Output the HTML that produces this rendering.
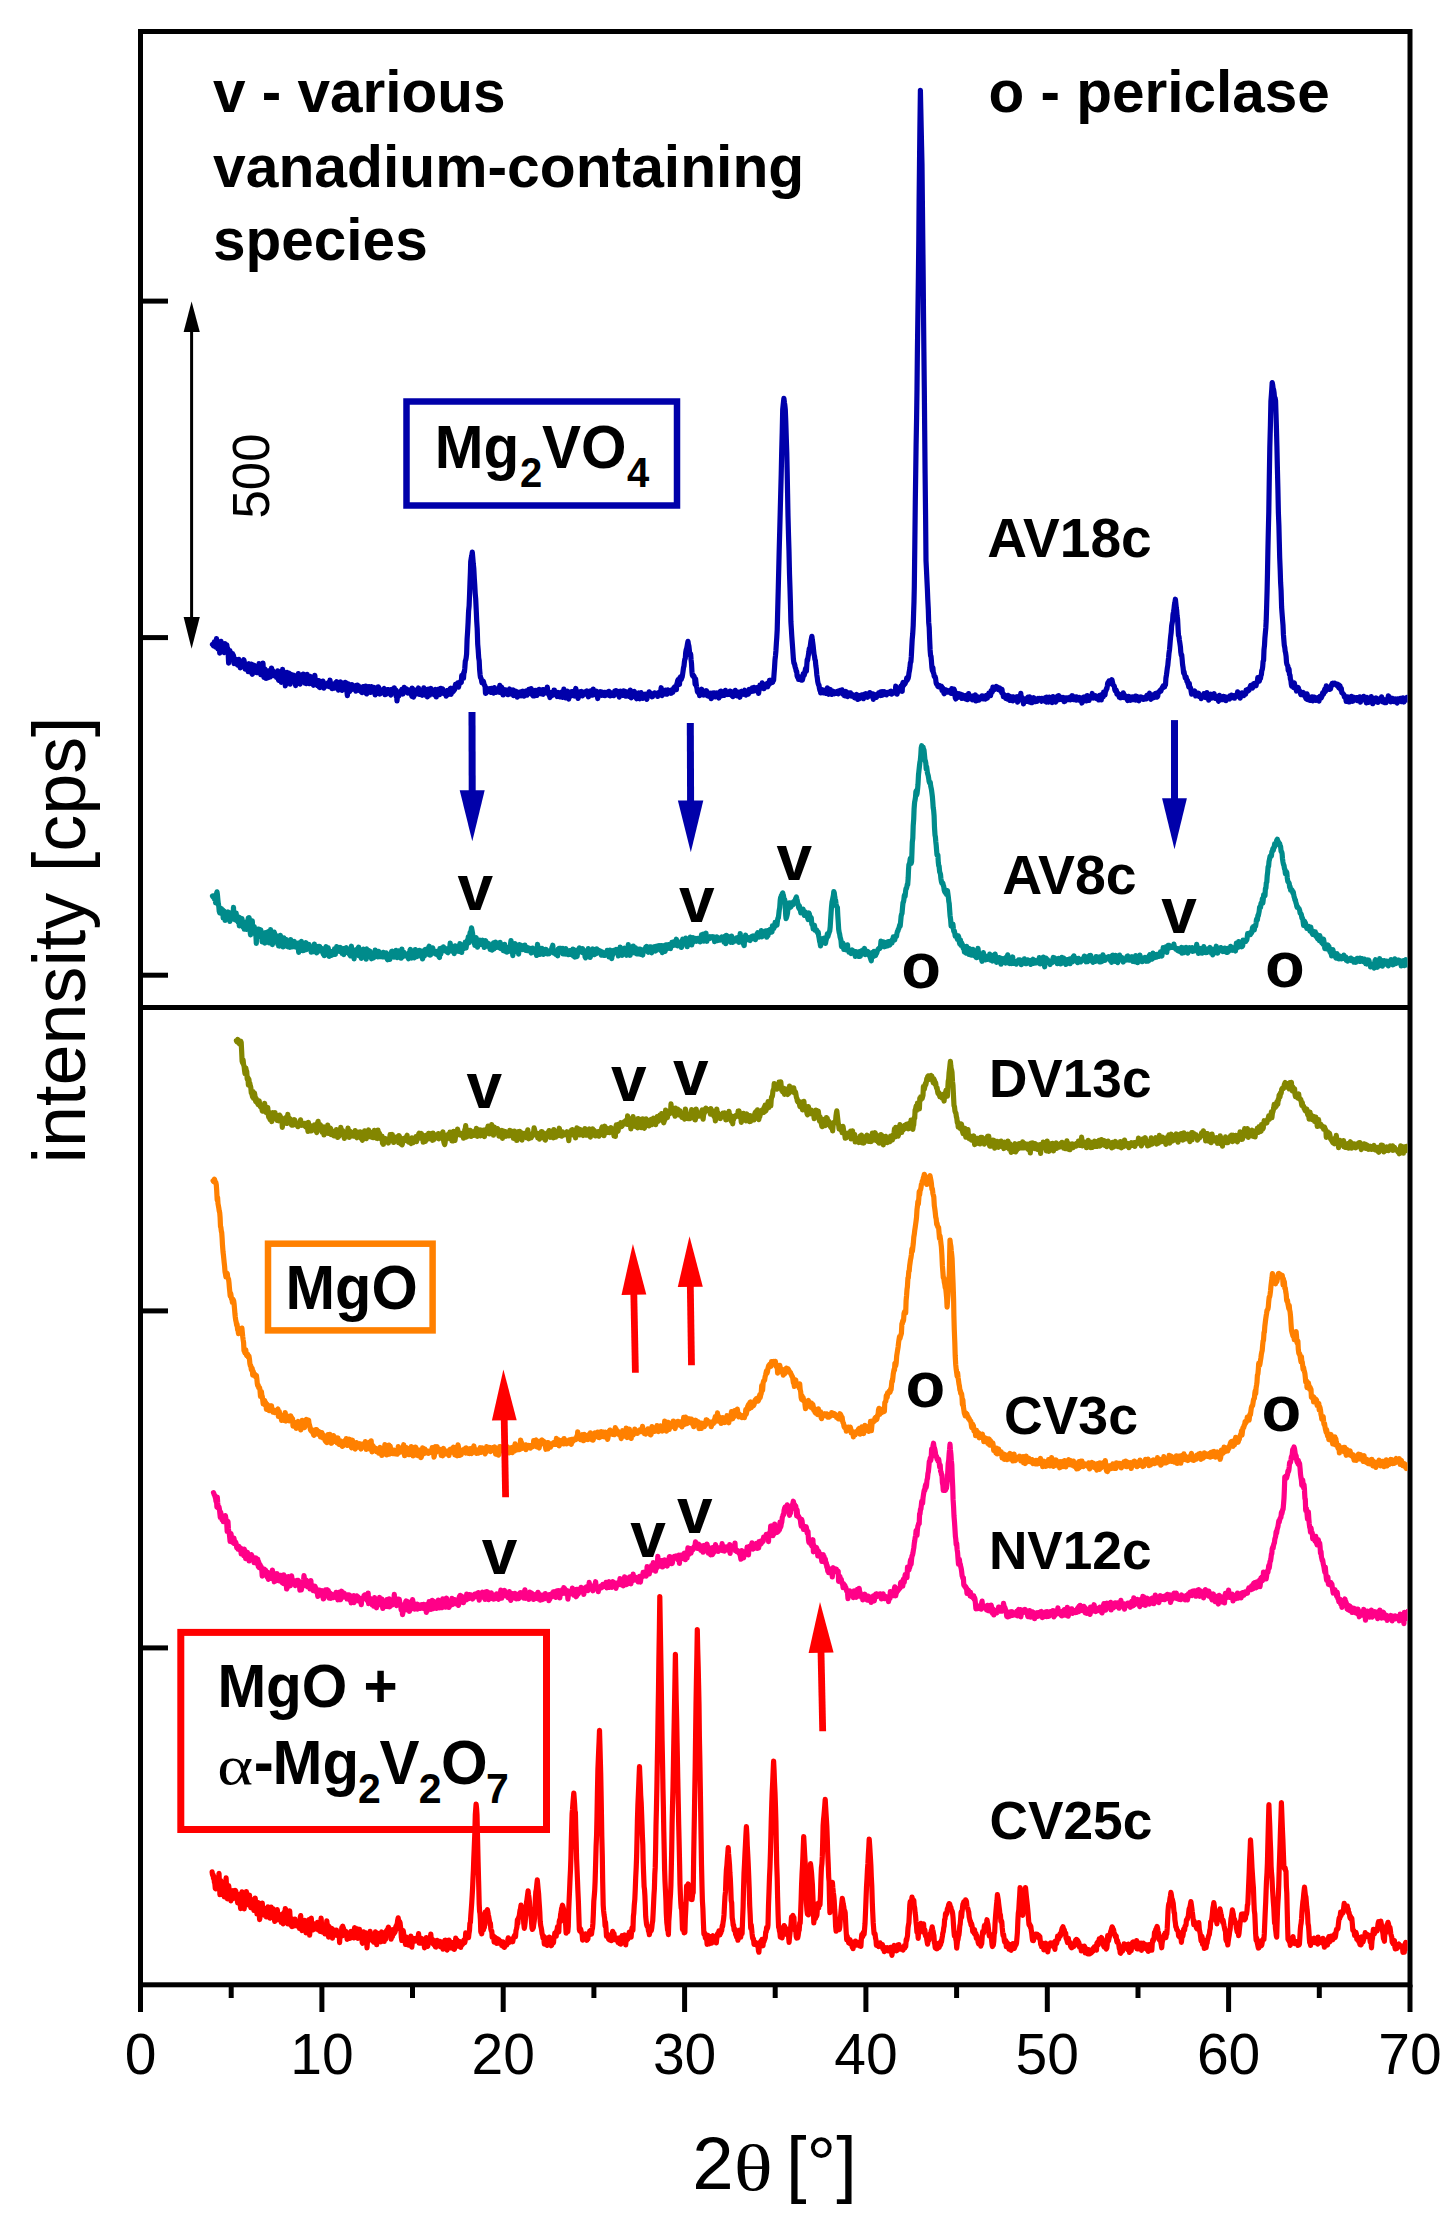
<!DOCTYPE html>
<html><head><meta charset="utf-8"><title>XRD</title>
<style>html,body{margin:0;padding:0;background:#fff;overflow:hidden;width:1455px;height:2240px;}svg{display:block;}</style></head>
<body><svg width="1455" height="2240" viewBox="0 0 1455 2240">
<rect x="0" y="0" width="1455" height="2240" fill="#fff"/>
<rect x="140.5" y="31.5" width="1269.5" height="1953.3" fill="none" stroke="#000" stroke-width="5"/>
<line x1="140.5" y1="1007.6" x2="1410" y2="1007.6" stroke="#000" stroke-width="5"/>
<line x1="140.5" y1="301.1" x2="168" y2="301.1" stroke="#000" stroke-width="5"/>
<line x1="140.5" y1="637.6" x2="168" y2="637.6" stroke="#000" stroke-width="5"/>
<line x1="140.5" y1="975.2" x2="168" y2="975.2" stroke="#000" stroke-width="5"/>
<line x1="140.5" y1="1310.9" x2="168" y2="1310.9" stroke="#000" stroke-width="5"/>
<line x1="140.5" y1="1647.9" x2="168" y2="1647.9" stroke="#000" stroke-width="5"/>
<line x1="140.5" y1="1984.7" x2="140.5" y2="2012" stroke="#000" stroke-width="5"/>
<line x1="231.2" y1="1984.7" x2="231.2" y2="1998" stroke="#000" stroke-width="5"/>
<line x1="321.9" y1="1984.7" x2="321.9" y2="2012" stroke="#000" stroke-width="5"/>
<line x1="412.5" y1="1984.7" x2="412.5" y2="1998" stroke="#000" stroke-width="5"/>
<line x1="503.2" y1="1984.7" x2="503.2" y2="2012" stroke="#000" stroke-width="5"/>
<line x1="593.9" y1="1984.7" x2="593.9" y2="1998" stroke="#000" stroke-width="5"/>
<line x1="684.6" y1="1984.7" x2="684.6" y2="2012" stroke="#000" stroke-width="5"/>
<line x1="775.2" y1="1984.7" x2="775.2" y2="1998" stroke="#000" stroke-width="5"/>
<line x1="865.9" y1="1984.7" x2="865.9" y2="2012" stroke="#000" stroke-width="5"/>
<line x1="956.6" y1="1984.7" x2="956.6" y2="1998" stroke="#000" stroke-width="5"/>
<line x1="1047.3" y1="1984.7" x2="1047.3" y2="2012" stroke="#000" stroke-width="5"/>
<line x1="1138.0" y1="1984.7" x2="1138.0" y2="1998" stroke="#000" stroke-width="5"/>
<line x1="1228.6" y1="1984.7" x2="1228.6" y2="2012" stroke="#000" stroke-width="5"/>
<line x1="1319.3" y1="1984.7" x2="1319.3" y2="1998" stroke="#000" stroke-width="5"/>
<line x1="1410.0" y1="1984.7" x2="1410.0" y2="2012" stroke="#000" stroke-width="5"/>
<text x="140.5" y="2074" font-size="57" text-anchor="middle" font-family="Liberation Sans">0</text>
<text x="321.9" y="2074" font-size="57" text-anchor="middle" font-family="Liberation Sans">10</text>
<text x="503.2" y="2074" font-size="57" text-anchor="middle" font-family="Liberation Sans">20</text>
<text x="684.6" y="2074" font-size="57" text-anchor="middle" font-family="Liberation Sans">30</text>
<text x="865.9" y="2074" font-size="57" text-anchor="middle" font-family="Liberation Sans">40</text>
<text x="1047.3" y="2074" font-size="57" text-anchor="middle" font-family="Liberation Sans">50</text>
<text x="1228.6" y="2074" font-size="57" text-anchor="middle" font-family="Liberation Sans">60</text>
<text x="1410.0" y="2074" font-size="57" text-anchor="middle" font-family="Liberation Sans">70</text>
<text x="692.3" y="2189" font-size="74.5" font-family="Liberation Sans">2</text>
<text x="0" y="0" font-size="74" font-family="Liberation Serif" transform="translate(733.8,2190) scale(1.1,0.89)">θ</text>
<text x="786" y="2189" font-size="74" font-family="Liberation Sans">[°]</text>
<text x="0" y="0" font-size="73.8" font-family="Liberation Sans" transform="translate(85,1163.5) rotate(-90)">intensity [cps]</text>
<line x1="191.6" y1="325" x2="191.6" y2="625" stroke="#000" stroke-width="3"/>
<polygon points="191.6,301.4 183.6,332 199.8,332" fill="#000"/>
<polygon points="191.6,648.7 183.6,617 199.8,617" fill="#000"/>
<text x="0" y="0" font-size="51" font-family="Liberation Sans" transform="translate(268.7,518.5) rotate(-90)">500</text>
<text x="213" y="111.5" font-size="58.5" font-family="Liberation Sans" font-weight="bold">v - various</text>
<text x="213" y="186.7" font-size="58.8" font-family="Liberation Sans" font-weight="bold">vanadium-containing</text>
<text x="213" y="260" font-size="58.5" font-family="Liberation Sans" font-weight="bold">species</text>
<text x="988.5" y="112" font-size="58.5" font-family="Liberation Sans" font-weight="bold">o - periclase</text>
<defs><clipPath id="pc"><rect x="143" y="34" width="1264.5" height="1948"/></clipPath></defs>
<g clip-path="url(#pc)"><path d="M212.5 644.4L213.0 644.9L213.4 645.8L213.8 644.3L214.3 642.0L214.7 643.3L215.2 644.9L215.6 647.1L216.1 641.3L216.5 638.6L217.0 644.3L217.4 645.2L217.9 649.0L218.3 648.6L218.8 645.1L219.2 643.7L219.7 653.2L220.1 646.6L220.5 643.2L221.0 641.3L221.4 645.1L221.9 646.6L222.3 645.7L222.8 646.6L223.2 648.3L223.7 650.4L224.1 652.6L224.6 650.6L225.0 643.6L225.5 650.0L225.9 645.2L226.4 648.1L226.8 644.9L227.3 649.2L227.7 648.3L228.1 651.6L228.6 663.1L229.0 655.9L229.5 657.0L229.9 650.6L230.4 652.4L230.8 656.4L231.3 655.5L231.7 657.0L232.2 657.0L232.6 653.7L233.1 658.2L233.5 655.4L234.0 663.6L234.4 658.7L234.8 661.4L235.3 660.4L235.7 663.5L236.2 659.4L236.6 663.5L237.1 661.2L237.5 665.1L238.0 664.4L238.4 662.7L238.9 659.4L239.3 663.5L239.8 663.9L240.2 667.8L240.7 662.7L241.1 664.3L241.5 664.7L242.0 664.3L242.4 664.0L242.9 664.0L243.3 661.6L243.8 659.7L244.2 661.2L244.7 664.9L245.1 669.1L245.6 668.7L246.0 669.0L246.5 668.3L246.9 668.0L247.4 666.4L247.8 667.9L248.2 671.6L248.7 666.3L249.1 663.7L249.6 671.3L250.0 668.3L250.5 669.8L250.9 670.1L251.4 664.1L251.8 673.4L252.3 674.3L252.7 669.8L253.2 670.3L253.6 668.7L254.1 665.2L254.5 666.6L254.9 668.6L255.4 671.5L255.8 671.3L256.3 669.3L256.7 672.7L257.2 667.5L257.6 670.7L258.1 672.7L258.5 669.1L259.0 663.7L259.4 664.8L259.9 668.6L260.3 670.8L260.8 674.6L261.2 668.1L261.6 669.3L262.1 671.7L262.5 670.1L263.0 663.1L263.4 670.6L263.9 677.4L264.3 675.6L264.8 669.5L265.2 669.3L265.7 671.2L266.1 678.5L266.6 675.3L267.0 672.9L267.5 676.5L267.9 672.9L268.4 677.6L268.8 671.7L269.2 670.6L269.7 673.8L270.1 677.0L270.6 675.7L271.0 674.4L271.5 668.0L271.9 669.4L272.4 670.2L272.8 670.8L273.3 674.3L273.7 672.8L274.2 675.7L274.6 674.7L275.1 673.3L275.5 674.3L275.9 675.5L276.4 677.3L276.8 674.1L277.3 673.9L277.7 670.8L278.2 678.4L278.6 680.3L279.1 676.4L279.5 674.5L280.0 671.9L280.4 675.2L280.9 676.4L281.3 682.4L281.8 678.9L282.2 675.1L282.6 669.4L283.1 678.5L283.5 678.0L284.0 672.9L284.4 676.5L284.9 672.7L285.3 685.8L285.8 683.3L286.2 681.1L286.7 678.5L287.1 672.4L287.6 676.3L288.0 673.6L288.5 678.8L288.9 673.0L289.3 674.7L289.8 681.1L290.2 684.1L290.7 677.3L291.1 674.4L291.6 680.1L292.0 681.7L292.5 677.2L292.9 676.7L293.4 676.6L293.8 675.2L294.3 676.2L294.7 681.7L295.2 681.8L295.6 685.6L296.0 681.0L296.5 679.5L296.9 676.8L297.4 678.3L297.8 675.6L298.3 673.6L298.7 679.5L299.2 683.3L299.6 682.8L300.1 684.0L300.5 681.5L301.0 678.3L301.4 679.4L301.9 678.6L302.3 676.4L302.7 674.2L303.2 674.1L303.6 678.0L304.1 679.6L304.5 678.5L305.0 683.1L305.4 681.2L305.9 681.8L306.3 683.6L306.8 678.8L307.2 674.4L307.7 680.3L308.1 678.4L308.6 683.2L309.0 682.1L309.5 683.7L309.9 683.6L310.3 676.3L310.8 681.4L311.2 679.5L311.7 678.8L312.1 679.5L312.6 682.9L313.0 684.3L313.5 685.2L313.9 678.6L314.4 679.5L314.8 675.3L315.3 680.0L315.7 683.3L316.2 680.8L316.6 682.8L317.0 683.4L317.5 685.7L317.9 681.8L318.4 680.7L318.8 680.6L319.3 687.2L319.7 687.5L320.2 684.6L320.6 684.7L321.1 684.6L321.5 684.8L322.0 684.0L322.4 683.5L322.9 681.1L323.3 682.0L323.7 688.2L324.2 687.3L324.6 686.0L325.1 684.9L325.5 685.3L326.0 686.2L326.4 684.0L326.9 685.5L327.3 686.1L327.8 683.8L328.2 683.0L328.7 682.3L329.1 682.0L329.6 686.8L330.0 680.1L330.4 683.4L330.9 683.6L331.3 683.6L331.8 685.5L332.2 688.6L332.7 687.0L333.1 686.0L333.6 684.5L334.0 685.3L334.5 688.2L334.9 685.8L335.4 683.3L335.8 682.3L336.3 682.4L336.7 681.7L337.1 687.8L337.6 687.8L338.0 686.3L338.5 690.1L338.9 686.0L339.4 688.3L339.8 689.2L340.3 683.7L340.7 682.0L341.2 683.1L341.6 688.0L342.1 690.4L342.5 685.0L343.0 689.0L343.4 686.7L343.8 686.0L344.3 685.5L344.7 685.9L345.2 682.4L345.6 683.4L346.1 683.1L346.5 687.3L347.0 692.5L347.4 695.6L347.9 689.1L348.3 683.8L348.8 685.5L349.2 684.7L349.7 691.6L350.1 690.3L350.5 686.8L351.0 689.8L351.4 689.7L351.9 684.5L352.3 685.7L352.8 686.7L353.2 687.7L353.7 688.3L354.1 687.4L354.6 688.4L355.0 686.9L355.5 685.7L355.9 691.2L356.4 690.1L356.8 690.0L357.3 685.1L357.7 687.1L358.1 690.1L358.6 685.9L359.0 690.5L359.5 688.3L359.9 689.6L360.4 688.7L360.8 689.3L361.3 691.9L361.7 688.8L362.2 692.6L362.6 688.2L363.1 686.6L363.5 690.0L364.0 686.9L364.4 687.6L364.8 690.9L365.3 692.6L365.7 686.1L366.2 689.6L366.6 693.9L367.1 693.6L367.5 690.2L368.0 688.3L368.4 688.5L368.9 686.6L369.3 688.1L369.8 688.8L370.2 689.1L370.7 692.4L371.1 690.1L371.5 686.5L372.0 691.4L372.4 687.9L372.9 688.3L373.3 689.2L373.8 689.0L374.2 687.5L374.7 688.8L375.1 694.9L375.6 690.3L376.0 690.0L376.5 692.9L376.9 692.9L377.4 693.0L377.8 693.2L378.2 686.8L378.7 687.5L379.1 690.0L379.6 691.6L380.0 694.0L380.5 692.8L380.9 690.9L381.4 691.0L381.8 690.4L382.3 691.4L382.7 692.7L383.2 690.8L383.6 689.1L384.1 688.6L384.5 692.9L384.9 694.7L385.4 694.5L385.8 694.2L386.3 694.1L386.7 692.2L387.2 693.2L387.6 689.6L388.1 690.5L388.5 689.6L389.0 692.7L389.4 690.7L389.9 691.2L390.3 692.5L390.8 695.1L391.2 691.0L391.6 689.5L392.1 693.1L392.5 689.8L393.0 692.4L393.4 690.9L393.9 691.5L394.3 687.9L394.8 692.5L395.2 691.2L395.7 690.0L396.1 696.3L396.6 695.1L397.0 701.0L397.5 695.9L397.9 692.6L398.4 692.7L398.8 696.0L399.2 693.4L399.7 693.7L400.1 693.9L400.6 690.8L401.0 692.2L401.5 691.2L401.9 689.3L402.4 693.4L402.8 694.1L403.3 693.1L403.7 690.6L404.2 687.4L404.6 692.0L405.1 692.0L405.5 688.6L405.9 691.1L406.4 688.7L406.8 691.2L407.3 692.3L407.7 693.1L408.2 693.1L408.6 693.0L409.1 690.1L409.5 690.8L410.0 690.8L410.4 691.4L410.9 692.7L411.3 693.8L411.8 696.3L412.2 688.0L412.6 691.9L413.1 691.8L413.5 697.1L414.0 695.8L414.4 689.8L414.9 692.5L415.3 691.3L415.8 694.2L416.2 690.6L416.7 691.6L417.1 691.9L417.6 692.0L418.0 691.0L418.5 688.0L418.9 692.1L419.3 694.4L419.8 692.8L420.2 690.3L420.7 692.2L421.1 693.5L421.6 692.3L422.0 692.3L422.5 695.3L422.9 690.9L423.4 690.7L423.8 687.9L424.3 689.5L424.7 690.0L425.2 689.6L425.6 690.1L426.0 695.5L426.5 692.9L426.9 692.3L427.4 697.0L427.8 693.6L428.3 689.1L428.7 692.2L429.2 690.4L429.6 695.2L430.1 690.6L430.5 690.6L431.0 688.5L431.4 691.4L431.9 690.0L432.3 691.5L432.7 691.3L433.2 690.7L433.6 693.8L434.1 694.7L434.5 693.1L435.0 690.6L435.4 689.5L435.9 691.9L436.3 697.0L436.8 692.7L437.2 690.7L437.7 690.2L438.1 689.3L438.6 689.2L439.0 690.8L439.5 694.6L439.9 692.8L440.3 691.2L440.8 688.4L441.2 691.3L441.7 691.7L442.1 689.3L442.6 688.9L443.0 690.9L443.5 693.6L443.9 693.6L444.4 692.7L444.8 691.4L445.3 692.3L445.7 691.8L446.2 696.1L446.6 690.7L447.0 690.6L447.5 693.9L447.9 691.7L448.4 694.5L448.8 692.3L449.3 692.0L449.7 690.9L450.2 688.5L450.6 688.3L451.1 694.3L451.5 692.8L451.9 691.9L452.4 692.1L452.8 691.2L453.3 691.5L453.7 688.8L454.1 687.8L454.6 689.7L455.0 687.3L455.5 684.4L455.9 685.5L456.3 684.9L456.8 686.8L457.2 684.5L457.7 682.8L458.1 683.5L458.5 687.2L459.0 684.9L459.4 683.7L459.9 682.3L460.3 681.7L460.8 682.0L461.3 682.3L461.7 675.6L462.2 678.8L462.6 676.3L463.1 674.2L463.5 678.2L464.0 671.8L464.4 672.1L464.8 668.3L465.3 661.2L465.7 660.1L466.1 658.3L466.6 654.1L467.1 639.2L467.6 631.6L468.1 622.5L468.6 610.9L469.1 606.1L469.6 593.5L470.0 582.4L470.4 572.3L470.7 561.7L471.2 558.4L471.8 555.6L472.3 552.1L472.8 558.0L473.3 564.1L473.8 568.6L474.3 578.1L474.7 584.1L475.2 593.1L475.7 598.9L476.2 609.3L476.7 620.9L477.2 628.7L477.7 644.1L478.2 650.0L478.7 657.9L479.2 660.8L479.6 669.5L480.1 674.8L480.5 677.5L481.0 678.2L481.4 679.5L481.9 682.7L482.4 681.9L482.8 680.9L483.3 681.1L483.7 682.5L484.2 685.0L484.6 685.0L485.1 686.8L485.5 693.4L486.0 693.3L486.4 687.9L486.9 689.1L487.3 689.0L487.8 688.7L488.2 691.1L488.7 689.2L489.1 688.8L489.6 688.7L490.0 689.3L490.5 692.3L490.9 692.4L491.3 688.4L491.8 689.1L492.2 688.7L492.7 691.9L493.1 691.8L493.6 693.0L494.0 691.6L494.5 687.5L494.9 690.9L495.4 691.5L495.8 692.3L496.3 689.0L496.7 690.7L497.1 689.8L497.6 689.5L498.0 691.4L498.5 692.0L498.9 689.8L499.4 687.6L499.8 685.4L500.3 688.5L500.7 692.7L501.2 691.7L501.6 687.2L502.1 688.5L502.5 691.4L503.0 694.8L503.4 694.8L503.8 693.3L504.3 692.5L504.7 689.8L505.2 690.2L505.6 690.6L506.1 689.9L506.5 691.3L507.0 690.9L507.4 692.1L507.9 694.7L508.3 694.1L508.8 693.4L509.2 691.9L509.7 689.0L510.1 690.9L510.6 692.8L511.0 690.4L511.5 694.1L511.9 692.2L512.4 693.0L512.8 691.9L513.3 689.9L513.7 695.7L514.2 691.3L514.6 694.0L515.1 692.0L515.5 693.0L516.0 691.3L516.4 691.6L516.9 694.3L517.3 697.1L517.8 692.6L518.2 692.9L518.7 694.9L519.1 692.5L519.6 694.4L520.0 692.1L520.4 694.1L520.9 694.3L521.3 695.8L521.8 694.7L522.2 691.3L522.7 693.8L523.1 691.2L523.6 694.0L524.0 696.2L524.5 695.1L524.9 692.6L525.4 695.1L525.8 693.9L526.3 690.9L526.7 691.6L527.1 695.2L527.6 693.0L528.0 693.1L528.5 692.3L528.9 689.4L529.4 690.8L529.8 692.9L530.3 693.2L530.7 692.5L531.2 688.6L531.6 693.8L532.1 694.4L532.5 695.1L533.0 695.8L533.4 692.7L533.8 691.5L534.3 692.8L534.7 695.8L535.2 690.3L535.6 691.4L536.1 690.8L536.5 693.0L537.0 695.4L537.4 692.7L537.9 690.1L538.3 691.8L538.8 691.7L539.2 689.3L539.7 693.2L540.1 691.7L540.5 693.6L541.0 690.4L541.4 694.0L541.9 690.3L542.3 693.9L542.8 689.6L543.2 694.3L543.7 692.5L544.1 689.7L544.6 691.4L545.0 693.0L545.5 691.0L545.9 691.3L546.4 692.9L546.8 692.5L547.3 687.0L547.7 690.3L548.1 692.9L548.6 693.5L549.0 695.0L549.5 692.3L549.9 697.6L550.4 695.9L550.8 694.5L551.3 695.5L551.7 695.6L552.2 694.0L552.6 692.2L553.1 694.8L553.5 694.4L554.0 690.0L554.4 690.2L554.8 693.2L555.3 693.4L555.7 693.8L556.2 694.7L556.6 694.0L557.1 696.5L557.5 693.2L558.0 692.6L558.4 693.8L558.9 694.9L559.3 695.4L559.8 696.8L560.2 693.6L560.7 695.7L561.1 695.1L561.5 692.1L562.0 692.9L562.4 697.3L562.9 696.2L563.3 693.5L563.8 689.2L564.2 691.0L564.7 691.6L565.1 693.2L565.6 697.9L566.0 696.4L566.5 695.2L566.9 692.5L567.4 691.2L567.8 692.7L568.2 692.7L568.7 699.1L569.1 694.7L569.6 693.1L570.0 695.8L570.5 694.7L570.9 691.9L571.4 695.8L571.8 694.0L572.3 691.6L572.7 694.0L573.2 695.0L573.6 693.8L574.1 695.3L574.5 696.0L574.9 693.0L575.4 690.0L575.8 688.4L576.3 692.1L576.7 695.7L577.2 696.3L577.6 697.2L578.1 698.3L578.5 695.3L579.0 696.2L579.4 691.8L579.9 694.5L580.3 694.7L580.8 693.9L581.2 693.0L581.6 691.5L582.1 693.3L582.5 695.9L583.0 693.7L583.4 694.6L583.9 692.7L584.3 693.8L584.8 691.8L585.2 693.7L585.7 693.2L586.1 694.0L586.6 692.5L587.0 691.0L587.5 692.1L587.9 694.9L588.4 696.8L588.8 693.8L589.2 695.0L589.7 695.2L590.1 694.6L590.6 690.9L591.0 693.1L591.5 691.5L591.9 694.9L592.4 695.2L592.8 695.0L593.3 689.2L593.7 693.3L594.2 694.6L594.6 691.5L595.1 694.6L595.5 694.0L595.9 693.3L596.4 692.2L596.8 691.3L597.3 692.1L597.7 698.7L598.2 695.5L598.6 694.6L599.1 692.8L599.5 692.3L600.0 692.3L600.4 691.7L600.9 694.7L601.3 693.6L601.8 695.3L602.2 692.2L602.6 695.0L603.1 694.2L603.5 695.2L604.0 694.1L604.4 692.4L604.9 695.7L605.3 693.7L605.8 693.6L606.2 692.3L606.7 693.9L607.1 693.3L607.6 694.4L608.0 694.8L608.5 693.1L608.9 691.3L609.3 694.1L609.8 695.8L610.2 695.9L610.7 692.6L611.1 694.7L611.6 694.9L612.0 694.8L612.5 695.0L612.9 693.7L613.4 694.3L613.8 695.7L614.3 693.5L614.7 691.2L615.2 692.9L615.6 693.9L616.0 690.5L616.5 691.6L616.9 694.2L617.4 693.6L617.8 693.9L618.3 691.5L618.7 694.6L619.2 697.1L619.6 694.3L620.1 692.5L620.5 691.2L621.0 694.4L621.4 694.0L621.9 692.2L622.3 695.3L622.7 695.4L623.2 695.1L623.6 690.8L624.1 692.4L624.5 694.2L625.0 691.4L625.4 694.4L625.9 696.2L626.3 696.0L626.8 692.8L627.2 691.9L627.7 694.6L628.1 695.5L628.6 696.2L629.0 696.4L629.5 694.2L629.9 693.0L630.3 690.1L630.8 694.0L631.2 697.8L631.7 694.1L632.1 693.0L632.6 694.7L633.0 694.8L633.5 691.7L633.9 692.0L634.4 691.5L634.8 696.8L635.3 693.6L635.7 695.5L636.2 698.0L636.6 698.7L637.0 698.1L637.5 698.3L637.9 693.4L638.4 693.5L638.8 692.9L639.3 693.5L639.7 698.8L640.2 692.9L640.6 695.1L641.1 692.6L641.5 696.4L642.0 697.5L642.4 694.7L642.9 698.4L643.3 696.1L643.7 697.6L644.2 696.3L644.6 694.4L645.1 694.2L645.5 694.6L646.0 696.0L646.4 695.5L646.9 699.3L647.3 695.9L647.8 694.4L648.2 693.5L648.7 693.1L649.1 691.8L649.6 692.2L650.0 695.6L650.4 695.1L650.9 694.6L651.3 695.3L651.8 696.7L652.2 696.4L652.7 696.5L653.1 694.2L653.6 694.0L654.0 693.1L654.5 694.0L654.9 692.9L655.4 693.4L655.8 693.9L656.3 693.9L656.7 693.8L657.1 693.4L657.6 696.4L658.0 694.4L658.5 692.6L658.9 694.2L659.4 692.4L659.8 691.9L660.3 693.7L660.7 691.2L661.2 687.7L661.6 692.8L662.1 695.6L662.5 691.7L663.0 691.9L663.4 694.4L663.8 690.7L664.3 691.5L664.7 691.1L665.2 692.7L665.6 690.1L666.1 694.2L666.5 693.6L667.0 694.1L667.4 693.2L667.9 689.8L668.3 692.1L668.8 690.7L669.2 692.6L669.7 691.6L670.1 692.2L670.5 692.0L671.0 693.3L671.4 693.2L671.9 689.8L672.3 690.1L672.8 692.3L673.2 690.9L673.7 688.0L674.1 687.8L674.6 687.0L675.0 688.6L675.5 687.2L675.9 687.0L676.4 689.7L676.8 684.0L677.3 682.5L677.7 680.5L678.1 679.8L678.6 683.4L679.0 683.1L679.5 684.4L679.9 677.8L680.4 676.9L680.8 679.9L681.3 679.3L681.7 678.0L682.2 676.9L682.6 674.3L683.1 670.8L683.5 667.8L684.0 666.1L684.4 661.9L684.8 659.3L685.3 658.4L685.7 652.4L686.2 649.8L686.6 648.8L687.1 646.1L687.5 643.8L688.0 641.4L688.4 644.1L688.9 646.1L689.3 649.6L689.8 654.4L690.2 653.0L690.7 654.5L691.1 660.0L691.5 663.5L692.0 672.5L692.4 675.5L692.9 674.6L693.3 676.6L693.8 675.9L694.2 676.7L694.7 679.0L695.1 684.3L695.6 678.8L696.0 682.5L696.5 686.6L696.9 688.0L697.4 691.7L697.8 691.6L698.2 692.3L698.7 693.3L699.1 691.8L699.6 695.6L700.0 692.0L700.5 692.8L700.9 692.3L701.4 691.8L701.8 689.2L702.3 691.5L702.7 693.1L703.2 693.6L703.6 695.0L704.1 693.7L704.5 692.5L704.9 693.8L705.4 694.8L705.8 692.5L706.3 690.7L706.7 691.1L707.2 694.7L707.6 695.7L708.1 692.8L708.5 693.7L709.0 695.2L709.4 696.4L709.9 693.5L710.3 693.3L710.8 696.1L711.2 698.6L711.6 697.9L712.1 693.2L712.5 694.5L713.0 693.6L713.4 693.8L713.9 692.9L714.3 692.9L714.8 693.7L715.2 697.0L715.7 696.2L716.1 695.5L716.6 694.6L717.0 693.0L717.5 693.4L717.9 696.0L718.4 696.1L718.8 698.0L719.2 695.8L719.7 694.6L720.1 691.6L720.6 694.1L721.0 691.2L721.5 695.8L721.9 693.6L722.4 694.0L722.8 691.8L723.3 692.6L723.7 692.1L724.2 695.4L724.6 695.0L725.1 692.4L725.5 690.4L725.9 692.9L726.4 693.0L726.8 691.9L727.3 694.5L727.7 693.9L728.2 694.3L728.6 693.2L729.1 692.9L729.5 693.0L730.0 691.1L730.4 694.3L730.9 694.9L731.3 691.5L731.8 693.5L732.2 695.9L732.6 695.1L733.1 696.6L733.5 694.4L734.0 694.2L734.4 692.0L734.9 691.9L735.3 690.3L735.8 691.3L736.2 693.4L736.7 694.5L737.1 695.8L737.6 694.4L738.0 692.1L738.5 693.7L738.9 693.1L739.3 696.1L739.8 697.2L740.2 695.8L740.7 691.9L741.1 691.6L741.6 692.7L742.0 691.4L742.5 693.1L742.9 693.8L743.4 694.2L743.8 693.2L744.3 691.0L744.7 690.3L745.2 691.3L745.6 693.9L746.0 695.0L746.5 694.3L746.9 693.0L747.4 693.1L747.8 693.3L748.3 694.1L748.7 693.5L749.2 689.3L749.6 692.1L750.1 692.0L750.5 690.5L751.0 691.6L751.4 691.5L751.9 690.8L752.3 687.8L752.7 689.8L753.2 691.0L753.6 690.2L754.1 687.3L754.5 689.7L755.0 690.7L755.4 690.0L755.9 690.1L756.3 688.7L756.8 687.6L757.2 689.1L757.7 688.0L758.1 688.4L758.6 693.5L759.0 690.7L759.5 688.8L759.9 685.2L760.3 686.8L760.8 688.3L761.2 686.2L761.7 686.2L762.2 682.8L762.6 686.3L763.1 685.3L763.5 687.1L764.0 688.6L764.5 686.4L764.9 687.6L765.4 686.6L765.8 685.4L766.3 684.8L766.8 683.6L767.2 686.7L767.7 686.8L768.1 683.3L768.6 685.0L769.0 682.6L769.5 680.3L769.9 683.7L770.4 680.4L770.8 683.1L771.3 682.0L771.8 682.5L772.2 681.7L772.7 682.2L773.1 680.7L773.6 680.3L774.1 673.4L774.5 668.3L775.0 659.8L775.5 655.6L775.9 651.0L776.4 642.9L776.8 637.2L777.2 629.8L777.7 610.1L778.2 591.3L778.7 571.0L779.2 550.2L779.7 531.7L780.2 512.7L780.7 493.5L781.2 474.6L781.7 451.4L782.2 432.6L782.7 409.5L783.1 405.4L783.5 401.9L783.9 398.4L784.4 402.4L784.9 405.7L785.3 409.6L785.8 422.2L786.3 438.4L786.8 453.3L787.2 472.5L787.6 494.1L788.0 515.8L788.5 534.9L789.0 551.3L789.5 573.8L790.0 588.8L790.5 605.8L790.9 622.0L791.4 629.6L791.8 636.3L792.2 642.0L792.6 647.4L793.0 653.4L793.4 659.1L793.9 663.2L794.4 663.4L794.8 665.5L795.3 667.5L795.7 668.6L796.2 671.2L796.7 671.4L797.1 675.9L797.6 677.2L798.0 676.4L798.5 679.4L798.9 676.6L799.3 678.2L799.8 678.8L800.2 677.5L800.7 677.8L801.1 680.0L801.5 679.5L802.0 678.8L802.4 680.0L802.9 677.8L803.3 673.6L803.8 673.4L804.2 675.3L804.6 673.8L805.1 671.3L805.5 668.6L806.0 671.0L806.4 671.1L806.8 664.8L807.2 659.5L807.6 660.3L808.1 656.9L808.5 654.4L808.9 651.7L809.3 648.5L809.8 648.0L810.2 646.6L810.6 643.7L811.0 640.7L811.4 638.8L811.9 636.3L812.3 639.7L812.7 642.3L813.2 646.4L813.6 650.2L814.1 654.7L814.5 656.2L814.9 659.3L815.4 660.7L815.8 665.5L816.3 668.8L816.8 674.8L817.3 678.0L817.7 681.4L818.2 683.7L818.6 685.0L819.0 685.2L819.4 688.2L819.9 690.3L820.3 690.8L820.7 692.9L821.1 692.1L821.6 689.6L822.0 689.6L822.5 689.9L822.9 691.8L823.3 692.7L823.8 691.7L824.2 692.9L824.7 690.3L825.1 690.7L825.6 693.4L826.0 692.6L826.4 693.3L826.9 688.9L827.3 687.9L827.8 688.9L828.2 692.3L828.6 694.3L829.1 691.3L829.5 689.9L830.0 689.4L830.4 689.5L830.9 691.9L831.3 691.2L831.7 694.5L832.2 693.7L832.6 691.3L833.1 692.0L833.5 691.6L833.9 693.1L834.4 693.7L834.8 691.9L835.3 693.4L835.7 693.3L836.2 692.3L836.6 692.6L837.0 693.3L837.5 692.0L837.9 691.1L838.4 693.9L838.8 692.8L839.3 691.6L839.7 693.0L840.2 690.4L840.6 692.1L841.1 690.5L841.5 691.5L842.0 689.8L842.4 691.0L842.9 694.0L843.3 693.2L843.8 691.4L844.2 695.6L844.7 693.2L845.1 695.9L845.6 693.6L846.0 691.5L846.5 696.1L846.9 694.0L847.4 695.3L847.8 696.5L848.3 692.9L848.7 694.1L849.2 693.5L849.6 695.3L850.1 694.9L850.5 692.9L851.0 694.4L851.4 696.0L851.9 694.9L852.3 696.0L852.8 694.7L853.2 695.1L853.7 695.9L854.1 695.9L854.6 697.8L855.0 697.9L855.5 697.8L855.9 697.7L856.4 696.8L856.8 694.5L857.3 697.4L857.7 699.4L858.2 697.7L858.6 696.5L859.1 696.5L859.5 698.6L860.0 697.8L860.4 695.5L860.9 696.1L861.3 695.3L861.8 695.9L862.2 694.9L862.7 694.7L863.1 698.2L863.5 698.6L864.0 694.5L864.4 694.2L864.9 695.0L865.3 695.2L865.8 693.7L866.2 696.8L866.7 693.8L867.1 696.5L867.5 697.2L868.0 695.8L868.4 694.9L868.9 695.7L869.3 696.0L869.8 692.6L870.2 692.8L870.6 695.7L871.1 695.5L871.5 694.9L872.0 693.8L872.4 693.9L872.9 693.8L873.3 699.3L873.7 694.6L874.2 697.5L874.6 696.7L875.1 696.0L875.5 695.7L876.0 694.6L876.4 697.4L876.8 696.5L877.3 695.3L877.7 694.7L878.2 695.0L878.6 693.0L879.1 693.6L879.5 693.3L880.0 695.1L880.4 695.5L880.8 691.8L881.3 693.2L881.7 695.4L882.2 692.5L882.6 691.8L883.1 694.9L883.5 694.0L883.9 693.2L884.4 691.7L884.8 693.4L885.3 692.7L885.7 693.7L886.2 694.2L886.6 694.8L887.0 693.3L887.5 692.5L887.9 693.0L888.4 692.9L888.9 693.2L889.3 692.1L889.8 692.2L890.2 691.6L890.7 691.3L891.2 692.3L891.6 694.1L892.1 691.9L892.5 692.9L893.0 692.8L893.4 692.3L893.9 692.9L894.4 691.1L894.8 692.2L895.3 692.1L895.7 686.1L896.2 690.2L896.7 691.7L897.1 694.2L897.6 690.2L898.0 690.7L898.5 691.1L898.9 688.8L899.4 691.1L899.9 690.4L900.3 687.9L900.8 686.2L901.2 686.6L901.7 690.7L902.2 691.3L902.6 683.9L903.1 682.4L903.5 685.5L904.0 684.9L904.4 683.2L904.9 683.9L905.4 682.7L905.8 682.0L906.3 681.1L906.7 678.1L907.2 680.3L907.7 677.5L908.1 678.5L908.6 676.1L909.0 672.8L909.5 670.4L909.9 667.7L910.4 662.6L910.9 661.8L911.3 656.5L911.8 647.0L912.2 639.5L912.7 634.1L913.2 625.6L913.6 613.1L914.0 601.4L914.3 587.5L914.8 546.3L915.3 502.1L915.7 473.7L916.1 444.6L916.6 417.6L917.0 389.4L917.4 351.0L917.9 313.7L918.4 275.9L918.8 239.8L919.1 201.3L919.5 163.5L919.9 127.0L920.4 90.4L920.8 108.8L921.2 127.7L921.6 146.6L922.0 164.2L922.4 202.8L922.8 240.6L923.2 277.3L923.5 313.5L923.9 351.7L924.3 387.5L924.7 431.1L925.1 473.6L925.6 517.7L926.0 560.6L926.4 568.4L926.9 579.4L927.4 589.7L927.8 599.7L928.3 609.5L928.7 622.4L929.2 627.4L929.6 638.2L930.1 649.7L930.6 656.0L931.0 656.0L931.5 662.0L931.9 667.4L932.4 670.7L932.9 667.6L933.3 672.5L933.8 673.6L934.2 676.3L934.7 676.3L935.1 676.7L935.6 678.5L936.1 682.8L936.5 684.1L937.0 683.9L937.4 684.9L937.9 686.4L938.4 686.8L938.8 686.3L939.3 685.7L939.7 685.7L940.2 686.6L940.6 687.1L941.1 686.1L941.6 686.4L942.0 690.5L942.5 689.0L942.9 688.2L943.4 690.0L943.8 693.0L944.2 693.7L944.7 691.4L945.1 689.8L945.6 690.2L946.0 689.9L946.5 690.4L946.9 692.2L947.4 690.5L947.8 690.5L948.2 691.4L948.7 692.1L949.1 691.3L949.6 691.1L950.0 690.6L950.5 691.2L950.9 693.4L951.3 693.0L951.8 688.5L952.2 693.0L952.7 693.4L953.1 692.4L953.6 693.1L954.0 689.1L954.4 690.2L954.9 694.9L955.3 697.9L955.8 699.0L956.2 694.9L956.7 694.9L957.1 696.1L957.6 693.5L958.0 697.3L958.4 694.7L958.9 695.7L959.3 693.7L959.8 695.5L960.2 695.5L960.7 697.3L961.1 694.4L961.5 695.4L962.0 698.5L962.4 694.9L962.9 696.3L963.3 696.9L963.8 695.7L964.2 695.7L964.6 698.4L965.1 698.8L965.5 698.2L966.0 697.5L966.4 695.3L966.9 696.5L967.3 699.6L967.7 699.4L968.2 695.7L968.6 693.6L969.1 695.2L969.5 697.0L970.0 696.5L970.4 696.7L970.9 697.8L971.3 699.0L971.7 698.3L972.2 699.7L972.6 696.0L973.1 697.9L973.5 698.4L974.0 695.6L974.4 699.0L974.8 695.6L975.3 694.9L975.7 701.0L976.2 700.7L976.6 699.3L977.1 700.3L977.5 700.4L977.9 696.9L978.4 698.3L978.8 700.2L979.3 698.4L979.7 698.2L980.2 697.3L980.6 698.9L981.1 697.4L981.5 697.0L981.9 695.8L982.4 696.0L982.8 697.8L983.3 698.8L983.7 697.7L984.2 696.1L984.6 697.5L985.1 697.7L985.5 699.0L986.0 696.4L986.5 695.5L986.9 696.5L987.4 698.1L987.8 695.9L988.3 695.0L988.8 693.2L989.2 693.3L989.7 695.1L990.1 695.3L990.6 695.6L991.0 690.9L991.5 692.9L992.0 690.4L992.4 691.6L992.9 687.0L993.3 688.7L993.8 687.8L994.2 689.8L994.7 688.5L995.2 688.4L995.6 687.0L996.1 686.5L996.5 687.0L997.0 688.5L997.5 687.9L997.9 687.2L998.4 689.6L998.8 688.9L999.3 689.5L999.7 688.0L1000.2 689.4L1000.7 691.0L1001.1 690.6L1001.6 692.6L1002.0 689.4L1002.5 693.8L1003.0 693.5L1003.4 696.7L1003.9 695.3L1004.3 694.8L1004.8 695.3L1005.2 697.0L1005.7 698.4L1006.2 697.1L1006.6 696.2L1007.1 697.9L1007.5 699.0L1008.0 695.4L1008.5 695.5L1008.9 696.1L1009.4 700.0L1009.8 700.4L1010.3 700.0L1010.7 699.4L1011.2 696.8L1011.7 699.5L1012.1 697.9L1012.6 696.9L1013.0 700.9L1013.5 696.9L1014.0 700.1L1014.4 699.2L1014.9 697.3L1015.3 698.5L1015.8 697.3L1016.2 698.5L1016.7 697.7L1017.2 696.6L1017.6 702.2L1018.1 699.1L1018.5 700.4L1019.0 699.3L1019.4 700.0L1019.9 697.3L1020.3 696.8L1020.8 693.3L1021.2 698.8L1021.7 699.6L1022.1 697.4L1022.6 699.8L1023.0 700.2L1023.5 703.9L1023.9 700.8L1024.4 701.0L1024.8 700.6L1025.2 700.7L1025.7 699.5L1026.1 698.6L1026.6 700.1L1027.0 701.3L1027.5 698.0L1027.9 697.1L1028.4 698.5L1028.8 701.8L1029.3 699.7L1029.7 696.8L1030.2 699.7L1030.6 700.6L1031.1 702.6L1031.5 700.6L1032.0 702.7L1032.4 699.2L1032.9 700.7L1033.3 700.0L1033.8 697.7L1034.2 698.5L1034.7 701.2L1035.1 701.6L1035.6 699.5L1036.0 701.2L1036.5 701.4L1036.9 701.4L1037.3 700.5L1037.8 700.3L1038.2 698.5L1038.7 699.1L1039.1 699.6L1039.6 698.4L1040.0 698.7L1040.5 699.5L1040.9 699.8L1041.4 701.2L1041.8 698.4L1042.3 698.5L1042.7 699.6L1043.2 698.9L1043.6 699.8L1044.1 698.8L1044.5 701.0L1045.0 699.5L1045.4 697.7L1045.9 700.0L1046.3 702.1L1046.7 697.2L1047.2 698.5L1047.6 699.2L1048.1 700.8L1048.5 702.0L1049.0 699.9L1049.4 697.1L1049.9 699.6L1050.3 700.9L1050.8 700.4L1051.2 699.7L1051.7 698.1L1052.1 702.6L1052.6 698.4L1053.0 696.6L1053.5 699.9L1053.9 699.8L1054.4 700.4L1054.8 700.0L1055.2 702.0L1055.7 702.1L1056.1 699.2L1056.6 700.6L1057.0 697.8L1057.5 696.1L1057.9 700.0L1058.4 698.7L1058.8 695.7L1059.3 698.0L1059.7 697.7L1060.2 699.4L1060.6 699.0L1061.1 697.8L1061.5 697.5L1062.0 699.7L1062.4 697.8L1062.9 698.8L1063.3 697.4L1063.7 699.1L1064.2 701.7L1064.6 700.6L1065.1 701.1L1065.5 700.3L1066.0 697.9L1066.4 698.1L1066.8 698.8L1067.3 699.5L1067.7 698.2L1068.2 699.6L1068.6 698.0L1069.1 698.8L1069.5 698.8L1070.0 697.2L1070.4 699.9L1070.8 699.3L1071.3 699.2L1071.7 699.0L1072.2 695.7L1072.6 695.8L1073.1 696.6L1073.5 699.7L1073.9 698.3L1074.4 699.6L1074.8 697.6L1075.3 697.2L1075.7 697.7L1076.2 700.2L1076.6 696.8L1077.0 698.0L1077.5 699.3L1077.9 699.2L1078.4 698.9L1078.8 700.0L1079.3 699.6L1079.7 697.5L1080.2 699.4L1080.6 697.8L1081.0 697.9L1081.5 700.7L1081.9 703.0L1082.4 702.1L1082.8 700.3L1083.3 698.0L1083.7 697.3L1084.1 700.7L1084.6 699.7L1085.0 696.8L1085.5 700.4L1085.9 699.9L1086.4 700.9L1086.8 699.8L1087.2 695.6L1087.7 696.4L1088.1 697.6L1088.6 697.9L1089.0 700.5L1089.5 697.9L1089.9 698.0L1090.4 698.1L1090.8 698.1L1091.2 696.6L1091.7 695.8L1092.2 693.5L1092.6 697.2L1093.1 697.4L1093.5 698.1L1094.0 696.3L1094.4 697.4L1094.9 696.2L1095.4 695.7L1095.8 697.6L1096.3 698.5L1096.7 698.7L1097.2 697.8L1097.7 696.9L1098.1 699.3L1098.6 699.8L1099.0 697.0L1099.5 695.5L1099.9 697.2L1100.4 697.6L1100.9 695.8L1101.3 700.0L1101.8 694.7L1102.2 694.9L1102.7 695.9L1103.2 696.7L1103.6 692.2L1104.1 692.4L1104.5 694.8L1105.0 694.9L1105.4 691.9L1105.9 690.9L1106.4 688.7L1106.8 689.0L1107.3 686.2L1107.7 683.1L1108.2 682.1L1108.6 683.3L1109.1 680.9L1109.6 683.4L1110.0 683.6L1110.5 682.6L1110.9 681.4L1111.4 680.6L1111.9 679.7L1112.3 681.4L1112.7 683.1L1113.1 685.0L1113.5 685.0L1113.9 686.2L1114.3 686.2L1114.8 689.6L1115.2 690.8L1115.6 689.8L1116.1 689.8L1116.5 691.0L1116.9 694.1L1117.4 694.2L1117.8 694.0L1118.3 693.4L1118.7 694.2L1119.2 697.1L1119.6 694.7L1120.1 694.6L1120.6 697.8L1121.0 697.4L1121.5 694.7L1121.9 697.3L1122.4 694.7L1122.9 696.8L1123.3 692.9L1123.8 694.2L1124.2 697.6L1124.7 696.4L1125.1 696.1L1125.6 697.2L1126.0 697.5L1126.5 696.9L1126.9 696.4L1127.4 699.9L1127.8 700.6L1128.3 699.0L1128.7 696.4L1129.1 696.5L1129.6 697.0L1130.0 698.3L1130.5 700.3L1130.9 697.8L1131.4 698.0L1131.8 697.3L1132.3 697.9L1132.7 696.9L1133.1 698.2L1133.6 699.7L1134.0 697.9L1134.5 697.5L1134.9 698.0L1135.4 696.1L1135.8 700.2L1136.2 696.7L1136.7 697.2L1137.1 696.5L1137.6 699.9L1138.0 698.0L1138.5 697.4L1138.9 700.8L1139.3 698.8L1139.8 697.2L1140.2 697.8L1140.7 698.2L1141.1 696.9L1141.6 697.3L1142.0 697.3L1142.5 698.7L1142.9 699.1L1143.3 699.3L1143.8 697.9L1144.2 698.8L1144.7 697.5L1145.1 699.1L1145.6 698.4L1146.0 696.9L1146.4 698.9L1146.9 695.4L1147.3 695.1L1147.8 695.2L1148.2 696.2L1148.7 694.8L1149.1 694.4L1149.5 693.2L1150.0 695.7L1150.4 695.2L1150.9 699.3L1151.3 698.4L1151.8 695.3L1152.2 697.9L1152.6 696.9L1153.1 698.0L1153.6 694.7L1154.0 696.9L1154.5 697.2L1154.9 694.9L1155.4 693.3L1155.8 693.3L1156.3 694.0L1156.8 697.2L1157.2 697.0L1157.7 696.3L1158.1 693.3L1158.6 692.0L1159.0 692.5L1159.5 691.4L1160.0 690.6L1160.4 690.1L1160.9 691.1L1161.3 689.5L1161.8 689.0L1162.3 687.7L1162.7 686.9L1163.2 686.0L1163.6 687.5L1164.1 686.0L1164.5 686.9L1165.0 684.3L1165.5 684.8L1165.9 678.2L1166.4 675.2L1166.8 672.4L1167.3 668.3L1167.8 665.4L1168.2 661.0L1168.6 657.7L1169.0 653.1L1169.5 649.8L1169.9 645.5L1170.3 640.2L1170.7 636.2L1171.2 632.4L1171.6 626.2L1172.1 623.1L1172.6 620.7L1173.0 614.5L1173.5 612.0L1174.0 609.0L1174.4 605.0L1174.9 602.6L1175.4 599.2L1175.8 603.0L1176.3 607.9L1176.7 610.5L1177.1 615.9L1177.6 619.4L1178.1 629.2L1178.5 635.5L1179.0 636.7L1179.4 640.1L1179.9 643.3L1180.4 646.8L1180.8 652.2L1181.3 655.3L1181.7 654.8L1182.2 660.0L1182.6 664.8L1183.1 667.7L1183.6 673.0L1184.0 671.6L1184.5 674.5L1184.9 675.9L1185.3 678.1L1185.7 676.7L1186.2 677.1L1186.6 679.7L1187.0 681.7L1187.5 680.4L1187.9 683.7L1188.4 684.8L1188.8 686.9L1189.3 683.3L1189.7 687.4L1190.2 687.2L1190.7 688.4L1191.1 691.2L1191.6 694.1L1192.0 692.6L1192.5 691.9L1193.0 693.9L1193.4 691.4L1193.9 691.9L1194.3 691.7L1194.8 691.0L1195.2 692.7L1195.7 696.0L1196.2 694.6L1196.6 694.6L1197.1 694.0L1197.5 695.6L1198.0 694.9L1198.5 693.2L1198.9 694.3L1199.4 696.7L1199.8 695.4L1200.3 697.0L1200.7 695.7L1201.2 698.6L1201.6 696.9L1202.1 696.9L1202.5 695.6L1203.0 696.9L1203.4 695.7L1203.9 693.6L1204.3 695.6L1204.8 694.0L1205.2 697.5L1205.6 697.6L1206.1 696.5L1206.5 697.2L1207.0 692.6L1207.4 697.3L1207.9 695.6L1208.3 697.0L1208.7 700.2L1209.2 695.1L1209.6 695.4L1210.1 696.6L1210.5 697.1L1211.0 694.2L1211.4 694.5L1211.8 698.1L1212.3 696.2L1212.7 697.3L1213.2 694.9L1213.6 694.9L1214.1 693.6L1214.5 696.2L1214.9 698.4L1215.4 697.5L1215.8 696.7L1216.3 697.2L1216.7 697.7L1217.2 696.8L1217.6 697.7L1218.1 700.1L1218.5 701.2L1218.9 697.5L1219.4 695.4L1219.8 699.4L1220.3 699.2L1220.7 699.5L1221.2 698.8L1221.6 697.3L1222.0 698.7L1222.5 699.3L1222.9 699.6L1223.4 696.4L1223.8 698.5L1224.3 697.2L1224.7 696.8L1225.1 697.7L1225.6 697.0L1226.0 700.6L1226.5 699.2L1226.9 698.4L1227.4 697.5L1227.8 697.9L1228.3 697.3L1228.7 698.3L1229.1 698.9L1229.6 699.0L1230.0 695.9L1230.5 696.2L1230.9 696.9L1231.4 695.1L1231.8 696.8L1232.2 696.5L1232.7 696.6L1233.1 697.0L1233.6 695.6L1234.0 698.2L1234.5 698.2L1234.9 695.8L1235.3 696.5L1235.8 697.0L1236.2 694.9L1236.7 694.8L1237.1 696.2L1237.6 691.8L1238.0 692.3L1238.4 694.7L1238.9 695.8L1239.3 693.8L1239.8 695.7L1240.2 698.1L1240.7 695.9L1241.1 694.8L1241.6 694.5L1242.0 692.8L1242.4 694.5L1242.9 694.1L1243.4 694.6L1243.8 695.5L1244.3 693.5L1244.7 692.8L1245.2 692.6L1245.6 694.3L1246.1 690.0L1246.6 690.5L1247.0 689.6L1247.5 690.1L1247.9 691.0L1248.4 690.0L1248.9 690.4L1249.3 689.5L1249.8 687.6L1250.2 686.9L1250.7 685.4L1251.1 687.0L1251.6 686.4L1252.1 687.7L1252.5 688.0L1253.0 685.2L1253.4 683.9L1253.9 685.6L1254.3 683.7L1254.8 684.4L1255.2 684.9L1255.6 683.4L1256.1 685.8L1256.5 682.5L1257.0 683.0L1257.4 681.7L1257.8 677.5L1258.3 679.8L1258.7 680.3L1259.2 681.2L1259.6 680.2L1260.0 678.7L1260.5 678.3L1260.9 675.7L1261.4 674.5L1261.8 670.6L1262.3 669.5L1262.7 666.6L1263.1 661.4L1263.6 660.4L1264.0 649.7L1264.5 645.3L1264.9 637.9L1265.4 632.4L1265.8 628.0L1266.2 620.5L1266.7 604.3L1267.1 590.6L1267.5 572.6L1267.9 551.0L1268.3 532.5L1268.8 511.8L1269.3 477.7L1269.8 447.9L1270.4 425.4L1270.9 401.3L1271.4 394.8L1271.8 388.8L1272.2 382.5L1272.7 385.1L1273.1 388.3L1273.6 389.6L1274.1 392.9L1274.6 398.8L1275.1 398.0L1275.6 401.0L1276.0 413.6L1276.5 430.3L1276.9 445.9L1277.4 468.4L1277.9 488.9L1278.4 513.0L1278.9 525.7L1279.3 541.7L1279.7 557.8L1280.2 570.2L1280.6 582.5L1281.1 590.9L1281.6 607.0L1282.0 612.5L1282.5 619.1L1283.0 625.2L1283.4 634.2L1283.9 640.5L1284.3 645.4L1284.8 647.6L1285.2 651.4L1285.6 652.8L1286.1 656.3L1286.5 662.2L1286.9 664.3L1287.4 665.3L1287.8 665.8L1288.2 670.4L1288.7 668.5L1289.1 669.5L1289.5 674.9L1290.0 675.0L1290.4 679.1L1290.9 680.4L1291.3 684.3L1291.7 686.1L1292.2 685.1L1292.6 683.6L1293.0 685.3L1293.5 687.5L1293.9 686.8L1294.3 682.8L1294.8 685.7L1295.2 687.0L1295.6 688.4L1296.1 688.6L1296.5 691.0L1296.9 688.7L1297.4 690.7L1297.8 688.1L1298.2 687.4L1298.7 689.1L1299.1 690.3L1299.6 690.8L1300.0 691.5L1300.5 693.7L1300.9 694.5L1301.4 694.2L1301.8 694.5L1302.3 693.5L1302.7 693.0L1303.2 692.4L1303.7 693.9L1304.1 693.5L1304.6 694.7L1305.0 696.7L1305.5 697.3L1306.0 698.7L1306.4 696.2L1306.9 693.8L1307.3 694.8L1307.8 699.7L1308.2 699.5L1308.7 697.8L1309.1 699.8L1309.6 698.0L1310.0 700.4L1310.5 698.2L1310.9 697.6L1311.4 699.0L1311.8 696.9L1312.3 697.6L1312.7 700.8L1313.2 699.7L1313.6 697.2L1314.1 697.7L1314.5 698.2L1314.9 697.3L1315.4 698.7L1315.8 700.4L1316.3 699.2L1316.7 700.0L1317.2 699.5L1317.6 699.1L1318.1 697.8L1318.5 699.8L1319.0 701.0L1319.4 698.3L1319.9 696.5L1320.3 697.6L1320.8 697.0L1321.3 697.9L1321.7 696.9L1322.2 695.4L1322.6 692.8L1323.1 694.5L1323.6 694.0L1324.0 691.5L1324.5 690.1L1324.9 688.9L1325.4 691.6L1325.8 690.6L1326.3 685.8L1326.8 687.5L1327.2 688.0L1327.7 688.6L1328.1 688.7L1328.6 687.9L1329.1 688.9L1329.5 689.3L1330.0 687.4L1330.5 689.1L1330.9 686.9L1331.4 684.9L1331.9 685.5L1332.3 683.3L1332.8 684.0L1333.2 683.3L1333.7 683.5L1334.2 683.5L1334.6 683.1L1335.1 683.4L1335.5 683.9L1336.0 684.1L1336.4 685.3L1336.9 685.6L1337.3 685.1L1337.8 684.2L1338.2 686.7L1338.7 687.7L1339.1 685.1L1339.6 685.7L1340.0 685.9L1340.5 689.3L1340.9 688.9L1341.3 688.3L1341.8 692.6L1342.2 692.9L1342.7 693.3L1343.1 693.9L1343.5 694.1L1344.0 694.9L1344.4 696.9L1344.9 697.4L1345.3 696.9L1345.7 698.0L1346.2 701.4L1346.6 698.8L1347.1 696.9L1347.5 698.4L1348.0 697.0L1348.4 701.9L1348.9 700.6L1349.3 700.1L1349.7 699.7L1350.2 701.8L1350.6 698.2L1351.1 698.5L1351.5 696.4L1352.0 699.8L1352.4 698.9L1352.8 701.3L1353.3 699.1L1353.7 697.4L1354.2 697.4L1354.6 699.5L1355.1 697.8L1355.5 698.8L1356.0 697.8L1356.4 697.5L1356.8 697.6L1357.3 700.7L1357.7 697.8L1358.2 699.0L1358.6 700.1L1359.1 698.3L1359.6 696.8L1360.0 700.6L1360.5 702.1L1360.9 699.9L1361.4 698.0L1361.9 700.3L1362.3 699.8L1362.8 698.7L1363.2 699.0L1363.7 696.3L1364.1 697.8L1364.6 697.8L1365.1 697.7L1365.5 700.4L1366.0 700.8L1366.4 702.9L1366.9 697.4L1367.3 698.6L1367.8 698.7L1368.2 701.7L1368.7 702.2L1369.1 701.1L1369.5 700.7L1370.0 699.4L1370.4 699.4L1370.9 699.5L1371.3 696.6L1371.8 701.9L1372.2 701.9L1372.7 703.7L1373.1 703.1L1373.6 701.9L1374.0 702.0L1374.4 698.5L1374.9 698.4L1375.3 701.0L1375.8 700.0L1376.2 698.0L1376.7 699.7L1377.1 698.4L1377.6 699.8L1378.0 702.4L1378.5 699.4L1378.9 699.5L1379.4 700.9L1379.8 700.5L1380.2 700.7L1380.7 699.3L1381.1 699.6L1381.6 696.8L1382.0 699.1L1382.5 701.8L1382.9 699.2L1383.4 699.8L1383.8 701.2L1384.3 702.3L1384.7 702.6L1385.1 699.8L1385.6 699.6L1386.0 702.6L1386.5 700.4L1386.9 700.8L1387.4 699.3L1387.8 699.1L1388.3 695.9L1388.7 698.3L1389.2 696.7L1389.6 697.9L1390.1 698.3L1390.5 701.6L1390.9 701.8L1391.4 701.4L1391.8 699.9L1392.3 698.3L1392.7 700.4L1393.2 699.2L1393.6 699.9L1394.1 701.5L1394.5 700.5L1395.0 700.4L1395.4 699.0L1395.8 701.4L1396.3 701.4L1396.7 701.7L1397.2 703.0L1397.6 698.9L1398.1 700.0L1398.5 701.1L1399.0 701.1L1399.4 701.0L1399.9 701.1L1400.3 698.4L1400.8 699.5L1401.2 701.6L1401.7 700.5L1402.1 699.9L1402.6 701.2L1403.0 697.9L1403.5 699.9L1403.9 702.0L1404.4 700.2L1404.8 698.8L1405.3 700.2L1405.7 699.3L1406.2 698.5L1406.6 699.6L1407.1 697.3L1407.5 699.9L1408.0 698.0L1408.4 698.3L1408.9 700.2" fill="none" stroke="#0000AA" stroke-width="5.2" stroke-linejoin="round" stroke-linecap="round"/>
<path d="M212.5 896.0L213.0 896.8L213.4 896.7L213.8 896.3L214.3 898.9L214.7 898.2L215.2 897.2L215.6 902.9L216.1 898.1L216.5 893.7L217.0 891.8L217.4 894.5L217.9 899.9L218.3 903.5L218.8 906.5L219.2 911.0L219.7 912.8L220.1 910.4L220.5 913.2L221.0 912.5L221.4 908.7L221.9 912.6L222.3 911.2L222.8 910.0L223.2 918.0L223.7 916.1L224.1 911.1L224.6 911.3L225.0 920.5L225.5 913.9L225.9 915.8L226.4 916.1L226.8 916.0L227.3 916.4L227.7 912.8L228.1 912.0L228.6 913.1L229.0 912.9L229.5 917.2L229.9 921.4L230.4 914.0L230.8 917.2L231.3 912.8L231.7 912.7L232.2 914.5L232.6 916.5L233.1 915.3L233.5 907.3L234.0 919.5L234.4 917.4L234.8 915.6L235.3 920.0L235.7 916.9L236.2 913.2L236.6 919.1L237.1 920.9L237.5 917.1L238.0 922.1L238.4 922.1L238.9 917.0L239.3 925.9L239.8 923.4L240.2 917.9L240.7 922.1L241.1 922.4L241.5 925.6L242.0 918.6L242.4 925.1L242.9 926.9L243.3 926.8L243.8 926.6L244.2 929.2L244.7 928.1L245.1 925.9L245.6 922.0L246.0 927.8L246.5 929.3L246.9 927.6L247.4 926.7L247.8 928.6L248.2 918.1L248.7 925.0L249.1 917.5L249.6 924.9L250.0 930.2L250.5 934.8L250.9 928.2L251.4 929.5L251.8 928.4L252.3 920.8L252.7 928.9L253.2 929.0L253.6 929.4L254.1 926.3L254.5 928.7L254.9 930.0L255.4 934.6L255.8 932.8L256.3 943.4L256.7 933.5L257.2 931.2L257.6 931.4L258.1 929.1L258.5 936.4L259.0 935.9L259.4 929.4L259.9 932.3L260.3 936.9L260.8 929.8L261.2 933.2L261.6 933.0L262.1 941.8L262.5 938.2L263.0 934.5L263.4 933.0L263.9 940.8L264.3 935.4L264.8 943.1L265.2 932.7L265.7 934.3L266.1 934.7L266.6 933.5L267.0 934.8L267.5 938.3L267.9 935.1L268.4 931.7L268.8 939.9L269.2 942.9L269.7 936.8L270.1 938.4L270.6 929.6L271.0 938.9L271.5 934.1L271.9 935.3L272.4 944.6L272.8 936.4L273.3 938.2L273.7 935.4L274.2 932.1L274.6 933.5L275.1 938.7L275.5 935.2L275.9 936.7L276.4 941.5L276.8 940.2L277.3 936.2L277.7 944.1L278.2 942.2L278.6 945.9L279.1 939.3L279.5 946.1L280.0 938.7L280.4 935.3L280.9 938.5L281.3 939.7L281.8 942.1L282.2 940.3L282.6 943.6L283.1 946.9L283.5 941.6L284.0 937.9L284.4 939.9L284.9 944.4L285.3 945.8L285.8 942.6L286.2 939.7L286.7 941.9L287.1 945.7L287.6 941.7L288.0 946.8L288.5 945.1L288.9 944.8L289.3 942.0L289.8 947.3L290.2 944.9L290.7 939.5L291.1 945.1L291.6 943.0L292.0 947.0L292.5 945.5L292.9 942.7L293.4 944.3L293.8 942.9L294.3 941.5L294.7 943.7L295.2 946.9L295.6 945.6L296.0 944.8L296.5 943.2L296.9 946.2L297.4 946.3L297.8 948.4L298.3 947.3L298.7 952.4L299.2 942.9L299.6 944.7L300.1 947.1L300.5 949.0L301.0 942.4L301.4 941.4L301.9 944.8L302.3 949.1L302.7 950.7L303.2 943.4L303.6 946.2L304.1 950.3L304.5 948.2L305.0 944.5L305.4 944.4L305.9 942.7L306.3 949.7L306.8 947.6L307.2 946.6L307.7 945.0L308.1 946.7L308.6 945.0L309.0 944.4L309.5 947.0L309.9 947.3L310.3 949.4L310.8 949.2L311.2 952.2L311.7 949.6L312.1 949.7L312.6 949.7L313.0 946.7L313.5 951.7L313.9 948.1L314.4 944.1L314.8 951.2L315.3 951.7L315.7 948.3L316.2 951.8L316.6 952.9L317.0 952.5L317.5 947.0L317.9 949.3L318.4 946.5L318.8 946.9L319.3 947.3L319.7 946.6L320.2 950.3L320.6 947.8L321.1 951.1L321.5 950.9L322.0 948.6L322.4 950.2L322.9 952.2L323.3 954.2L323.7 950.8L324.2 955.6L324.6 953.7L325.1 955.1L325.5 948.1L326.0 946.8L326.4 953.0L326.9 950.7L327.3 952.0L327.8 954.6L328.2 947.8L328.7 951.2L329.1 956.4L329.6 954.8L330.0 952.3L330.4 952.9L330.9 951.5L331.3 953.3L331.8 955.3L332.2 951.6L332.7 952.8L333.1 952.4L333.6 953.5L334.0 954.2L334.5 948.9L334.9 953.7L335.4 954.3L335.8 949.0L336.3 949.7L336.7 946.6L337.1 949.0L337.6 951.5L338.0 948.0L338.5 948.1L338.9 947.9L339.4 948.3L339.8 948.2L340.3 947.4L340.7 951.8L341.2 950.9L341.6 949.0L342.1 953.5L342.5 950.5L343.0 953.7L343.4 948.7L343.8 954.6L344.3 951.3L344.7 948.9L345.2 952.0L345.6 948.1L346.1 947.7L346.5 951.3L347.0 950.4L347.4 952.6L347.9 952.5L348.3 952.9L348.8 952.7L349.2 954.2L349.7 952.8L350.1 955.4L350.5 955.8L351.0 947.9L351.4 946.2L351.9 954.8L352.3 951.9L352.8 952.8L353.2 952.3L353.7 953.2L354.1 958.8L354.6 952.6L355.0 952.8L355.5 952.8L355.9 949.8L356.4 949.5L356.8 951.1L357.3 952.3L357.7 953.8L358.1 947.9L358.6 947.2L359.0 955.8L359.5 953.4L359.9 955.5L360.4 952.8L360.8 951.2L361.3 958.4L361.7 951.5L362.2 950.3L362.6 954.3L363.1 953.7L363.5 949.0L364.0 952.5L364.4 955.1L364.8 949.8L365.3 950.9L365.7 954.8L366.2 959.1L366.6 948.9L367.1 950.3L367.5 952.7L368.0 950.9L368.4 950.4L368.9 951.3L369.3 954.3L369.8 951.0L370.2 955.2L370.7 956.4L371.1 956.8L371.5 958.8L372.0 953.9L372.4 953.7L372.9 956.5L373.3 958.0L373.8 957.6L374.2 953.8L374.7 952.6L375.1 950.1L375.6 951.7L376.0 950.9L376.5 951.8L376.9 952.4L377.4 955.8L377.8 956.8L378.2 954.8L378.7 951.3L379.1 953.2L379.6 955.0L380.0 956.7L380.5 955.5L380.9 956.7L381.4 953.3L381.8 955.7L382.3 956.7L382.7 954.1L383.2 952.3L383.6 957.0L384.1 952.6L384.5 955.7L384.9 954.1L385.4 953.5L385.8 953.5L386.3 953.1L386.7 954.0L387.2 959.0L387.6 959.7L388.1 955.8L388.5 956.2L389.0 957.5L389.4 954.4L389.9 959.3L390.3 956.2L390.8 956.8L391.2 952.9L391.6 951.3L392.1 951.2L392.5 952.1L393.0 956.7L393.4 954.6L393.9 957.1L394.3 954.5L394.8 952.3L395.2 954.6L395.7 953.8L396.1 950.4L396.6 953.8L397.0 957.6L397.5 955.2L397.9 952.0L398.4 952.1L398.8 951.0L399.2 953.1L399.7 951.9L400.1 953.7L400.6 954.9L401.0 958.2L401.5 952.8L401.9 949.0L402.4 957.1L402.8 956.5L403.3 954.3L403.7 955.8L404.2 952.6L404.6 953.2L405.1 955.8L405.5 954.1L405.9 954.7L406.4 955.7L406.8 955.1L407.3 954.1L407.7 955.6L408.2 958.1L408.6 958.7L409.1 953.5L409.5 956.0L410.0 950.1L410.4 949.5L410.9 953.8L411.3 955.5L411.8 958.0L412.2 951.1L412.6 955.9L413.1 953.3L413.5 952.7L414.0 954.8L414.4 957.8L414.9 952.9L415.3 949.5L415.8 951.2L416.2 952.9L416.7 956.6L417.1 955.7L417.6 953.7L418.0 952.6L418.5 952.4L418.9 955.8L419.3 950.4L419.8 951.1L420.2 950.8L420.7 955.6L421.1 954.6L421.6 952.4L422.0 955.1L422.5 958.9L422.9 957.7L423.4 951.7L423.8 952.5L424.3 956.0L424.7 949.9L425.2 949.5L425.6 951.3L426.0 954.1L426.5 951.7L426.9 953.3L427.4 953.0L427.8 954.1L428.3 950.7L428.7 947.2L429.2 946.3L429.6 951.6L430.1 955.1L430.5 955.0L431.0 949.9L431.4 948.1L431.9 951.0L432.3 950.3L432.7 947.9L433.2 950.1L433.6 950.2L434.1 951.8L434.5 953.4L435.0 953.4L435.4 953.3L435.9 954.1L436.3 952.7L436.8 951.5L437.2 951.3L437.7 954.8L438.1 952.4L438.6 954.2L439.0 956.7L439.5 957.6L439.9 948.6L440.3 951.3L440.8 954.0L441.2 951.4L441.7 949.9L442.1 947.8L442.6 948.9L443.0 950.7L443.5 946.8L443.9 950.0L444.4 949.0L444.8 950.6L445.3 948.5L445.7 950.5L446.2 951.3L446.6 949.4L447.0 948.9L447.5 952.5L447.9 952.7L448.4 949.5L448.8 951.3L449.3 948.1L449.7 948.6L450.2 943.1L450.6 946.8L451.1 950.8L451.5 949.2L451.9 951.1L452.4 948.8L452.8 950.2L453.3 949.5L453.7 947.3L454.2 953.6L454.6 948.7L455.1 945.9L455.5 948.5L455.9 949.9L456.4 950.0L456.8 948.9L457.3 949.8L457.7 951.1L458.2 950.7L458.6 945.8L459.0 951.5L459.5 949.1L459.9 943.6L460.4 948.5L460.8 947.7L461.3 948.3L461.7 952.4L462.2 947.7L462.6 946.0L463.0 944.6L463.5 946.8L463.9 948.5L464.4 948.3L464.8 947.6L465.3 942.1L465.7 945.9L466.1 947.9L466.6 944.1L467.0 942.2L467.5 939.8L467.9 941.3L468.3 936.8L468.8 942.8L469.2 939.0L469.7 935.4L470.1 932.5L470.6 932.2L471.1 930.4L471.5 927.9L472.0 930.3L472.5 932.9L472.9 936.3L473.4 938.9L473.9 942.9L474.3 937.6L474.8 945.3L475.2 940.6L475.7 937.9L476.1 937.7L476.6 940.7L477.0 942.7L477.5 947.2L477.9 945.9L478.4 941.1L478.8 940.7L479.3 940.5L479.7 940.2L480.2 941.2L480.6 940.5L481.1 944.5L481.5 943.8L482.0 944.4L482.4 942.8L482.8 940.2L483.3 943.1L483.7 942.1L484.2 947.4L484.6 947.3L485.1 941.8L485.5 940.7L486.0 941.5L486.4 942.5L486.8 946.0L487.3 944.1L487.7 945.1L488.2 943.7L488.6 943.6L489.1 946.9L489.5 945.2L490.0 949.3L490.4 946.0L490.9 946.0L491.3 946.2L491.7 946.9L492.2 950.1L492.6 945.1L493.1 944.1L493.5 942.9L494.0 948.9L494.4 947.7L494.9 947.4L495.3 947.4L495.7 942.2L496.2 946.7L496.6 946.7L497.1 947.2L497.5 946.9L498.0 946.5L498.4 946.5L498.9 945.4L499.3 945.8L499.8 948.0L500.2 942.4L500.7 947.4L501.1 948.6L501.6 945.0L502.0 947.6L502.5 947.9L502.9 946.2L503.4 950.7L503.8 948.7L504.3 947.4L504.7 944.4L505.2 951.4L505.6 949.1L506.1 948.6L506.5 947.3L507.0 952.2L507.4 948.6L507.9 951.5L508.3 951.2L508.8 951.0L509.2 950.2L509.7 951.1L510.1 948.6L510.6 943.4L511.0 940.5L511.5 948.3L511.9 943.4L512.3 949.7L512.8 955.6L513.2 946.1L513.7 949.0L514.1 949.5L514.6 947.1L515.0 943.5L515.5 946.7L515.9 951.7L516.4 949.2L516.8 948.7L517.3 948.8L517.7 948.8L518.2 949.4L518.6 954.1L519.1 948.4L519.5 944.6L520.0 949.5L520.4 947.9L520.9 947.5L521.3 945.4L521.8 947.5L522.2 947.6L522.7 949.6L523.1 948.4L523.6 945.7L524.0 949.3L524.5 949.1L524.9 945.0L525.4 947.3L525.8 950.5L526.3 949.6L526.7 948.8L527.2 950.7L527.6 948.5L528.1 947.7L528.5 950.3L529.0 949.5L529.4 948.3L529.9 949.9L530.3 950.5L530.8 952.2L531.2 952.9L531.7 951.1L532.1 950.3L532.6 948.1L533.0 950.0L533.5 949.3L533.9 951.8L534.4 952.5L534.8 952.4L535.3 950.9L535.7 951.3L536.2 954.1L536.6 955.4L537.1 950.7L537.5 944.3L538.0 950.1L538.4 947.1L538.9 949.7L539.3 951.5L539.8 954.4L540.2 951.5L540.7 950.8L541.1 949.6L541.6 951.3L542.0 948.4L542.5 951.5L542.9 952.0L543.4 954.4L543.8 951.5L544.3 952.1L544.7 952.0L545.2 951.5L545.6 949.3L546.1 949.5L546.5 950.9L547.0 952.3L547.4 953.9L547.9 950.8L548.3 951.8L548.7 952.8L549.2 953.7L549.6 952.6L550.1 952.2L550.5 950.8L551.0 951.3L551.4 950.9L551.9 947.4L552.3 948.6L552.8 945.2L553.2 950.6L553.7 953.1L554.1 951.1L554.6 951.7L555.0 951.8L555.5 950.9L555.9 954.5L556.4 951.9L556.8 952.2L557.3 951.5L557.7 955.8L558.2 949.1L558.6 951.1L559.1 948.3L559.5 948.9L560.0 948.5L560.4 952.2L560.9 949.2L561.3 948.5L561.8 949.8L562.2 948.8L562.7 948.4L563.1 954.0L563.6 950.7L564.0 949.4L564.5 953.8L564.9 952.3L565.4 954.1L565.8 948.6L566.3 949.9L566.7 952.0L567.2 952.0L567.6 952.8L568.1 954.5L568.5 953.6L569.0 954.5L569.4 954.0L569.9 950.6L570.3 951.6L570.8 954.4L571.2 950.3L571.7 952.3L572.1 953.2L572.6 955.0L573.0 949.0L573.5 956.1L573.9 949.6L574.4 951.0L574.8 957.1L575.3 950.4L575.7 956.3L576.2 953.7L576.6 956.6L577.1 956.4L577.5 953.5L578.0 950.6L578.4 950.8L578.9 948.7L579.3 947.9L579.8 951.6L580.2 948.7L580.7 951.8L581.1 951.8L581.6 951.7L582.0 949.7L582.5 948.6L582.9 952.8L583.4 950.2L583.8 950.3L584.3 951.2L584.7 953.4L585.1 956.9L585.6 957.9L586.0 955.7L586.5 954.8L586.9 954.5L587.4 952.5L587.8 952.0L588.3 948.5L588.7 952.4L589.2 951.3L589.6 952.9L590.1 957.5L590.5 955.9L591.0 956.0L591.4 955.5L591.9 952.2L592.3 951.1L592.8 949.0L593.2 950.3L593.7 952.4L594.1 954.2L594.6 954.5L595.0 952.6L595.5 950.3L595.9 952.3L596.4 953.5L596.8 948.9L597.3 952.0L597.7 949.7L598.2 951.1L598.6 952.3L599.1 950.8L599.5 951.5L600.0 952.8L600.4 951.0L600.9 954.2L601.3 955.1L601.8 955.2L602.2 951.8L602.7 952.6L603.1 952.7L603.6 953.6L604.0 955.3L604.5 952.9L604.9 953.4L605.4 955.3L605.8 953.3L606.3 954.9L606.7 953.8L607.2 950.4L607.6 952.3L608.1 953.3L608.5 952.3L609.0 957.0L609.4 953.4L609.9 950.0L610.3 951.7L610.8 952.1L611.2 953.8L611.7 958.6L612.1 954.9L612.6 955.2L613.0 951.9L613.5 950.4L613.9 950.4L614.4 951.5L614.8 951.3L615.3 952.1L615.7 950.9L616.2 949.4L616.6 949.8L617.1 953.2L617.5 950.1L618.0 953.3L618.4 956.0L618.9 951.3L619.3 953.8L619.8 954.4L620.2 947.0L620.7 952.3L621.1 953.4L621.5 950.6L622.0 955.3L622.4 949.0L622.9 953.7L623.3 952.8L623.8 949.8L624.2 951.3L624.7 948.2L625.1 951.8L625.6 952.7L626.0 954.4L626.5 955.3L626.9 951.0L627.4 952.3L627.8 950.2L628.3 944.7L628.7 951.3L629.2 953.8L629.6 952.4L630.1 955.3L630.5 952.3L631.0 947.7L631.4 949.1L631.9 949.9L632.3 951.3L632.8 950.2L633.2 946.0L633.7 946.8L634.1 949.4L634.6 952.9L635.0 950.1L635.5 947.8L635.9 948.9L636.4 952.2L636.8 953.9L637.3 949.6L637.7 951.9L638.2 953.9L638.6 953.4L639.1 949.1L639.5 951.5L640.0 949.8L640.4 949.3L640.9 954.4L641.3 951.6L641.8 952.0L642.2 953.6L642.7 955.0L643.1 952.4L643.6 949.8L644.0 950.1L644.5 948.9L644.9 949.7L645.4 949.9L645.8 947.0L646.3 947.7L646.7 946.5L647.2 949.0L647.6 951.6L648.1 952.2L648.5 951.2L649.0 948.5L649.4 949.5L649.9 947.0L650.3 950.4L650.8 946.8L651.2 947.6L651.7 952.8L652.1 951.5L652.6 948.0L653.0 948.5L653.5 946.9L653.9 946.8L654.4 947.5L654.8 946.7L655.3 948.6L655.7 951.0L656.2 947.5L656.6 946.2L657.0 946.0L657.5 946.3L657.9 947.9L658.4 946.6L658.8 945.7L659.3 945.7L659.7 949.2L660.2 950.2L660.6 950.5L661.1 948.7L661.5 945.7L662.0 949.7L662.4 952.6L662.9 947.2L663.3 945.7L663.8 948.7L664.2 948.7L664.7 948.0L665.1 951.3L665.6 947.4L666.0 944.8L666.5 944.9L666.9 946.1L667.4 946.3L667.8 948.5L668.3 948.1L668.7 944.7L669.2 946.7L669.6 945.3L670.1 948.4L670.5 948.5L671.0 944.7L671.4 946.0L671.9 942.3L672.3 944.9L672.8 944.8L673.2 945.4L673.7 942.0L674.1 941.7L674.6 942.2L675.0 943.0L675.5 945.1L675.9 942.5L676.4 939.2L676.8 941.2L677.3 944.6L677.7 945.8L678.2 941.5L678.6 944.3L679.1 943.9L679.5 945.1L680.0 944.2L680.4 946.2L680.9 942.6L681.3 947.5L681.8 946.7L682.2 941.6L682.7 939.2L683.1 943.9L683.6 939.8L684.0 940.2L684.5 942.9L684.9 942.4L685.4 942.8L685.8 938.0L686.3 939.4L686.7 942.5L687.2 946.7L687.6 944.4L688.1 942.8L688.5 942.5L689.0 944.3L689.4 943.9L689.9 940.6L690.3 937.2L690.8 939.8L691.2 940.2L691.7 945.0L692.1 940.7L692.6 942.8L693.0 937.5L693.4 941.8L693.9 938.6L694.3 940.4L694.8 940.4L695.2 941.0L695.7 940.9L696.1 938.5L696.6 941.3L697.0 939.0L697.5 940.0L697.9 938.5L698.4 939.7L698.8 939.7L699.3 939.5L699.7 938.1L700.2 941.8L700.6 939.9L701.1 939.7L701.5 934.8L702.0 939.1L702.4 935.7L702.9 937.5L703.3 934.1L703.8 941.2L704.2 935.6L704.7 937.0L705.1 935.2L705.6 934.5L706.0 933.2L706.5 939.3L706.9 941.3L707.4 938.3L707.8 938.2L708.3 937.3L708.7 937.3L709.2 937.9L709.6 938.3L710.1 936.7L710.5 937.2L711.0 937.6L711.4 937.3L711.9 937.7L712.3 936.7L712.8 937.7L713.2 937.4L713.7 937.6L714.1 936.9L714.6 941.6L715.0 938.9L715.5 938.7L715.9 939.7L716.4 939.6L716.8 936.9L717.3 940.7L717.7 937.6L718.2 937.9L718.6 940.3L719.1 939.9L719.5 938.8L720.0 940.0L720.4 938.7L720.9 938.8L721.3 937.6L721.8 937.0L722.2 937.4L722.7 939.6L723.1 939.1L723.6 939.7L724.0 942.1L724.5 939.9L724.9 936.4L725.4 939.3L725.8 943.7L726.3 935.3L726.7 938.2L727.2 937.3L727.6 936.2L728.1 940.7L728.5 940.2L729.0 940.1L729.4 937.4L729.8 938.2L730.3 937.2L730.7 942.3L731.2 940.6L731.6 936.0L732.1 938.1L732.5 942.5L733.0 939.1L733.4 939.1L733.9 939.5L734.3 940.7L734.8 941.1L735.2 938.9L735.7 938.8L736.1 940.9L736.6 938.0L737.0 938.5L737.5 940.0L737.9 939.3L738.4 937.5L738.8 942.4L739.3 940.8L739.7 939.4L740.2 933.5L740.6 940.0L741.1 941.6L741.5 940.0L742.0 939.7L742.4 937.8L742.9 943.1L743.3 942.4L743.8 944.9L744.2 945.6L744.7 937.4L745.1 939.9L745.6 935.0L746.0 938.5L746.5 938.8L746.9 937.6L747.4 939.7L747.8 939.2L748.3 938.0L748.7 937.8L749.2 940.1L749.6 939.8L750.1 940.4L750.5 939.4L751.0 937.5L751.4 936.8L751.9 938.0L752.3 936.3L752.8 936.0L753.2 938.7L753.7 938.3L754.1 937.2L754.6 937.7L755.0 936.6L755.5 939.6L755.9 937.2L756.4 936.9L756.8 934.1L757.3 934.1L757.7 932.7L758.2 935.7L758.6 936.7L759.1 937.0L759.5 934.9L760.0 934.9L760.4 935.4L760.9 933.9L761.3 930.6L761.8 936.9L762.2 935.7L762.7 936.0L763.1 935.7L763.6 932.3L764.0 932.6L764.5 931.6L764.9 934.3L765.4 933.2L765.8 930.8L766.2 932.1L766.7 937.2L767.1 933.0L767.6 932.6L768.0 935.7L768.5 930.3L768.9 931.0L769.3 933.0L769.8 932.3L770.2 929.4L770.7 929.6L771.1 929.8L771.5 931.5L772.0 931.9L772.4 925.9L772.9 928.1L773.3 927.0L773.7 928.6L774.2 926.7L774.7 926.9L775.1 922.4L775.6 923.8L776.0 924.2L776.5 924.9L777.0 925.1L777.4 921.2L777.9 918.1L778.3 918.2L778.8 914.0L779.2 910.4L779.7 907.6L780.2 900.4L780.6 897.6L781.0 896.6L781.4 895.5L781.9 896.3L782.3 893.7L782.7 892.9L783.1 894.7L783.5 896.0L783.9 898.7L784.3 899.4L784.7 899.7L785.2 904.4L785.7 915.1L786.1 918.6L786.6 916.9L787.0 915.6L787.5 913.3L787.9 908.7L788.4 908.8L788.9 907.7L789.3 902.9L789.8 905.9L790.2 906.1L790.7 907.2L791.2 906.4L791.6 904.6L792.1 902.7L792.5 904.9L793.0 904.9L793.4 904.1L793.8 901.5L794.3 903.1L794.7 902.1L795.1 901.1L795.6 898.6L796.0 898.0L796.4 897.0L796.8 898.8L797.3 900.7L797.7 903.5L798.1 903.8L798.5 907.1L798.9 908.3L799.4 905.9L799.9 909.6L800.3 909.9L800.8 912.8L801.2 911.4L801.7 910.4L802.2 911.3L802.6 912.9L803.1 909.1L803.5 911.4L804.0 914.5L804.4 915.4L804.9 915.0L805.4 912.0L805.8 913.2L806.3 914.7L806.7 914.4L807.2 914.7L807.7 918.3L808.1 919.5L808.6 915.3L809.0 913.0L809.5 914.4L809.9 919.0L810.4 916.8L810.9 917.4L811.3 918.1L811.8 924.2L812.2 923.9L812.7 924.9L813.2 929.0L813.6 928.8L814.1 927.3L814.5 925.4L815.0 930.1L815.4 929.9L815.9 929.5L816.4 931.0L816.8 930.1L817.3 932.1L817.7 933.2L818.2 932.1L818.6 935.4L819.1 938.0L819.6 941.5L820.0 942.4L820.5 946.0L820.9 944.2L821.4 941.7L821.9 941.7L822.3 940.9L822.8 938.7L823.2 939.4L823.7 940.3L824.1 938.1L824.6 939.3L825.1 940.8L825.5 943.4L826.0 940.5L826.5 938.5L826.9 936.7L827.4 933.8L827.9 936.7L828.3 934.9L828.8 933.6L829.3 931.8L829.7 931.1L830.2 926.9L830.6 920.0L831.1 912.6L831.5 907.0L832.0 902.0L832.4 900.4L832.9 897.7L833.4 895.4L833.8 891.5L834.3 893.1L834.7 896.6L835.2 899.1L835.6 900.3L836.0 903.3L836.5 906.4L836.9 906.7L837.4 907.6L837.8 915.4L838.3 923.1L838.7 929.5L839.2 932.6L839.6 933.8L840.1 937.2L840.5 938.3L841.0 940.5L841.5 946.6L841.9 942.8L842.4 944.0L842.9 943.0L843.3 945.4L843.8 949.5L844.3 947.9L844.8 949.4L845.2 945.6L845.7 947.1L846.1 950.0L846.6 947.7L847.1 946.4L847.5 944.8L848.0 950.4L848.4 949.2L848.9 952.0L849.3 950.8L849.8 950.4L850.3 952.0L850.7 951.6L851.2 953.5L851.6 950.7L852.1 950.1L852.6 951.3L853.0 950.7L853.5 951.3L853.9 953.6L854.4 953.6L854.8 952.8L855.3 956.4L855.8 951.6L856.2 951.8L856.7 952.4L857.1 954.9L857.6 954.8L858.1 954.6L858.5 956.4L859.0 953.8L859.4 951.6L859.9 954.7L860.3 956.3L860.8 951.8L861.3 951.1L861.7 951.8L862.2 952.9L862.6 952.7L863.1 953.8L863.6 949.5L864.0 950.3L864.5 948.4L864.9 952.7L865.4 954.5L865.8 953.6L866.3 953.0L866.8 952.8L867.2 952.8L867.7 951.5L868.1 953.8L868.6 954.9L869.0 952.8L869.5 954.4L870.0 957.0L870.4 957.9L870.9 959.6L871.3 960.8L871.8 952.9L872.3 952.4L872.7 952.3L873.2 954.0L873.6 956.4L874.1 951.3L874.5 953.7L875.0 953.8L875.5 955.6L875.9 954.6L876.4 952.0L876.8 953.0L877.3 950.8L877.8 950.1L878.2 949.0L878.7 948.5L879.1 948.4L879.6 947.7L880.0 948.3L880.5 946.8L881.0 941.0L881.4 944.4L881.9 943.5L882.3 946.1L882.8 944.4L883.3 943.2L883.7 941.9L884.2 944.1L884.6 946.8L885.1 944.5L885.5 946.3L886.0 945.8L886.5 942.4L886.9 944.5L887.4 944.6L887.8 945.8L888.3 941.6L888.8 944.5L889.2 943.7L889.7 945.0L890.1 942.5L890.6 941.0L891.0 941.0L891.5 941.1L892.0 942.9L892.4 939.6L892.9 938.9L893.3 936.9L893.8 937.2L894.2 938.1L894.7 940.1L895.2 937.3L895.6 936.7L896.1 935.8L896.5 936.4L897.0 933.1L897.5 931.3L897.9 931.0L898.4 929.0L898.8 928.5L899.3 926.9L899.7 925.0L900.2 925.9L900.7 920.9L901.1 916.4L901.6 914.2L902.0 913.5L902.5 907.8L903.0 902.7L903.4 902.1L903.8 900.2L904.3 895.4L904.7 896.8L905.1 896.2L905.6 891.2L906.0 888.7L906.4 888.5L906.9 886.6L907.3 884.3L907.7 884.5L908.2 877.8L908.5 870.4L908.9 864.6L909.3 864.5L909.8 862.1L910.2 858.7L910.7 862.9L911.2 863.3L911.6 861.5L912.0 851.2L912.3 842.3L912.8 838.3L913.2 825.8L913.7 819.3L914.1 808.7L914.6 802.2L915.1 799.9L915.5 797.2L915.9 791.8L916.3 790.8L916.7 794.9L917.1 793.3L917.6 789.0L918.0 784.3L918.5 774.8L918.9 771.3L919.4 766.6L919.9 762.3L920.3 760.5L920.8 755.1L921.2 748.1L921.7 745.7L922.2 747.2L922.6 747.8L923.1 747.1L923.5 749.6L924.0 749.9L924.4 754.0L924.9 759.5L925.4 761.1L925.8 763.0L926.2 769.0L926.6 766.6L927.0 769.6L927.4 772.8L927.8 774.2L928.2 775.5L928.7 778.5L929.1 781.4L929.5 782.5L929.9 783.3L930.3 782.4L930.7 786.2L931.1 787.9L931.5 789.8L932.0 793.6L932.4 796.9L932.8 801.7L933.2 807.8L933.6 809.9L934.1 816.0L934.5 827.5L935.0 835.1L935.4 836.8L935.8 841.8L936.2 845.3L936.6 850.2L937.0 855.0L937.5 854.6L937.9 855.1L938.3 862.3L938.7 865.7L939.1 866.0L939.6 871.6L940.0 872.8L940.5 874.3L940.9 878.6L941.4 881.5L941.9 883.1L942.3 883.4L942.8 883.0L943.3 885.4L943.7 886.3L944.2 890.1L944.7 891.8L945.1 891.1L945.6 893.2L946.0 890.2L946.5 894.4L946.9 894.5L947.4 890.5L947.9 893.9L948.3 896.8L948.8 901.5L949.2 903.5L949.7 910.7L950.1 915.8L950.6 919.3L951.1 926.0L951.5 924.3L952.0 926.2L952.4 927.0L952.9 924.0L953.4 928.8L953.8 931.4L954.3 930.8L954.7 932.6L955.2 936.0L955.6 934.9L956.1 936.7L956.5 937.2L956.9 937.6L957.4 939.3L957.8 935.8L958.3 935.9L958.7 937.0L959.2 941.2L959.6 943.7L960.0 942.1L960.5 940.0L960.9 945.3L961.4 943.9L961.8 943.1L962.2 945.7L962.7 945.1L963.1 947.8L963.6 948.9L964.0 947.0L964.4 952.1L964.9 950.3L965.3 950.6L965.8 952.8L966.2 953.1L966.7 946.4L967.1 949.2L967.6 949.6L968.0 951.4L968.5 952.4L968.9 954.4L969.4 948.6L969.8 950.6L970.3 953.5L970.7 951.7L971.2 955.1L971.6 955.1L972.1 955.2L972.6 951.8L973.0 949.4L973.5 951.5L973.9 952.8L974.4 953.9L974.8 956.1L975.3 954.4L975.7 952.5L976.2 957.6L976.6 957.7L977.1 955.0L977.5 955.2L978.0 948.4L978.4 951.7L978.9 954.9L979.3 957.0L979.8 956.3L980.2 956.2L980.7 955.3L981.1 954.8L981.6 959.2L982.0 961.3L982.5 960.2L982.9 957.0L983.4 952.7L983.8 957.2L984.3 955.0L984.7 955.8L985.2 957.2L985.6 960.0L986.1 956.3L986.5 956.3L987.0 958.5L987.4 959.4L987.9 957.6L988.3 958.2L988.8 958.9L989.2 957.1L989.7 954.1L990.1 956.3L990.6 960.1L991.0 956.2L991.5 955.7L991.9 958.9L992.4 961.0L992.8 959.6L993.3 959.0L993.8 955.1L994.2 954.8L994.7 955.8L995.1 954.1L995.6 958.9L996.0 956.4L996.5 962.4L996.9 957.5L997.4 959.0L997.8 958.0L998.3 958.2L998.7 960.8L999.2 957.6L999.6 958.1L1000.1 961.1L1000.5 958.2L1001.0 964.2L1001.4 958.3L1001.9 960.8L1002.3 960.5L1002.8 960.9L1003.2 960.2L1003.7 959.2L1004.1 960.7L1004.6 959.3L1005.0 958.2L1005.5 963.1L1005.9 957.6L1006.4 960.9L1006.8 959.7L1007.3 956.6L1007.7 954.9L1008.2 957.3L1008.6 960.8L1009.1 963.3L1009.5 961.5L1010.0 963.5L1010.4 961.9L1010.9 961.6L1011.3 961.6L1011.8 963.5L1012.2 959.6L1012.7 957.0L1013.1 962.4L1013.6 961.6L1014.0 961.9L1014.5 963.4L1014.9 962.6L1015.4 961.5L1015.9 964.1L1016.3 964.2L1016.8 961.8L1017.2 961.9L1017.7 960.7L1018.1 960.9L1018.6 960.0L1019.0 962.4L1019.5 959.9L1019.9 959.8L1020.4 962.4L1020.8 962.1L1021.3 964.7L1021.7 961.4L1022.2 961.6L1022.6 961.2L1023.1 963.2L1023.5 961.7L1024.0 962.6L1024.4 958.8L1024.9 959.6L1025.3 963.6L1025.8 962.0L1026.2 962.1L1026.7 963.5L1027.1 962.3L1027.6 959.9L1028.0 961.1L1028.5 960.3L1028.9 960.6L1029.4 960.9L1029.8 962.4L1030.3 963.6L1030.7 964.4L1031.2 960.3L1031.6 961.0L1032.1 963.2L1032.5 960.3L1033.0 959.3L1033.4 963.5L1033.9 962.8L1034.3 962.6L1034.8 960.2L1035.2 962.9L1035.7 963.0L1036.1 961.2L1036.6 961.0L1037.0 961.6L1037.5 960.5L1038.0 960.4L1038.4 962.9L1038.9 960.5L1039.3 957.5L1039.8 961.3L1040.2 963.9L1040.7 960.4L1041.1 961.1L1041.6 960.7L1042.0 959.0L1042.5 958.5L1042.9 960.3L1043.4 957.0L1043.8 959.7L1044.3 965.1L1044.7 966.8L1045.2 958.5L1045.6 959.5L1046.1 958.2L1046.5 960.1L1047.0 959.4L1047.4 959.6L1047.9 960.3L1048.3 961.0L1048.8 961.0L1049.2 961.7L1049.7 962.6L1050.1 964.5L1050.6 962.8L1051.0 961.3L1051.5 962.8L1051.9 961.9L1052.4 962.5L1052.8 959.3L1053.3 957.5L1053.7 961.5L1054.2 958.2L1054.6 958.0L1055.1 959.4L1055.5 958.6L1056.0 961.3L1056.4 961.3L1056.9 961.5L1057.3 963.7L1057.8 961.8L1058.2 960.3L1058.7 958.4L1059.1 958.8L1059.6 958.7L1060.1 960.5L1060.5 963.9L1061.0 961.5L1061.4 961.3L1061.9 957.4L1062.3 963.2L1062.8 959.7L1063.2 961.0L1063.7 958.1L1064.1 961.6L1064.6 961.3L1065.0 959.4L1065.5 963.2L1065.9 964.4L1066.4 962.4L1066.8 960.4L1067.3 961.0L1067.7 959.6L1068.2 961.3L1068.6 960.1L1069.1 959.1L1069.5 960.1L1070.0 963.7L1070.4 958.8L1070.9 961.7L1071.3 961.9L1071.8 962.0L1072.2 961.3L1072.7 961.7L1073.1 956.8L1073.6 958.9L1074.0 955.9L1074.5 958.6L1074.9 959.1L1075.4 960.2L1075.8 960.7L1076.3 958.7L1076.7 958.6L1077.2 962.0L1077.6 962.6L1078.1 960.4L1078.5 958.4L1079.0 959.0L1079.4 960.9L1079.9 960.5L1080.3 960.3L1080.8 961.9L1081.2 961.1L1081.7 960.9L1082.2 959.8L1082.6 959.9L1083.1 960.1L1083.5 957.9L1084.0 958.1L1084.4 956.1L1084.9 958.0L1085.3 956.8L1085.8 959.4L1086.2 961.8L1086.7 959.3L1087.1 960.6L1087.6 961.6L1088.0 956.7L1088.5 961.0L1088.9 956.6L1089.4 955.8L1089.8 956.1L1090.3 955.6L1090.7 955.4L1091.2 958.6L1091.6 960.3L1092.1 961.2L1092.5 960.9L1093.0 962.2L1093.4 960.0L1093.9 959.0L1094.3 961.8L1094.8 959.0L1095.2 961.5L1095.7 959.6L1096.1 956.5L1096.6 956.8L1097.0 957.5L1097.5 959.1L1097.9 959.9L1098.4 960.8L1098.8 960.7L1099.3 961.7L1099.7 956.8L1100.2 959.4L1100.6 962.0L1101.1 958.7L1101.5 960.2L1102.0 961.3L1102.4 958.2L1102.9 954.9L1103.4 956.3L1103.8 957.7L1104.3 960.0L1104.7 960.4L1105.2 960.3L1105.6 959.1L1106.1 958.2L1106.5 957.5L1107.0 958.4L1107.4 958.0L1107.9 958.5L1108.3 957.5L1108.8 956.6L1109.2 958.9L1109.7 957.7L1110.1 959.8L1110.6 960.9L1111.0 957.5L1111.5 962.3L1111.9 957.4L1112.4 955.3L1112.8 955.2L1113.3 955.7L1113.7 957.6L1114.2 960.4L1114.6 959.6L1115.1 961.4L1115.5 955.3L1116.0 958.7L1116.4 956.0L1116.9 955.9L1117.3 961.7L1117.8 962.5L1118.2 959.7L1118.7 957.2L1119.1 956.7L1119.6 955.1L1120.0 956.4L1120.5 958.8L1120.9 959.1L1121.4 958.8L1121.8 957.4L1122.3 959.0L1122.7 959.4L1123.2 962.0L1123.6 959.7L1124.1 960.2L1124.5 960.1L1125.0 959.9L1125.5 959.7L1125.9 959.1L1126.4 959.9L1126.8 956.8L1127.3 956.2L1127.7 956.0L1128.2 956.7L1128.6 957.1L1129.1 960.2L1129.5 959.4L1130.0 958.7L1130.4 958.7L1130.9 960.0L1131.3 956.9L1131.8 958.0L1132.2 956.8L1132.7 959.0L1133.1 961.5L1133.6 960.0L1134.0 960.3L1134.5 961.6L1134.9 958.6L1135.4 959.3L1135.8 955.5L1136.3 958.4L1136.7 959.1L1137.2 958.7L1137.6 962.7L1138.1 960.6L1138.5 958.7L1139.0 958.0L1139.4 958.3L1139.9 955.1L1140.3 958.1L1140.8 957.0L1141.2 958.5L1141.7 959.7L1142.1 961.7L1142.6 959.0L1143.0 958.5L1143.5 958.6L1143.9 959.2L1144.4 957.6L1144.8 958.4L1145.3 957.5L1145.7 958.6L1146.2 961.3L1146.6 959.1L1147.1 961.2L1147.6 959.8L1148.0 961.1L1148.5 961.0L1148.9 956.2L1149.4 956.2L1149.8 954.7L1150.3 957.9L1150.7 956.1L1151.2 959.3L1151.6 958.2L1152.1 959.0L1152.5 956.4L1153.0 953.1L1153.4 954.8L1153.8 955.3L1154.3 956.4L1154.7 957.5L1155.2 954.7L1155.6 955.9L1156.1 954.6L1156.5 957.2L1157.0 954.4L1157.4 954.9L1157.9 956.6L1158.3 956.1L1158.8 956.0L1159.2 956.2L1159.6 955.5L1160.1 954.8L1160.5 951.8L1161.0 955.4L1161.4 955.2L1161.9 955.9L1162.3 952.3L1162.8 952.7L1163.2 947.7L1163.7 950.0L1164.1 949.3L1164.6 949.4L1165.0 950.8L1165.4 949.5L1165.9 950.4L1166.3 946.6L1166.8 952.4L1167.2 948.3L1167.7 946.6L1168.1 945.4L1168.6 948.5L1169.0 945.3L1169.5 946.0L1169.9 947.8L1170.4 946.4L1170.8 946.4L1171.2 946.2L1171.7 947.2L1172.1 946.5L1172.6 947.4L1173.0 946.6L1173.5 946.4L1173.9 944.1L1174.4 948.0L1174.8 947.9L1175.3 947.5L1175.7 949.0L1176.2 948.7L1176.6 949.0L1177.1 949.6L1177.5 950.4L1177.9 948.6L1178.4 950.9L1178.8 951.0L1179.3 949.4L1179.7 948.8L1180.2 951.7L1180.6 951.0L1181.1 948.5L1181.5 947.4L1182.0 953.2L1182.4 949.2L1182.9 948.6L1183.3 949.3L1183.8 947.9L1184.2 952.6L1184.6 949.2L1185.1 948.0L1185.5 949.8L1186.0 948.1L1186.4 947.4L1186.9 950.4L1187.3 951.7L1187.8 953.0L1188.2 950.8L1188.7 948.4L1189.1 948.4L1189.6 947.7L1190.0 949.1L1190.4 949.7L1190.9 948.7L1191.3 950.6L1191.8 950.8L1192.2 947.6L1192.7 951.4L1193.1 948.6L1193.6 948.6L1194.0 950.9L1194.5 950.6L1194.9 948.7L1195.4 949.7L1195.8 950.5L1196.2 948.1L1196.7 944.4L1197.1 950.6L1197.6 947.3L1198.0 948.4L1198.5 953.4L1198.9 949.8L1199.4 951.1L1199.8 948.3L1200.3 952.9L1200.7 949.2L1201.2 952.6L1201.6 950.8L1202.1 953.2L1202.5 952.8L1202.9 950.0L1203.4 948.8L1203.8 946.6L1204.3 949.4L1204.7 952.5L1205.2 950.7L1205.6 951.1L1206.1 952.6L1206.5 952.1L1207.0 952.4L1207.4 952.2L1207.9 949.9L1208.3 948.8L1208.8 950.0L1209.2 949.0L1209.6 950.2L1210.1 947.5L1210.5 950.0L1211.0 952.0L1211.4 953.3L1211.9 951.3L1212.3 951.8L1212.8 954.9L1213.2 953.9L1213.7 952.0L1214.1 949.1L1214.6 950.8L1215.0 951.0L1215.4 948.6L1215.9 948.4L1216.3 946.2L1216.8 950.7L1217.2 947.9L1217.7 953.2L1218.1 950.4L1218.6 949.1L1219.0 949.9L1219.5 950.6L1219.9 950.7L1220.4 949.0L1220.8 947.6L1221.2 948.0L1221.7 949.2L1222.1 948.3L1222.6 950.0L1223.0 951.6L1223.5 950.8L1223.9 950.3L1224.4 951.2L1224.8 948.2L1225.3 949.7L1225.7 950.0L1226.2 952.3L1226.6 952.4L1227.1 949.4L1227.5 952.5L1227.9 948.3L1228.4 951.5L1228.8 950.2L1229.3 950.7L1229.7 949.2L1230.2 948.6L1230.6 946.4L1231.1 950.1L1231.5 948.7L1232.0 950.0L1232.4 947.6L1232.9 950.3L1233.3 949.7L1233.8 948.3L1234.2 948.6L1234.6 947.8L1235.1 948.9L1235.5 951.0L1236.0 946.3L1236.4 943.2L1236.9 945.0L1237.3 944.2L1237.8 947.5L1238.2 944.8L1238.7 941.5L1239.1 944.3L1239.6 944.1L1240.0 942.1L1240.4 943.9L1240.9 945.2L1241.3 943.9L1241.8 946.8L1242.2 944.4L1242.7 945.7L1243.1 940.1L1243.6 942.5L1244.0 941.4L1244.5 940.8L1244.9 941.4L1245.4 941.1L1245.8 941.3L1246.2 940.2L1246.7 940.2L1247.1 938.3L1247.6 933.7L1248.0 935.8L1248.5 933.3L1248.9 934.2L1249.4 933.9L1249.8 934.6L1250.3 934.6L1250.7 933.9L1251.2 932.1L1251.6 932.9L1252.1 930.6L1252.5 927.7L1252.9 929.2L1253.4 926.7L1253.8 927.7L1254.3 930.0L1254.7 926.8L1255.2 926.7L1255.6 926.2L1256.1 922.8L1256.5 919.4L1257.0 920.5L1257.4 919.6L1257.9 915.4L1258.3 915.8L1258.8 913.3L1259.2 911.3L1259.6 907.3L1260.1 906.4L1260.5 907.6L1261.0 903.3L1261.4 904.1L1261.9 903.9L1262.3 898.9L1262.8 903.1L1263.2 900.1L1263.7 894.8L1264.1 894.2L1264.6 895.2L1265.0 895.7L1265.4 888.6L1265.9 888.4L1266.3 883.0L1266.8 882.1L1267.2 875.9L1267.7 871.9L1268.1 866.6L1268.6 866.6L1269.0 861.5L1269.5 859.4L1270.0 856.6L1270.5 855.7L1271.0 855.4L1271.4 856.0L1271.9 851.6L1272.4 851.4L1272.8 848.9L1273.3 850.3L1273.7 847.3L1274.2 847.7L1274.6 843.9L1275.0 846.1L1275.5 843.7L1275.9 843.5L1276.4 841.7L1276.8 840.1L1277.3 839.3L1277.8 840.9L1278.2 841.5L1278.7 842.4L1279.2 844.5L1279.7 843.6L1280.1 845.9L1280.6 846.4L1281.1 851.4L1281.6 851.5L1282.1 853.6L1282.5 858.8L1283.0 862.2L1283.5 864.5L1284.0 865.5L1284.5 868.8L1284.9 869.4L1285.4 873.6L1285.9 871.9L1286.4 871.7L1286.8 872.7L1287.3 878.1L1287.8 881.4L1288.3 882.2L1288.7 882.4L1289.2 883.4L1289.7 887.4L1290.1 886.6L1290.6 890.2L1291.1 890.1L1291.5 890.2L1292.0 890.0L1292.4 890.9L1292.8 893.1L1293.3 892.1L1293.7 894.8L1294.1 896.7L1294.5 897.7L1295.0 900.1L1295.4 899.9L1295.8 902.4L1296.3 903.7L1296.7 905.9L1297.1 907.1L1297.5 906.6L1298.0 908.0L1298.4 908.0L1298.8 908.4L1299.2 909.0L1299.7 910.5L1300.1 913.2L1300.6 913.7L1301.0 913.9L1301.4 914.8L1301.9 918.0L1302.3 917.7L1302.7 919.4L1303.2 922.3L1303.6 925.4L1304.1 922.2L1304.5 921.2L1305.0 923.3L1305.4 922.9L1305.9 926.7L1306.3 925.4L1306.8 928.4L1307.2 927.2L1307.7 927.2L1308.1 926.9L1308.6 927.0L1309.0 926.5L1309.5 929.0L1309.9 931.1L1310.4 929.9L1310.8 927.0L1311.3 931.3L1311.8 930.4L1312.2 933.3L1312.7 934.3L1313.1 931.1L1313.5 933.8L1314.0 931.7L1314.4 932.5L1314.9 931.9L1315.3 931.9L1315.8 936.3L1316.2 935.1L1316.7 934.2L1317.1 937.5L1317.6 938.7L1318.0 937.7L1318.5 938.5L1318.9 938.5L1319.4 940.7L1319.8 935.7L1320.3 937.6L1320.8 939.7L1321.2 940.1L1321.7 942.8L1322.1 942.0L1322.6 939.6L1323.0 944.2L1323.5 939.0L1323.9 941.3L1324.4 944.5L1324.8 948.6L1325.3 947.8L1325.7 947.5L1326.2 945.4L1326.6 948.9L1327.1 946.3L1327.5 947.4L1328.0 945.0L1328.4 946.7L1328.9 946.4L1329.3 948.6L1329.8 951.6L1330.2 950.0L1330.7 953.1L1331.1 952.4L1331.6 956.0L1332.0 953.4L1332.5 954.3L1332.9 949.5L1333.4 953.8L1333.8 953.2L1334.3 953.0L1334.8 954.7L1335.2 955.0L1335.7 957.6L1336.1 958.1L1336.6 954.1L1337.0 953.7L1337.5 956.7L1338.0 956.3L1338.4 955.9L1338.9 958.9L1339.3 955.9L1339.8 956.9L1340.3 957.0L1340.7 956.6L1341.2 958.8L1341.6 958.8L1342.1 958.7L1342.5 956.6L1343.0 956.6L1343.5 958.1L1343.9 955.2L1344.4 957.5L1344.8 957.4L1345.3 957.8L1345.8 957.0L1346.2 960.1L1346.7 958.0L1347.1 960.8L1347.6 961.0L1348.0 958.9L1348.5 959.2L1349.0 959.0L1349.4 959.0L1349.9 959.8L1350.3 960.1L1350.8 958.1L1351.2 958.9L1351.7 960.7L1352.2 960.1L1352.6 959.8L1353.1 959.8L1353.5 959.4L1354.0 962.2L1354.5 959.9L1354.9 959.8L1355.4 960.4L1355.8 962.3L1356.3 961.3L1356.7 960.7L1357.2 958.3L1357.7 958.9L1358.1 960.1L1358.6 961.0L1359.0 958.8L1359.5 961.3L1360.0 958.1L1360.4 961.4L1360.9 960.9L1361.3 960.4L1361.8 958.6L1362.2 959.7L1362.7 959.8L1363.2 960.7L1363.6 961.6L1364.1 960.9L1364.5 959.1L1365.0 962.5L1365.5 961.4L1365.9 963.7L1366.4 962.0L1366.8 964.0L1367.3 960.4L1367.7 960.0L1368.2 963.3L1368.7 960.1L1369.1 961.0L1369.6 963.6L1370.0 963.6L1370.5 966.9L1371.0 964.6L1371.4 966.5L1371.9 964.5L1372.3 966.7L1372.8 964.4L1373.2 965.0L1373.7 966.3L1374.2 968.0L1374.6 962.9L1375.1 960.5L1375.5 959.8L1376.0 962.5L1376.4 962.6L1376.9 964.1L1377.4 967.3L1377.8 965.9L1378.3 963.7L1378.7 965.9L1379.2 964.8L1379.7 958.7L1380.1 963.2L1380.6 963.4L1381.0 962.2L1381.5 960.6L1381.9 961.6L1382.4 966.1L1382.9 963.9L1383.3 961.5L1383.8 963.1L1384.2 960.5L1384.7 963.7L1385.2 964.0L1385.6 962.7L1386.1 963.7L1386.5 961.0L1387.0 961.5L1387.4 962.1L1387.9 962.5L1388.4 965.9L1388.8 964.4L1389.3 961.2L1389.7 961.8L1390.2 960.9L1390.7 962.7L1391.1 959.6L1391.6 963.1L1392.0 961.4L1392.5 963.4L1392.9 964.8L1393.4 964.6L1393.9 960.7L1394.3 960.9L1394.8 958.8L1395.2 960.4L1395.7 961.0L1396.2 963.5L1396.6 962.5L1397.1 962.8L1397.5 961.0L1398.0 960.1L1398.4 960.9L1398.9 960.2L1399.4 960.4L1399.8 960.7L1400.3 963.4L1400.7 961.8L1401.2 965.9L1401.6 964.7L1402.1 962.3L1402.6 962.8L1403.0 965.2L1403.5 960.5L1403.9 963.3L1404.4 965.6L1404.8 964.0L1405.3 960.6L1405.7 959.7L1406.2 962.6L1406.7 963.0L1407.1 964.8L1407.6 961.1L1408.0 962.7L1408.5 965.4L1408.9 964.8" fill="none" stroke="#008B8B" stroke-width="5.2" stroke-linejoin="round" stroke-linecap="round"/>
<path d="M236.4 1040.6L236.8 1041.7L237.2 1040.8L237.7 1039.4L238.1 1041.3L238.5 1042.7L239.0 1043.2L239.4 1043.8L239.9 1043.0L240.3 1041.8L240.7 1041.2L241.2 1042.5L241.6 1050.2L242.1 1061.1L242.6 1062.9L243.1 1059.9L243.6 1065.0L244.1 1065.9L244.5 1070.1L245.0 1073.5L245.4 1073.1L245.9 1068.2L246.3 1073.9L246.7 1071.1L247.2 1079.1L247.6 1077.0L248.0 1078.6L248.4 1085.2L248.9 1079.2L249.3 1083.4L249.8 1083.2L250.3 1085.9L250.8 1087.4L251.3 1092.9L251.8 1093.4L252.2 1095.1L252.6 1096.8L253.1 1091.7L253.5 1098.4L253.9 1096.6L254.4 1092.9L254.8 1094.7L255.3 1099.4L255.7 1101.5L256.1 1098.3L256.6 1099.7L257.0 1100.9L257.5 1103.6L257.9 1102.0L258.3 1104.7L258.8 1101.2L259.2 1101.0L259.7 1104.8L260.1 1106.5L260.6 1105.5L261.0 1107.3L261.4 1107.2L261.9 1109.0L262.3 1111.0L262.8 1110.2L263.2 1111.1L263.7 1108.6L264.1 1107.7L264.6 1103.3L265.1 1109.2L265.5 1110.4L266.0 1112.3L266.4 1107.1L266.9 1109.4L267.3 1110.2L267.8 1107.6L268.2 1114.0L268.7 1117.0L269.1 1112.0L269.6 1115.1L270.0 1119.6L270.5 1113.5L270.9 1117.3L271.4 1120.0L271.8 1121.6L272.3 1114.0L272.8 1112.6L273.2 1115.5L273.7 1118.9L274.1 1113.8L274.6 1113.6L275.0 1112.7L275.5 1118.2L275.9 1115.7L276.4 1117.9L276.8 1118.8L277.3 1120.4L277.7 1119.1L278.2 1118.7L278.6 1120.8L279.1 1119.8L279.6 1115.2L280.0 1115.8L280.5 1119.8L280.9 1119.1L281.4 1117.8L281.9 1119.1L282.3 1127.4L282.8 1121.5L283.2 1121.2L283.7 1121.1L284.1 1119.4L284.6 1122.7L285.1 1123.0L285.5 1122.1L286.0 1117.5L286.4 1122.8L286.9 1123.3L287.4 1121.4L287.8 1114.3L288.3 1118.9L288.7 1117.4L289.2 1119.5L289.6 1119.5L290.1 1118.8L290.6 1123.3L291.0 1122.4L291.5 1125.1L291.9 1120.3L292.4 1121.0L292.9 1125.2L293.3 1123.8L293.8 1120.8L294.2 1119.6L294.7 1120.0L295.1 1121.5L295.6 1124.0L296.1 1123.4L296.5 1124.9L297.0 1125.6L297.4 1124.1L297.9 1126.7L298.4 1126.2L298.8 1123.8L299.3 1123.2L299.7 1123.5L300.2 1121.8L300.6 1119.9L301.1 1122.9L301.6 1122.5L302.0 1125.3L302.5 1123.2L302.9 1124.4L303.4 1125.2L303.8 1123.8L304.3 1125.2L304.8 1123.3L305.2 1123.6L305.7 1126.9L306.1 1127.0L306.6 1126.1L307.1 1123.9L307.5 1127.1L308.0 1131.5L308.4 1122.3L308.9 1127.8L309.3 1127.5L309.8 1129.7L310.3 1130.7L310.7 1125.5L311.2 1131.0L311.6 1126.9L312.1 1126.6L312.6 1128.8L313.0 1127.8L313.5 1128.5L313.9 1126.8L314.4 1125.0L314.8 1127.3L315.3 1125.2L315.8 1130.9L316.2 1129.9L316.7 1132.6L317.1 1126.7L317.6 1122.9L318.1 1121.3L318.5 1125.8L319.0 1124.8L319.4 1128.8L319.9 1125.4L320.3 1124.7L320.8 1128.8L321.3 1128.3L321.7 1131.0L322.2 1132.2L322.6 1131.5L323.1 1127.3L323.6 1127.0L324.0 1135.0L324.5 1131.1L324.9 1131.3L325.4 1131.0L325.8 1130.6L326.3 1130.1L326.8 1129.1L327.2 1128.9L327.7 1125.2L328.1 1133.5L328.6 1131.5L329.0 1127.9L329.5 1131.5L330.0 1133.1L330.4 1128.2L330.9 1129.2L331.3 1134.7L331.8 1134.0L332.3 1133.5L332.7 1134.9L333.2 1132.5L333.6 1131.4L334.1 1136.0L334.5 1132.9L335.0 1132.3L335.5 1134.0L335.9 1133.0L336.4 1129.5L336.8 1136.4L337.3 1133.5L337.7 1137.5L338.1 1135.4L338.6 1131.2L339.0 1136.2L339.5 1133.4L339.9 1130.8L340.4 1132.2L340.8 1127.3L341.3 1132.3L341.7 1130.9L342.2 1131.8L342.6 1130.4L343.1 1134.1L343.5 1134.4L344.0 1136.3L344.4 1138.4L344.9 1135.6L345.3 1134.3L345.8 1134.5L346.2 1131.7L346.7 1131.6L347.1 1134.9L347.5 1131.8L348.0 1128.2L348.4 1131.1L348.9 1133.6L349.3 1137.5L349.8 1133.1L350.2 1131.3L350.7 1133.4L351.1 1133.4L351.6 1134.4L352.0 1132.9L352.5 1134.2L352.9 1132.7L353.4 1136.2L353.8 1135.5L354.3 1136.1L354.7 1133.7L355.2 1130.5L355.6 1133.3L356.1 1133.9L356.5 1137.1L356.9 1137.8L357.4 1135.4L357.8 1134.7L358.3 1132.2L358.7 1133.8L359.2 1135.0L359.6 1133.8L360.1 1131.8L360.5 1137.2L361.0 1133.3L361.4 1138.6L361.9 1139.1L362.3 1140.2L362.8 1134.5L363.2 1136.5L363.7 1132.1L364.1 1133.4L364.6 1130.8L365.0 1132.1L365.4 1133.1L365.9 1137.1L366.3 1138.7L366.8 1135.5L367.2 1134.8L367.7 1133.0L368.1 1131.9L368.6 1130.0L369.0 1133.5L369.5 1136.6L369.9 1134.1L370.4 1136.2L370.8 1133.1L371.3 1132.5L371.7 1133.6L372.2 1137.5L372.6 1135.2L373.1 1137.7L373.5 1135.7L374.0 1133.3L374.4 1130.3L374.8 1133.4L375.3 1133.1L375.7 1137.8L376.2 1138.1L376.6 1133.0L377.1 1137.8L377.5 1138.5L378.0 1130.1L378.4 1132.4L378.9 1136.3L379.3 1133.0L379.8 1134.2L380.2 1137.8L380.7 1138.2L381.1 1138.9L381.6 1139.6L382.0 1136.1L382.5 1143.3L382.9 1140.9L383.4 1144.3L383.8 1139.3L384.2 1140.0L384.7 1139.7L385.1 1138.4L385.6 1139.3L386.0 1139.4L386.5 1140.9L386.9 1140.2L387.4 1139.4L387.8 1140.3L388.3 1143.0L388.7 1140.5L389.2 1141.1L389.6 1140.2L390.1 1134.7L390.5 1135.8L391.0 1136.1L391.4 1135.1L391.9 1136.8L392.3 1134.5L392.7 1139.0L393.2 1138.4L393.6 1142.5L394.1 1141.7L394.5 1137.3L395.0 1138.6L395.4 1139.7L395.9 1138.2L396.3 1138.5L396.8 1136.8L397.2 1137.2L397.7 1139.8L398.1 1139.1L398.6 1142.7L399.0 1135.5L399.5 1136.6L399.9 1138.0L400.4 1143.1L400.8 1143.7L401.3 1142.9L401.7 1143.3L402.1 1144.9L402.6 1143.1L403.0 1140.3L403.5 1140.5L403.9 1138.3L404.4 1138.9L404.8 1140.5L405.3 1138.9L405.7 1139.9L406.2 1138.8L406.6 1136.3L407.1 1135.3L407.5 1140.2L408.0 1140.1L408.4 1142.0L408.9 1140.3L409.3 1140.0L409.8 1140.6L410.2 1139.3L410.6 1143.1L411.1 1143.4L411.5 1141.9L412.0 1137.9L412.4 1138.0L412.9 1139.8L413.3 1142.6L413.8 1140.5L414.2 1139.8L414.7 1141.0L415.1 1140.3L415.6 1139.4L416.0 1136.6L416.5 1141.6L416.9 1139.9L417.4 1138.2L417.8 1138.7L418.3 1135.8L418.7 1134.0L419.2 1133.2L419.6 1138.2L420.0 1135.5L420.5 1138.2L420.9 1135.8L421.4 1133.5L421.8 1135.7L422.3 1136.0L422.7 1136.2L423.2 1142.2L423.6 1140.2L424.1 1137.6L424.5 1140.4L425.0 1138.3L425.4 1141.4L425.9 1135.4L426.3 1140.2L426.8 1136.2L427.2 1135.8L427.7 1138.0L428.1 1135.5L428.6 1133.3L429.0 1135.7L429.4 1136.6L429.9 1133.5L430.3 1139.0L430.8 1136.2L431.2 1135.8L431.7 1136.6L432.1 1137.5L432.6 1140.3L433.0 1133.2L433.5 1136.4L433.9 1139.5L434.4 1138.8L434.8 1137.8L435.3 1134.9L435.7 1137.6L436.2 1136.4L436.6 1137.5L437.1 1134.9L437.5 1135.9L437.9 1136.6L438.4 1133.5L438.8 1138.8L439.3 1137.5L439.7 1134.2L440.2 1135.8L440.6 1137.2L441.1 1136.4L441.5 1134.4L442.0 1135.8L442.4 1133.4L442.9 1131.9L443.3 1138.5L443.8 1141.8L444.2 1143.2L444.7 1144.5L445.1 1142.7L445.6 1136.4L446.0 1135.5L446.5 1139.3L446.9 1136.5L447.3 1136.0L447.8 1136.6L448.2 1137.9L448.7 1133.8L449.1 1136.0L449.6 1137.8L450.0 1132.1L450.5 1138.2L450.9 1139.1L451.4 1135.4L451.8 1140.8L452.3 1138.9L452.7 1138.4L453.2 1140.9L453.6 1131.3L454.1 1134.8L454.5 1138.5L455.0 1140.4L455.4 1137.3L455.9 1136.0L456.3 1134.1L456.7 1134.5L457.2 1133.3L457.6 1129.1L458.1 1132.3L458.5 1132.1L459.0 1133.0L459.4 1133.6L459.9 1133.7L460.3 1135.1L460.8 1135.1L461.2 1134.3L461.7 1133.4L462.1 1134.3L462.6 1134.0L463.0 1134.4L463.5 1138.2L463.9 1136.4L464.4 1134.3L464.8 1129.5L465.2 1129.5L465.7 1125.7L466.1 1134.0L466.6 1137.0L467.0 1134.2L467.5 1133.1L467.9 1135.1L468.4 1135.8L468.8 1130.3L469.3 1132.3L469.7 1132.7L470.2 1130.4L470.6 1136.3L471.1 1136.4L471.5 1133.0L472.0 1133.3L472.4 1132.1L472.9 1131.8L473.3 1132.0L473.8 1135.5L474.2 1133.9L474.6 1132.3L475.1 1131.2L475.5 1133.2L476.0 1130.9L476.4 1128.3L476.9 1131.2L477.3 1136.3L477.8 1132.1L478.2 1132.9L478.7 1132.2L479.1 1135.5L479.6 1134.6L480.0 1129.9L480.5 1135.9L480.9 1133.4L481.4 1130.3L481.8 1130.3L482.3 1131.7L482.7 1134.6L483.2 1132.0L483.6 1130.1L484.0 1134.6L484.5 1136.5L484.9 1132.2L485.4 1132.1L485.8 1132.6L486.3 1131.1L486.7 1129.0L487.2 1133.2L487.6 1129.1L488.1 1126.0L488.5 1131.0L489.0 1133.9L489.4 1133.9L489.9 1130.0L490.3 1130.2L490.8 1128.2L491.2 1129.1L491.7 1124.6L492.1 1127.2L492.6 1133.6L493.0 1129.2L493.5 1135.2L493.9 1133.1L494.4 1127.2L494.8 1132.7L495.3 1129.7L495.8 1132.6L496.2 1131.7L496.7 1131.0L497.1 1131.3L497.6 1128.6L498.0 1129.2L498.5 1130.3L498.9 1136.1L499.4 1132.0L499.8 1133.1L500.3 1133.8L500.7 1135.9L501.2 1133.0L501.6 1133.2L502.1 1130.5L502.5 1138.4L503.0 1130.8L503.4 1132.9L503.9 1132.0L504.4 1133.1L504.8 1131.7L505.3 1131.6L505.7 1135.1L506.2 1136.2L506.6 1134.0L507.1 1133.2L507.5 1133.8L508.0 1133.4L508.4 1134.6L508.9 1135.8L509.3 1135.4L509.8 1130.3L510.2 1132.6L510.7 1130.8L511.1 1134.0L511.6 1133.2L512.0 1134.5L512.5 1134.0L512.9 1136.4L513.4 1138.2L513.9 1135.8L514.3 1131.0L514.8 1133.4L515.2 1139.0L515.7 1134.1L516.1 1134.2L516.6 1140.5L517.0 1140.5L517.5 1137.9L517.9 1136.1L518.4 1131.7L518.8 1137.7L519.3 1137.7L519.7 1131.3L520.2 1133.2L520.6 1133.8L521.1 1134.1L521.5 1132.7L522.0 1140.1L522.4 1134.0L522.9 1138.0L523.3 1137.1L523.8 1135.3L524.2 1135.9L524.7 1136.7L525.1 1133.2L525.6 1133.2L526.0 1137.1L526.5 1137.6L526.9 1136.4L527.4 1132.1L527.8 1129.8L528.3 1136.8L528.7 1138.8L529.2 1137.1L529.6 1136.3L530.1 1134.2L530.5 1135.7L531.0 1137.8L531.4 1137.4L531.9 1134.0L532.3 1135.3L532.8 1133.4L533.2 1134.0L533.7 1131.6L534.1 1127.8L534.6 1129.9L535.0 1133.6L535.5 1132.3L535.9 1135.2L536.4 1133.3L536.8 1134.9L537.3 1133.5L537.7 1137.8L538.2 1134.5L538.6 1134.6L539.1 1137.4L539.5 1139.1L540.0 1133.0L540.4 1137.7L540.9 1132.9L541.3 1131.6L541.8 1131.6L542.2 1136.1L542.7 1132.4L543.1 1135.3L543.6 1135.7L544.0 1134.4L544.5 1135.5L544.9 1139.8L545.4 1140.0L545.8 1134.0L546.3 1134.9L546.7 1133.5L547.2 1133.7L547.6 1132.8L548.1 1135.2L548.5 1132.4L549.0 1130.6L549.4 1133.2L549.9 1134.7L550.3 1137.3L550.8 1136.7L551.2 1132.8L551.7 1131.4L552.1 1134.1L552.6 1134.7L553.0 1136.0L553.5 1137.8L553.9 1129.6L554.4 1131.1L554.8 1134.4L555.3 1131.4L555.7 1137.2L556.2 1134.7L556.6 1135.5L557.1 1133.8L557.5 1134.7L558.0 1135.0L558.4 1135.5L558.9 1130.9L559.3 1128.2L559.8 1131.8L560.2 1135.1L560.7 1133.5L561.1 1133.2L561.6 1136.1L562.0 1135.9L562.5 1131.9L562.9 1133.5L563.4 1133.0L563.8 1133.5L564.3 1133.3L564.7 1134.8L565.2 1133.8L565.6 1134.3L566.1 1133.7L566.5 1133.0L567.0 1131.8L567.4 1133.5L567.9 1134.5L568.4 1137.5L568.8 1140.6L569.3 1133.8L569.7 1131.8L570.2 1135.3L570.6 1132.8L571.1 1133.3L571.5 1130.1L572.0 1133.7L572.4 1129.7L572.9 1134.5L573.3 1131.4L573.8 1133.1L574.2 1135.4L574.7 1131.6L575.1 1132.3L575.6 1137.9L576.0 1131.0L576.5 1132.6L576.9 1127.9L577.4 1132.2L577.8 1132.2L578.3 1129.9L578.7 1129.0L579.2 1134.7L579.6 1134.9L580.1 1130.4L580.5 1134.0L581.0 1130.8L581.4 1130.1L581.9 1132.8L582.3 1132.4L582.8 1133.8L583.2 1135.5L583.7 1131.9L584.1 1133.6L584.6 1133.5L585.0 1128.7L585.5 1133.2L585.9 1135.1L586.4 1129.8L586.8 1130.8L587.3 1134.2L587.7 1135.1L588.2 1132.2L588.6 1131.7L589.1 1131.3L589.5 1129.0L590.0 1131.5L590.4 1137.1L590.9 1130.2L591.3 1131.5L591.8 1129.6L592.2 1135.0L592.7 1128.9L593.1 1133.3L593.6 1133.5L594.0 1130.3L594.5 1130.7L594.9 1131.7L595.4 1136.0L595.8 1133.8L596.3 1135.3L596.7 1135.5L597.2 1133.1L597.6 1132.3L598.1 1131.7L598.6 1135.7L599.0 1136.1L599.5 1135.4L599.9 1131.2L600.4 1130.8L600.8 1133.2L601.3 1131.6L601.7 1128.2L602.2 1126.9L602.6 1131.2L603.1 1133.2L603.6 1133.2L604.0 1135.7L604.5 1128.8L604.9 1126.2L605.4 1130.0L605.8 1133.0L606.3 1129.7L606.7 1131.3L607.2 1132.0L607.6 1130.2L608.1 1128.8L608.5 1129.6L609.0 1130.4L609.5 1132.6L609.9 1130.7L610.4 1128.5L610.8 1127.6L611.3 1128.8L611.7 1131.5L612.2 1128.9L612.6 1129.3L613.1 1131.6L613.5 1131.6L614.0 1135.9L614.5 1133.4L614.9 1133.0L615.4 1136.5L615.8 1127.5L616.3 1124.9L616.7 1126.2L617.2 1128.5L617.6 1131.5L618.1 1131.0L618.5 1127.7L619.0 1124.2L619.4 1127.3L619.9 1126.5L620.4 1124.3L620.8 1122.7L621.3 1126.7L621.7 1125.3L622.2 1125.8L622.6 1124.9L623.1 1122.8L623.5 1122.7L624.0 1122.0L624.4 1122.9L624.9 1121.4L625.4 1123.9L625.8 1120.5L626.3 1122.6L626.7 1123.0L627.2 1124.3L627.6 1115.9L628.1 1122.3L628.5 1123.5L629.0 1121.9L629.4 1121.7L629.9 1121.6L630.3 1118.9L630.8 1128.9L631.3 1124.2L631.7 1124.4L632.2 1120.5L632.6 1121.1L633.1 1116.7L633.5 1120.8L634.0 1120.2L634.4 1122.1L634.9 1123.7L635.3 1126.5L635.8 1124.2L636.3 1120.7L636.7 1121.2L637.2 1123.9L637.6 1127.8L638.1 1118.6L638.5 1118.7L639.0 1120.1L639.4 1121.9L639.9 1124.3L640.3 1127.0L640.8 1125.8L641.3 1127.5L641.7 1123.0L642.2 1121.3L642.6 1118.8L643.1 1120.1L643.5 1124.0L644.0 1123.6L644.4 1128.3L644.9 1124.1L645.3 1121.2L645.8 1124.1L646.2 1118.8L646.7 1124.1L647.2 1124.4L647.6 1120.1L648.1 1123.3L648.5 1123.5L649.0 1125.9L649.4 1122.9L649.9 1121.2L650.3 1121.9L650.8 1121.7L651.2 1119.4L651.7 1123.3L652.1 1124.5L652.6 1120.7L653.0 1119.8L653.5 1118.2L653.9 1119.1L654.4 1118.8L654.8 1120.2L655.3 1122.2L655.7 1124.7L656.2 1119.4L656.6 1118.2L657.1 1116.7L657.5 1118.9L658.0 1121.4L658.4 1118.1L658.9 1119.1L659.3 1116.9L659.8 1115.1L660.2 1116.4L660.7 1119.9L661.1 1117.9L661.6 1113.6L662.0 1114.0L662.5 1115.5L662.9 1121.3L663.4 1115.2L663.8 1122.8L664.3 1120.4L664.7 1120.2L665.2 1119.1L665.6 1110.1L666.1 1113.9L666.5 1114.9L667.0 1115.6L667.4 1117.5L667.9 1114.5L668.3 1111.7L668.8 1113.7L669.2 1113.3L669.7 1113.7L670.1 1111.4L670.6 1111.5L671.0 1103.9L671.5 1109.4L671.9 1112.9L672.4 1111.4L672.8 1110.4L673.3 1111.9L673.7 1110.2L674.2 1110.0L674.6 1114.7L675.1 1116.2L675.5 1108.2L676.0 1108.8L676.4 1111.1L676.9 1113.1L677.3 1109.0L677.8 1109.3L678.2 1112.5L678.7 1114.8L679.1 1110.4L679.6 1110.7L680.0 1110.9L680.5 1114.4L680.9 1114.0L681.4 1113.8L681.8 1117.3L682.3 1115.8L682.7 1113.8L683.2 1116.9L683.6 1118.0L684.1 1118.0L684.5 1119.0L685.0 1115.9L685.4 1109.0L685.9 1111.2L686.3 1113.2L686.8 1113.3L687.2 1115.3L687.7 1114.8L688.1 1118.7L688.6 1116.6L689.0 1116.9L689.5 1117.7L689.9 1118.6L690.4 1114.1L690.8 1117.5L691.3 1115.0L691.7 1109.5L692.2 1116.9L692.6 1115.7L693.1 1117.7L693.5 1112.7L694.0 1115.4L694.4 1112.9L694.9 1119.8L695.3 1119.8L695.8 1115.9L696.2 1109.1L696.7 1113.1L697.1 1114.9L697.6 1114.5L698.0 1115.6L698.5 1114.3L698.9 1116.2L699.4 1116.0L699.9 1112.8L700.3 1115.5L700.8 1115.4L701.2 1113.5L701.7 1111.3L702.2 1109.9L702.6 1117.2L703.1 1119.2L703.5 1115.8L704.0 1111.6L704.5 1112.8L704.9 1109.8L705.4 1108.9L705.8 1108.1L706.3 1109.3L706.8 1109.6L707.2 1110.2L707.7 1110.6L708.1 1109.6L708.6 1109.6L709.0 1110.1L709.5 1110.6L709.9 1111.0L710.4 1114.1L710.9 1108.7L711.3 1111.4L711.8 1112.2L712.2 1114.3L712.7 1112.9L713.1 1111.0L713.6 1114.4L714.0 1116.4L714.5 1112.5L714.9 1116.0L715.4 1120.9L715.9 1115.0L716.3 1116.3L716.8 1109.0L717.2 1113.8L717.7 1112.4L718.1 1115.3L718.6 1114.6L719.0 1115.7L719.5 1118.1L719.9 1118.4L720.4 1118.5L720.9 1114.7L721.3 1114.7L721.8 1115.2L722.2 1114.4L722.7 1113.3L723.1 1115.1L723.6 1116.7L724.0 1115.5L724.5 1112.9L724.9 1117.5L725.4 1114.9L725.8 1119.9L726.3 1117.9L726.8 1117.2L727.2 1119.5L727.7 1117.4L728.1 1113.7L728.6 1115.9L729.0 1111.4L729.5 1115.7L729.9 1116.5L730.4 1117.8L730.8 1117.0L731.3 1121.3L731.8 1118.5L732.2 1116.2L732.7 1123.8L733.1 1119.0L733.6 1119.4L734.0 1117.3L734.5 1116.4L734.9 1116.7L735.4 1115.6L735.8 1116.6L736.3 1116.5L736.7 1115.8L737.2 1114.9L737.7 1115.8L738.1 1111.2L738.6 1116.3L739.0 1110.9L739.5 1114.8L739.9 1116.6L740.4 1115.9L740.8 1117.3L741.3 1122.3L741.7 1119.7L742.2 1117.4L742.6 1118.8L743.1 1116.7L743.5 1113.4L744.0 1115.0L744.4 1118.9L744.9 1118.1L745.3 1119.9L745.8 1120.7L746.2 1114.7L746.7 1114.1L747.1 1115.4L747.6 1114.9L748.0 1119.3L748.5 1117.1L748.9 1115.8L749.4 1121.6L749.8 1116.8L750.3 1115.6L750.7 1121.4L751.2 1120.4L751.6 1119.1L752.1 1120.2L752.5 1117.5L753.0 1117.1L753.4 1116.7L753.9 1120.0L754.3 1117.7L754.8 1113.7L755.2 1112.4L755.7 1116.0L756.1 1112.3L756.6 1110.8L757.0 1112.0L757.5 1109.8L757.9 1113.4L758.4 1118.5L758.8 1119.6L759.3 1115.4L759.7 1117.0L760.2 1114.3L760.6 1112.7L761.1 1113.6L761.5 1112.2L762.0 1110.2L762.4 1110.3L762.9 1109.6L763.3 1110.6L763.8 1112.4L764.2 1107.2L764.7 1107.0L765.1 1105.2L765.5 1111.1L766.0 1110.5L766.4 1108.8L766.8 1105.3L767.3 1108.5L767.7 1104.4L768.1 1101.7L768.6 1102.7L769.0 1107.5L769.5 1105.4L769.9 1103.8L770.3 1102.6L770.8 1105.7L771.2 1099.8L771.6 1096.9L772.1 1096.9L772.5 1095.3L772.9 1091.3L773.4 1089.6L773.8 1089.5L774.2 1083.7L774.7 1086.6L775.1 1085.9L775.5 1086.7L776.0 1087.0L776.4 1087.7L776.8 1089.2L777.3 1085.2L777.7 1084.6L778.2 1084.7L778.6 1085.7L779.0 1082.2L779.5 1085.0L779.9 1087.3L780.4 1085.2L780.8 1081.8L781.3 1087.1L781.7 1090.4L782.2 1089.5L782.7 1091.9L783.1 1092.0L783.6 1089.3L784.0 1088.3L784.5 1094.4L785.0 1092.6L785.4 1089.6L785.9 1093.0L786.3 1089.2L786.8 1089.3L787.3 1093.7L787.7 1094.4L788.2 1090.8L788.6 1093.0L789.0 1093.2L789.5 1086.1L789.9 1088.6L790.3 1091.8L790.8 1091.0L791.2 1087.7L791.6 1090.9L792.1 1088.5L792.5 1090.9L793.0 1090.3L793.4 1091.9L793.8 1087.9L794.3 1092.8L794.7 1091.0L795.1 1091.7L795.6 1092.5L796.0 1094.8L796.4 1097.4L796.9 1098.3L797.3 1100.9L797.7 1101.8L798.2 1100.7L798.6 1101.0L799.0 1102.1L799.5 1104.5L799.9 1106.5L800.4 1102.1L800.8 1105.1L801.2 1106.3L801.7 1102.2L802.1 1105.5L802.5 1109.8L803.0 1106.4L803.4 1104.1L803.9 1101.3L804.3 1105.9L804.8 1106.9L805.2 1107.6L805.7 1110.4L806.1 1106.7L806.6 1108.4L807.0 1113.6L807.5 1114.8L807.9 1110.4L808.4 1106.5L808.8 1110.6L809.3 1112.2L809.7 1112.6L810.2 1110.2L810.6 1113.7L811.1 1111.3L811.5 1110.2L812.0 1110.6L812.4 1113.0L812.9 1113.9L813.3 1111.7L813.8 1115.1L814.2 1118.6L814.7 1112.9L815.1 1116.5L815.6 1114.8L816.0 1110.0L816.5 1115.6L816.9 1114.4L817.4 1116.0L817.8 1116.0L818.3 1111.0L818.7 1114.2L819.2 1119.5L819.6 1121.2L820.1 1116.8L820.5 1120.6L821.0 1121.7L821.4 1124.2L821.9 1126.4L822.3 1126.6L822.8 1125.9L823.2 1124.6L823.7 1122.7L824.1 1119.3L824.6 1121.2L825.0 1124.5L825.5 1125.5L825.9 1122.3L826.4 1117.7L826.8 1119.7L827.3 1118.5L827.7 1123.0L828.2 1120.5L828.6 1121.0L829.1 1123.0L829.5 1123.8L830.0 1124.9L830.4 1126.7L830.8 1125.8L831.3 1127.8L831.7 1123.3L832.1 1124.8L832.6 1130.9L833.0 1126.5L833.4 1122.6L833.9 1123.1L834.3 1122.3L834.7 1121.8L835.2 1122.4L835.6 1120.7L836.0 1115.8L836.4 1113.0L836.8 1110.9L837.3 1115.1L837.7 1118.5L838.2 1123.0L838.7 1125.4L839.1 1128.9L839.5 1127.5L840.0 1128.2L840.4 1129.7L840.8 1126.6L841.3 1129.0L841.7 1130.2L842.1 1132.7L842.6 1130.1L843.0 1126.4L843.4 1129.0L843.9 1132.8L844.3 1133.4L844.8 1134.9L845.2 1138.2L845.6 1138.0L846.1 1137.8L846.6 1136.5L847.0 1133.3L847.5 1134.4L847.9 1134.6L848.4 1133.1L848.8 1135.3L849.3 1134.8L849.7 1133.7L850.2 1132.9L850.6 1131.2L851.1 1139.0L851.5 1135.7L852.0 1135.0L852.5 1130.8L852.9 1135.0L853.4 1137.0L853.8 1138.3L854.3 1135.9L854.7 1134.5L855.2 1142.0L855.6 1138.5L856.1 1139.1L856.5 1138.8L857.0 1138.4L857.4 1141.8L857.9 1140.6L858.4 1140.8L858.8 1142.5L859.3 1141.6L859.7 1139.5L860.2 1136.2L860.6 1139.8L861.1 1138.8L861.5 1135.1L862.0 1139.1L862.4 1143.0L862.9 1142.3L863.3 1140.5L863.8 1143.0L864.3 1141.2L864.7 1136.9L865.2 1138.6L865.6 1140.2L866.1 1138.4L866.5 1136.6L867.0 1135.1L867.4 1141.2L867.9 1141.2L868.3 1137.4L868.8 1141.5L869.2 1139.6L869.7 1136.9L870.1 1136.3L870.6 1139.5L871.1 1141.5L871.5 1141.4L872.0 1138.7L872.4 1133.0L872.9 1134.3L873.3 1138.5L873.8 1136.3L874.2 1135.1L874.7 1134.8L875.1 1132.7L875.6 1140.3L876.0 1134.3L876.5 1134.8L876.9 1138.8L877.4 1140.3L877.9 1141.8L878.3 1137.6L878.8 1138.4L879.2 1143.2L879.7 1138.3L880.1 1139.6L880.6 1137.4L881.0 1134.5L881.5 1135.4L882.0 1135.5L882.4 1139.9L882.9 1141.2L883.3 1144.8L883.8 1138.4L884.2 1137.7L884.7 1139.8L885.1 1137.8L885.6 1136.3L886.1 1137.7L886.5 1140.8L887.0 1137.9L887.4 1142.7L887.9 1138.6L888.3 1141.2L888.8 1141.6L889.2 1138.4L889.7 1138.9L890.1 1141.6L890.6 1136.1L891.0 1139.8L891.5 1137.5L891.9 1139.2L892.3 1140.0L892.8 1138.2L893.2 1134.9L893.6 1135.4L894.1 1132.4L894.5 1128.9L895.0 1136.9L895.4 1132.8L895.8 1127.4L896.3 1132.0L896.7 1128.2L897.2 1132.0L897.6 1135.8L898.1 1136.1L898.5 1135.1L899.0 1131.4L899.4 1128.7L899.9 1124.7L900.3 1125.5L900.8 1127.6L901.2 1127.0L901.7 1132.4L902.1 1128.9L902.6 1127.7L903.0 1130.2L903.5 1127.0L903.9 1129.3L904.4 1128.9L904.8 1125.4L905.3 1127.9L905.7 1125.8L906.2 1124.5L906.6 1126.7L907.1 1125.9L907.5 1124.2L907.9 1126.9L908.4 1128.8L908.8 1125.7L909.3 1123.3L909.7 1123.0L910.1 1123.9L910.6 1126.3L911.0 1120.2L911.5 1126.1L911.9 1124.8L912.3 1123.4L912.8 1129.3L913.3 1125.8L913.7 1124.9L914.2 1117.8L914.7 1118.1L915.1 1110.1L915.6 1109.0L916.1 1106.2L916.6 1110.4L917.0 1108.7L917.5 1103.0L918.0 1106.2L918.4 1104.7L918.9 1104.0L919.4 1109.0L919.8 1098.2L920.3 1100.7L920.7 1096.9L921.2 1097.4L921.6 1097.3L922.1 1098.6L922.5 1097.0L923.0 1095.2L923.4 1086.7L923.9 1088.0L924.3 1089.2L924.8 1086.7L925.3 1083.7L925.8 1084.9L926.3 1082.2L926.8 1078.7L927.3 1078.2L927.7 1076.6L928.2 1075.9L928.6 1075.9L929.1 1078.4L929.6 1079.3L930.0 1077.3L930.5 1075.7L930.9 1075.5L931.4 1076.2L931.9 1076.2L932.3 1078.1L932.8 1081.0L933.3 1082.9L933.8 1078.8L934.2 1080.1L934.7 1081.3L935.2 1084.3L935.6 1082.6L936.1 1086.0L936.6 1088.3L937.1 1087.7L937.5 1090.9L938.0 1093.4L938.5 1093.1L938.9 1092.7L939.4 1095.1L939.9 1096.7L940.4 1095.1L940.8 1096.7L941.3 1097.3L941.8 1095.4L942.2 1098.0L942.7 1096.4L943.2 1094.5L943.7 1099.5L944.1 1101.1L944.6 1095.2L945.1 1095.0L945.5 1093.4L946.0 1090.3L946.5 1096.1L947.0 1093.9L947.4 1096.2L947.8 1088.5L948.2 1081.3L948.7 1079.0L949.1 1072.5L949.5 1069.7L950.0 1064.8L950.4 1061.4L950.8 1065.9L951.2 1068.8L951.6 1070.1L952.0 1072.2L952.5 1081.5L953.0 1085.6L953.5 1095.8L954.0 1105.6L954.5 1106.8L955.0 1111.2L955.4 1112.3L955.9 1113.1L956.4 1116.9L956.8 1118.1L957.3 1122.6L957.8 1122.0L958.2 1127.1L958.7 1123.5L959.1 1126.7L959.6 1127.4L960.0 1128.4L960.5 1127.3L960.9 1126.2L961.4 1124.0L961.8 1126.3L962.3 1131.1L962.7 1132.1L963.1 1133.6L963.6 1129.5L964.0 1131.8L964.5 1131.1L964.9 1128.3L965.3 1133.6L965.8 1137.1L966.2 1134.1L966.7 1136.2L967.1 1134.6L967.5 1132.1L968.0 1129.6L968.4 1135.4L968.9 1138.4L969.3 1135.7L969.7 1138.8L970.2 1139.2L970.6 1136.1L971.1 1139.0L971.5 1140.0L971.9 1137.1L972.4 1137.1L972.8 1138.9L973.3 1137.2L973.7 1135.9L974.1 1139.0L974.6 1144.6L975.0 1142.5L975.5 1140.0L975.9 1139.2L976.4 1143.6L976.8 1139.6L977.2 1138.3L977.7 1138.6L978.1 1139.6L978.6 1139.0L979.0 1139.9L979.5 1140.8L979.9 1143.9L980.4 1143.0L980.8 1137.4L981.3 1139.3L981.7 1138.3L982.2 1137.5L982.6 1139.1L983.0 1138.7L983.5 1140.4L983.9 1139.8L984.4 1144.1L984.8 1141.7L985.3 1138.5L985.7 1142.0L986.2 1140.0L986.6 1141.9L987.1 1137.8L987.5 1136.3L987.9 1136.2L988.4 1137.7L988.8 1136.3L989.3 1143.9L989.7 1146.0L990.2 1141.6L990.6 1146.2L991.1 1145.9L991.5 1141.0L992.0 1140.9L992.4 1143.2L992.9 1140.0L993.3 1143.2L993.8 1140.3L994.2 1144.5L994.7 1148.1L995.2 1145.0L995.6 1146.3L996.1 1144.2L996.5 1144.4L997.0 1141.3L997.5 1142.9L997.9 1146.7L998.4 1147.2L998.8 1141.9L999.3 1142.0L999.7 1144.5L1000.2 1145.8L1000.7 1144.4L1001.1 1141.2L1001.6 1141.8L1002.0 1145.0L1002.5 1146.9L1003.0 1144.0L1003.4 1145.5L1003.9 1148.5L1004.3 1143.9L1004.8 1142.2L1005.2 1144.2L1005.7 1147.7L1006.2 1146.0L1006.6 1146.5L1007.1 1143.0L1007.5 1145.6L1008.0 1141.2L1008.5 1144.9L1008.9 1144.9L1009.3 1149.2L1009.8 1148.8L1010.2 1143.9L1010.7 1149.0L1011.1 1152.3L1011.6 1148.5L1012.0 1147.7L1012.5 1145.4L1012.9 1145.2L1013.4 1145.6L1013.8 1147.4L1014.2 1147.1L1014.7 1146.3L1015.1 1143.7L1015.6 1152.0L1016.0 1150.8L1016.5 1150.5L1016.9 1146.5L1017.4 1145.2L1017.8 1145.4L1018.3 1145.5L1018.7 1148.6L1019.2 1143.6L1019.6 1145.7L1020.0 1146.0L1020.5 1146.1L1020.9 1147.9L1021.4 1147.7L1021.8 1147.2L1022.3 1147.7L1022.7 1141.9L1023.2 1147.0L1023.6 1146.4L1024.1 1147.8L1024.5 1146.6L1024.9 1143.6L1025.4 1147.6L1025.8 1145.8L1026.3 1147.3L1026.7 1145.5L1027.2 1145.2L1027.6 1148.8L1028.1 1144.1L1028.5 1149.8L1029.0 1149.9L1029.4 1148.2L1029.9 1148.8L1030.3 1152.9L1030.7 1148.3L1031.2 1143.1L1031.6 1143.7L1032.1 1144.5L1032.5 1145.2L1033.0 1143.0L1033.4 1145.4L1033.9 1147.9L1034.3 1148.4L1034.8 1147.5L1035.2 1143.7L1035.6 1146.9L1036.1 1147.2L1036.5 1148.0L1037.0 1146.8L1037.4 1149.3L1037.9 1144.9L1038.3 1145.6L1038.8 1148.0L1039.2 1146.1L1039.7 1147.1L1040.1 1149.2L1040.6 1153.5L1041.0 1144.3L1041.4 1145.8L1041.9 1146.7L1042.3 1145.0L1042.8 1145.9L1043.2 1142.2L1043.7 1146.9L1044.1 1147.6L1044.6 1144.6L1045.0 1147.7L1045.5 1144.5L1045.9 1144.9L1046.3 1150.9L1046.8 1144.0L1047.2 1141.1L1047.7 1145.6L1048.1 1146.6L1048.6 1151.3L1049.0 1151.3L1049.5 1148.9L1049.9 1144.2L1050.4 1144.0L1050.8 1144.7L1051.3 1149.0L1051.7 1145.6L1052.1 1146.6L1052.6 1143.4L1053.0 1146.8L1053.5 1151.0L1053.9 1147.5L1054.4 1145.9L1054.8 1143.9L1055.3 1145.1L1055.7 1144.5L1056.2 1143.0L1056.6 1148.4L1057.0 1146.7L1057.5 1147.1L1057.9 1147.2L1058.4 1146.8L1058.8 1146.3L1059.3 1145.5L1059.7 1147.0L1060.2 1144.2L1060.6 1143.4L1061.1 1145.1L1061.5 1145.7L1062.0 1142.3L1062.4 1143.3L1062.8 1142.8L1063.3 1144.6L1063.7 1148.2L1064.2 1144.0L1064.6 1146.1L1065.1 1148.6L1065.5 1146.0L1066.0 1146.7L1066.4 1143.6L1066.9 1140.9L1067.3 1146.0L1067.7 1145.7L1068.2 1149.2L1068.6 1146.2L1069.1 1143.9L1069.5 1146.8L1070.0 1149.7L1070.4 1148.5L1070.9 1144.7L1071.3 1145.5L1071.8 1146.6L1072.2 1143.9L1072.6 1144.0L1073.1 1147.6L1073.5 1146.7L1074.0 1146.0L1074.4 1144.5L1074.9 1145.2L1075.3 1144.6L1075.8 1145.0L1076.2 1146.0L1076.7 1143.3L1077.1 1144.7L1077.6 1143.2L1078.0 1144.4L1078.4 1141.2L1078.9 1143.4L1079.3 1143.3L1079.8 1145.4L1080.2 1144.1L1080.7 1141.2L1081.1 1143.6L1081.6 1137.2L1082.0 1140.7L1082.5 1145.9L1082.9 1143.1L1083.3 1143.1L1083.8 1142.0L1084.2 1144.6L1084.7 1142.9L1085.1 1145.6L1085.6 1145.7L1086.0 1142.0L1086.5 1147.7L1086.9 1142.7L1087.4 1143.5L1087.8 1145.9L1088.3 1140.3L1088.7 1142.6L1089.1 1145.5L1089.6 1146.6L1090.0 1144.3L1090.5 1144.6L1090.9 1147.6L1091.4 1142.4L1091.8 1142.3L1092.3 1147.5L1092.7 1145.8L1093.2 1146.0L1093.6 1143.8L1094.1 1142.8L1094.6 1141.2L1095.0 1146.5L1095.5 1145.2L1095.9 1141.6L1096.4 1145.0L1096.8 1143.2L1097.3 1146.5L1097.7 1141.8L1098.2 1142.1L1098.6 1143.0L1099.1 1140.3L1099.5 1144.2L1100.0 1146.1L1100.4 1144.1L1100.9 1141.5L1101.4 1139.6L1101.8 1144.1L1102.3 1143.8L1102.7 1142.8L1103.2 1144.0L1103.6 1144.8L1104.1 1140.7L1104.5 1145.3L1105.0 1143.6L1105.4 1143.9L1105.9 1143.6L1106.3 1144.4L1106.8 1146.6L1107.2 1142.3L1107.7 1142.9L1108.1 1141.1L1108.6 1142.1L1109.1 1143.1L1109.5 1143.2L1110.0 1143.9L1110.4 1143.4L1110.9 1146.7L1111.3 1145.0L1111.8 1147.9L1112.2 1145.2L1112.7 1142.3L1113.1 1145.3L1113.6 1146.9L1114.0 1142.9L1114.5 1143.7L1114.9 1142.3L1115.4 1141.4L1115.9 1144.1L1116.3 1144.3L1116.8 1146.2L1117.2 1143.1L1117.7 1145.1L1118.1 1146.7L1118.6 1144.9L1119.0 1142.8L1119.5 1144.5L1119.9 1145.9L1120.4 1141.6L1120.8 1143.4L1121.3 1147.8L1121.8 1145.0L1122.2 1143.2L1122.7 1144.1L1123.1 1144.0L1123.6 1146.6L1124.0 1142.5L1124.5 1140.1L1124.9 1141.4L1125.4 1145.3L1125.8 1143.4L1126.3 1144.7L1126.7 1144.0L1127.2 1143.5L1127.6 1146.3L1128.1 1143.6L1128.6 1146.4L1129.0 1147.6L1129.5 1145.6L1129.9 1144.7L1130.4 1144.5L1130.8 1143.5L1131.3 1142.8L1131.7 1145.2L1132.2 1145.4L1132.6 1143.7L1133.1 1143.0L1133.5 1144.8L1134.0 1145.7L1134.5 1142.6L1134.9 1146.4L1135.4 1143.1L1135.8 1144.4L1136.3 1142.9L1136.7 1142.3L1137.2 1143.6L1137.6 1142.0L1138.1 1141.9L1138.5 1138.1L1139.0 1142.7L1139.4 1140.0L1139.9 1143.4L1140.4 1143.9L1140.8 1144.1L1141.3 1145.9L1141.7 1144.6L1142.2 1142.9L1142.6 1141.2L1143.1 1138.9L1143.5 1143.2L1144.0 1139.3L1144.4 1142.9L1144.9 1140.1L1145.3 1137.7L1145.8 1142.9L1146.2 1142.4L1146.7 1142.4L1147.2 1141.2L1147.6 1146.0L1148.1 1141.5L1148.5 1142.7L1149.0 1143.4L1149.4 1145.3L1149.9 1142.5L1150.3 1143.0L1150.8 1140.9L1151.2 1137.8L1151.7 1139.2L1152.1 1144.2L1152.6 1140.8L1153.1 1138.9L1153.5 1143.2L1154.0 1140.2L1154.4 1141.2L1154.9 1141.2L1155.3 1140.2L1155.8 1137.7L1156.2 1143.2L1156.7 1144.1L1157.1 1142.5L1157.6 1142.0L1158.0 1140.3L1158.5 1143.3L1158.9 1139.4L1159.4 1135.4L1159.9 1138.7L1160.3 1140.3L1160.8 1140.7L1161.2 1141.4L1161.7 1141.6L1162.1 1138.6L1162.6 1137.2L1163.0 1140.3L1163.5 1140.7L1163.9 1139.3L1164.4 1138.4L1164.8 1140.2L1165.3 1140.0L1165.8 1144.3L1166.2 1142.4L1166.7 1141.3L1167.1 1143.3L1167.6 1136.9L1168.0 1137.7L1168.5 1136.5L1168.9 1134.9L1169.4 1137.7L1169.8 1143.2L1170.3 1140.0L1170.7 1135.0L1171.2 1134.2L1171.6 1135.0L1172.1 1138.5L1172.6 1141.0L1173.0 1135.6L1173.5 1138.6L1173.9 1135.6L1174.4 1139.8L1174.8 1139.4L1175.3 1138.6L1175.7 1135.6L1176.2 1133.9L1176.6 1134.2L1177.1 1136.5L1177.5 1139.9L1178.0 1142.2L1178.5 1134.8L1178.9 1136.9L1179.4 1137.0L1179.8 1134.7L1180.3 1134.2L1180.7 1138.4L1181.2 1133.6L1181.6 1133.8L1182.1 1136.3L1182.5 1140.1L1183.0 1140.1L1183.4 1137.8L1183.9 1132.8L1184.4 1134.5L1184.8 1137.3L1185.3 1135.2L1185.7 1138.9L1186.2 1137.3L1186.6 1136.8L1187.1 1134.7L1187.5 1136.7L1188.0 1134.2L1188.4 1134.6L1188.9 1137.0L1189.3 1136.4L1189.8 1141.6L1190.2 1134.7L1190.7 1134.3L1191.2 1133.4L1191.6 1132.7L1192.1 1139.9L1192.5 1132.6L1193.0 1135.4L1193.4 1135.1L1193.9 1135.1L1194.3 1133.8L1194.8 1135.6L1195.2 1135.2L1195.7 1136.5L1196.1 1134.7L1196.6 1136.4L1197.1 1136.3L1197.5 1140.2L1198.0 1136.7L1198.4 1138.6L1198.9 1138.0L1199.3 1137.9L1199.8 1137.6L1200.2 1136.7L1200.7 1135.7L1201.1 1135.6L1201.6 1132.8L1202.0 1134.4L1202.5 1133.3L1202.9 1133.9L1203.4 1130.9L1203.9 1134.4L1204.3 1134.5L1204.8 1136.8L1205.2 1135.5L1205.7 1140.9L1206.1 1137.5L1206.6 1133.7L1207.0 1134.5L1207.5 1133.6L1207.9 1135.1L1208.4 1141.1L1208.8 1140.3L1209.3 1135.8L1209.8 1140.6L1210.2 1138.0L1210.7 1140.7L1211.1 1142.7L1211.6 1137.7L1212.0 1134.0L1212.5 1136.5L1212.9 1137.9L1213.4 1137.1L1213.8 1140.9L1214.3 1139.8L1214.7 1139.6L1215.2 1140.9L1215.6 1139.1L1216.1 1138.3L1216.6 1137.8L1217.0 1140.0L1217.5 1143.3L1217.9 1140.9L1218.4 1142.8L1218.8 1139.0L1219.3 1140.3L1219.7 1143.3L1220.2 1135.9L1220.6 1137.5L1221.1 1138.4L1221.5 1143.3L1222.0 1142.8L1222.5 1146.1L1222.9 1139.5L1223.4 1143.3L1223.8 1142.4L1224.3 1142.0L1224.7 1142.1L1225.2 1141.2L1225.6 1136.8L1226.1 1139.9L1226.5 1142.7L1227.0 1138.9L1227.4 1138.9L1227.9 1142.6L1228.4 1138.9L1228.8 1140.0L1229.3 1140.0L1229.7 1138.1L1230.2 1137.9L1230.6 1135.8L1231.1 1136.3L1231.5 1135.1L1232.0 1137.6L1232.4 1141.6L1232.9 1138.0L1233.3 1135.2L1233.8 1138.5L1234.2 1140.7L1234.7 1138.6L1235.2 1138.7L1235.6 1135.4L1236.1 1139.8L1236.5 1139.8L1237.0 1140.8L1237.4 1141.9L1237.9 1140.1L1238.3 1135.1L1238.8 1136.7L1239.2 1136.4L1239.7 1137.4L1240.1 1131.8L1240.6 1134.3L1241.1 1137.4L1241.5 1139.4L1242.0 1137.9L1242.4 1139.2L1242.9 1136.8L1243.3 1132.5L1243.8 1133.7L1244.2 1133.4L1244.7 1128.6L1245.1 1130.9L1245.6 1129.5L1246.0 1135.1L1246.5 1135.8L1246.9 1131.8L1247.4 1128.5L1247.9 1131.5L1248.3 1137.4L1248.8 1130.6L1249.2 1131.0L1249.7 1131.6L1250.1 1134.3L1250.6 1135.5L1251.0 1131.7L1251.5 1131.1L1251.9 1130.2L1252.4 1133.1L1252.8 1131.2L1253.3 1136.4L1253.8 1135.4L1254.2 1132.9L1254.7 1132.1L1255.1 1137.0L1255.6 1132.6L1256.0 1130.6L1256.5 1131.1L1256.9 1131.7L1257.4 1128.1L1257.8 1132.4L1258.3 1129.7L1258.7 1132.4L1259.2 1126.6L1259.6 1129.4L1260.1 1128.7L1260.6 1130.8L1261.0 1131.2L1261.5 1124.5L1261.9 1125.4L1262.4 1128.8L1262.8 1128.9L1263.3 1127.8L1263.7 1124.0L1264.2 1120.7L1264.6 1123.9L1265.1 1122.9L1265.5 1122.4L1266.0 1121.4L1266.5 1121.6L1266.9 1122.7L1267.4 1119.7L1267.8 1120.0L1268.3 1118.1L1268.7 1115.9L1269.2 1119.3L1269.6 1118.9L1270.1 1118.4L1270.5 1115.9L1271.0 1115.3L1271.4 1111.9L1271.9 1117.7L1272.4 1113.1L1272.8 1112.1L1273.3 1110.2L1273.7 1108.0L1274.2 1104.3L1274.6 1107.7L1275.1 1107.5L1275.5 1107.2L1276.0 1104.0L1276.4 1105.9L1276.9 1101.8L1277.3 1102.1L1277.8 1104.3L1278.2 1099.3L1278.7 1099.8L1279.1 1095.1L1279.6 1094.5L1280.0 1096.9L1280.4 1093.1L1280.9 1093.8L1281.3 1092.5L1281.7 1089.3L1282.2 1088.4L1282.6 1088.8L1283.0 1087.9L1283.5 1088.4L1283.9 1086.8L1284.4 1084.4L1284.8 1083.3L1285.2 1082.5L1285.7 1084.7L1286.1 1084.9L1286.5 1083.4L1287.0 1087.2L1287.4 1086.4L1287.8 1086.2L1288.3 1085.6L1288.7 1087.4L1289.2 1088.9L1289.6 1087.6L1290.0 1082.5L1290.5 1086.5L1290.9 1088.2L1291.4 1082.3L1291.9 1089.2L1292.3 1090.8L1292.8 1086.8L1293.2 1088.7L1293.7 1089.2L1294.1 1089.2L1294.6 1088.9L1295.0 1094.4L1295.5 1096.7L1295.9 1095.0L1296.4 1094.3L1296.8 1094.9L1297.3 1097.4L1297.8 1098.0L1298.2 1095.7L1298.7 1094.0L1299.1 1097.9L1299.6 1099.1L1300.0 1098.7L1300.5 1099.2L1300.9 1099.8L1301.4 1102.9L1301.8 1105.4L1302.3 1102.5L1302.7 1106.0L1303.2 1106.0L1303.6 1106.1L1304.1 1108.3L1304.6 1108.8L1305.0 1110.5L1305.5 1109.3L1305.9 1108.8L1306.4 1111.6L1306.8 1109.1L1307.3 1112.6L1307.7 1114.7L1308.2 1115.7L1308.6 1111.8L1309.1 1119.1L1309.5 1117.6L1310.0 1112.1L1310.5 1117.5L1310.9 1114.9L1311.4 1115.1L1311.8 1117.0L1312.3 1119.7L1312.7 1119.4L1313.2 1117.5L1313.6 1116.5L1314.1 1120.0L1314.5 1121.3L1315.0 1120.4L1315.4 1121.7L1315.9 1117.2L1316.4 1121.2L1316.8 1122.5L1317.3 1126.5L1317.7 1120.6L1318.2 1119.7L1318.6 1119.7L1319.1 1124.8L1319.5 1124.9L1320.0 1125.8L1320.4 1124.9L1320.9 1124.4L1321.3 1126.0L1321.8 1126.2L1322.2 1126.8L1322.7 1127.6L1323.2 1126.5L1323.6 1129.1L1324.1 1128.4L1324.5 1127.1L1325.0 1128.7L1325.4 1129.2L1325.9 1130.9L1326.3 1137.4L1326.8 1134.2L1327.2 1132.0L1327.7 1131.9L1328.1 1134.7L1328.6 1134.1L1329.1 1133.1L1329.5 1133.4L1330.0 1135.6L1330.4 1138.4L1330.9 1139.5L1331.3 1139.4L1331.8 1140.8L1332.2 1140.1L1332.7 1142.5L1333.1 1143.0L1333.6 1140.8L1334.0 1141.2L1334.5 1143.8L1334.9 1138.4L1335.4 1139.4L1335.9 1140.8L1336.3 1135.4L1336.8 1141.1L1337.2 1141.1L1337.7 1141.4L1338.1 1144.1L1338.6 1147.7L1339.0 1141.7L1339.5 1142.8L1339.9 1140.3L1340.4 1141.3L1340.8 1140.9L1341.3 1141.0L1341.8 1144.5L1342.2 1143.9L1342.7 1141.3L1343.1 1145.6L1343.6 1140.6L1344.0 1146.9L1344.5 1146.1L1344.9 1146.5L1345.4 1147.4L1345.8 1144.0L1346.3 1146.1L1346.7 1144.8L1347.2 1145.3L1347.6 1143.7L1348.1 1143.7L1348.6 1148.1L1349.0 1145.8L1349.5 1143.2L1349.9 1143.0L1350.4 1141.8L1350.8 1144.1L1351.3 1144.0L1351.7 1148.2L1352.2 1147.1L1352.6 1146.8L1353.1 1143.7L1353.5 1144.3L1354.0 1144.4L1354.5 1144.0L1354.9 1145.8L1355.4 1146.3L1355.8 1147.8L1356.3 1146.6L1356.7 1145.2L1357.2 1145.1L1357.6 1144.3L1358.1 1143.4L1358.5 1143.0L1359.0 1144.4L1359.4 1145.6L1359.9 1142.5L1360.4 1147.3L1360.8 1147.8L1361.3 1149.5L1361.7 1148.3L1362.2 1145.4L1362.6 1147.5L1363.1 1147.5L1363.5 1145.7L1364.0 1143.8L1364.4 1144.7L1364.9 1145.3L1365.3 1144.2L1365.8 1148.4L1366.2 1146.1L1366.7 1144.9L1367.2 1146.0L1367.6 1147.1L1368.1 1147.8L1368.5 1149.3L1369.0 1147.1L1369.4 1148.3L1369.9 1149.0L1370.3 1146.2L1370.8 1147.2L1371.2 1148.9L1371.7 1149.2L1372.1 1146.8L1372.6 1149.2L1373.1 1147.9L1373.5 1146.0L1374.0 1145.4L1374.4 1147.5L1374.9 1149.8L1375.3 1147.4L1375.8 1149.0L1376.2 1149.1L1376.7 1148.9L1377.1 1150.0L1377.6 1151.0L1378.0 1147.3L1378.5 1150.3L1378.9 1152.3L1379.4 1150.0L1379.9 1147.4L1380.3 1150.0L1380.8 1148.7L1381.2 1145.1L1381.7 1149.1L1382.1 1148.4L1382.6 1145.3L1383.0 1148.3L1383.5 1149.4L1383.9 1151.9L1384.4 1151.1L1384.8 1147.7L1385.3 1148.9L1385.8 1150.5L1386.2 1148.3L1386.7 1147.0L1387.1 1148.2L1387.6 1147.3L1388.0 1147.5L1388.5 1150.6L1388.9 1147.9L1389.4 1147.0L1389.8 1148.3L1390.3 1146.0L1390.7 1148.2L1391.2 1148.0L1391.6 1146.6L1392.1 1148.5L1392.6 1145.8L1393.0 1150.4L1393.5 1148.6L1393.9 1147.5L1394.4 1147.3L1394.8 1147.9L1395.3 1149.8L1395.7 1149.2L1396.2 1149.6L1396.6 1149.8L1397.1 1150.0L1397.5 1150.7L1398.0 1152.0L1398.5 1150.5L1398.9 1150.7L1399.4 1153.8L1399.8 1149.5L1400.3 1149.2L1400.7 1145.8L1401.2 1150.9L1401.6 1152.2L1402.1 1149.5L1402.5 1151.5L1403.0 1147.8L1403.4 1153.2L1403.9 1146.9L1404.4 1147.6L1404.8 1148.7L1405.3 1148.7L1405.7 1150.8L1406.2 1149.6L1406.6 1146.4L1407.1 1148.7L1407.5 1147.5" fill="none" stroke="#838600" stroke-width="5.2" stroke-linejoin="round" stroke-linecap="round"/>
<path d="M213.1 1180.7L213.5 1181.4L214.0 1180.2L214.4 1179.1L214.9 1180.8L215.3 1182.8L215.8 1182.4L216.3 1184.7L216.7 1190.5L217.2 1200.1L217.6 1197.3L218.0 1203.6L218.4 1205.8L218.8 1207.9L219.2 1210.8L219.7 1212.6L220.1 1217.4L220.5 1226.5L220.9 1227.5L221.3 1231.0L221.7 1232.5L222.1 1238.0L222.5 1245.3L223.0 1251.6L223.4 1254.9L223.8 1258.8L224.2 1262.7L224.6 1266.2L225.0 1271.7L225.4 1273.6L225.9 1276.9L226.3 1276.0L226.8 1273.1L227.3 1273.7L227.7 1277.2L228.2 1278.4L228.6 1279.5L229.0 1282.8L229.4 1287.8L229.8 1291.8L230.2 1295.9L230.7 1293.3L231.1 1295.9L231.5 1298.8L232.0 1298.7L232.4 1302.5L232.8 1299.1L233.2 1299.8L233.7 1301.0L234.1 1303.9L234.5 1308.5L234.9 1313.4L235.3 1317.1L235.7 1320.1L236.2 1322.2L236.7 1325.2L237.1 1324.4L237.6 1329.7L238.0 1330.0L238.5 1333.6L238.9 1331.2L239.3 1332.6L239.8 1331.5L240.2 1330.9L240.6 1329.7L241.1 1329.7L241.5 1329.5L241.9 1328.1L242.3 1332.2L242.7 1336.5L243.2 1340.1L243.6 1342.5L244.0 1350.9L244.4 1350.7L244.9 1352.9L245.4 1350.9L245.8 1350.0L246.3 1354.4L246.7 1355.5L247.2 1354.0L247.7 1354.3L248.1 1356.8L248.6 1355.7L249.0 1356.3L249.5 1359.4L249.9 1363.7L250.4 1365.8L250.9 1365.9L251.3 1369.7L251.8 1368.5L252.2 1368.4L252.7 1375.1L253.2 1371.2L253.6 1373.1L254.1 1374.1L254.5 1373.9L255.0 1374.7L255.4 1376.5L255.9 1377.2L256.4 1375.4L256.8 1378.3L257.3 1383.8L257.7 1385.6L258.2 1385.2L258.6 1387.7L259.1 1387.8L259.6 1387.6L260.0 1390.2L260.5 1396.5L260.9 1394.3L261.4 1391.5L261.9 1395.7L262.3 1396.5L262.8 1400.8L263.2 1404.0L263.7 1401.6L264.1 1402.2L264.6 1400.4L265.1 1404.9L265.5 1402.3L266.0 1403.5L266.4 1409.4L266.9 1404.1L267.4 1405.3L267.8 1405.5L268.3 1407.0L268.7 1407.8L269.2 1410.6L269.6 1409.4L270.1 1409.6L270.6 1405.8L271.0 1408.6L271.5 1405.8L271.9 1410.9L272.4 1409.8L272.9 1412.1L273.3 1409.7L273.8 1410.9L274.2 1411.2L274.7 1412.6L275.1 1411.8L275.6 1410.7L276.1 1411.0L276.5 1410.7L277.0 1410.2L277.4 1409.6L277.9 1409.1L278.4 1416.5L278.8 1413.1L279.3 1411.5L279.7 1415.8L280.2 1415.8L280.6 1415.0L281.1 1417.8L281.6 1420.4L282.0 1415.4L282.5 1419.1L282.9 1418.5L283.4 1419.7L283.8 1416.4L284.3 1420.5L284.8 1420.7L285.2 1412.5L285.7 1418.8L286.1 1421.0L286.6 1415.7L287.1 1418.1L287.5 1417.8L288.0 1418.7L288.4 1416.7L288.9 1419.6L289.3 1420.8L289.8 1419.5L290.3 1419.3L290.7 1415.8L291.2 1420.0L291.6 1417.4L292.1 1419.7L292.6 1418.8L293.0 1426.2L293.5 1422.9L293.9 1425.5L294.4 1423.0L294.8 1422.4L295.3 1424.1L295.8 1423.1L296.2 1428.3L296.7 1424.4L297.1 1427.5L297.6 1422.3L298.1 1421.6L298.5 1425.1L299.0 1421.8L299.4 1428.4L299.9 1427.4L300.3 1426.3L300.8 1429.9L301.3 1426.1L301.7 1424.6L302.2 1420.3L302.6 1420.6L303.1 1424.6L303.6 1421.2L304.0 1426.0L304.5 1427.6L304.9 1426.5L305.4 1421.1L305.8 1420.8L306.3 1419.5L306.8 1422.8L307.2 1423.2L307.7 1421.4L308.1 1420.8L308.6 1420.2L309.0 1423.3L309.5 1425.2L310.0 1427.0L310.4 1429.5L310.9 1430.5L311.3 1431.1L311.8 1430.5L312.3 1432.2L312.7 1432.3L313.2 1430.2L313.6 1434.9L314.1 1435.2L314.5 1432.6L315.0 1432.4L315.5 1431.2L315.9 1429.6L316.4 1430.2L316.8 1429.8L317.3 1431.4L317.8 1434.2L318.2 1434.3L318.7 1431.4L319.1 1433.5L319.6 1433.2L320.0 1432.2L320.5 1437.0L321.0 1433.7L321.4 1437.2L321.9 1432.6L322.3 1435.8L322.8 1434.7L323.3 1438.2L323.7 1438.1L324.2 1435.5L324.6 1438.0L325.0 1440.3L325.5 1441.1L325.9 1441.8L326.4 1438.0L326.8 1442.6L327.3 1438.0L327.7 1437.7L328.1 1434.5L328.6 1436.6L329.0 1434.6L329.5 1437.6L329.9 1434.4L330.4 1441.6L330.8 1441.5L331.2 1443.3L331.7 1443.0L332.1 1440.8L332.6 1440.9L333.0 1440.4L333.5 1435.7L333.9 1436.0L334.4 1437.9L334.8 1441.5L335.2 1437.6L335.7 1439.9L336.1 1439.1L336.6 1441.8L337.0 1442.8L337.5 1439.1L337.9 1437.9L338.3 1443.4L338.8 1444.2L339.2 1442.1L339.7 1443.4L340.1 1442.2L340.6 1442.8L341.0 1441.1L341.4 1442.7L341.9 1445.8L342.3 1446.3L342.8 1446.1L343.2 1443.5L343.7 1444.7L344.1 1442.0L344.6 1441.6L345.0 1442.5L345.4 1440.1L345.9 1442.3L346.3 1438.7L346.8 1445.2L347.2 1445.4L347.7 1444.4L348.1 1441.9L348.5 1441.4L349.0 1441.8L349.4 1439.2L349.9 1441.2L350.3 1440.7L350.8 1444.6L351.2 1446.9L351.6 1447.9L352.1 1442.0L352.5 1440.2L353.0 1445.9L353.4 1446.2L353.9 1447.0L354.3 1446.3L354.8 1445.2L355.2 1449.1L355.6 1447.5L356.1 1446.7L356.5 1442.7L357.0 1444.1L357.4 1447.2L357.9 1446.4L358.3 1447.0L358.7 1444.7L359.2 1446.1L359.6 1443.7L360.1 1443.9L360.5 1446.7L361.0 1449.0L361.4 1445.3L361.8 1444.4L362.3 1444.1L362.7 1444.2L363.2 1444.7L363.6 1446.8L364.1 1446.3L364.5 1445.3L364.9 1446.1L365.4 1441.5L365.8 1443.8L366.3 1449.4L366.7 1444.4L367.2 1444.0L367.6 1445.9L368.1 1448.2L368.5 1446.1L368.9 1443.9L369.4 1449.0L369.8 1442.1L370.3 1443.2L370.7 1444.0L371.2 1440.9L371.6 1448.2L372.0 1451.8L372.5 1445.3L372.9 1445.8L373.4 1446.5L373.8 1448.9L374.3 1447.7L374.7 1449.1L375.1 1449.5L375.6 1448.3L376.0 1448.4L376.5 1451.6L376.9 1449.9L377.4 1450.5L377.8 1449.3L378.3 1450.7L378.7 1453.2L379.1 1450.6L379.6 1448.6L380.0 1447.5L380.5 1451.2L380.9 1448.3L381.4 1450.3L381.8 1455.5L382.2 1452.0L382.7 1454.5L383.1 1451.4L383.6 1450.3L384.0 1451.5L384.5 1448.7L384.9 1444.5L385.3 1448.5L385.8 1448.3L386.2 1450.4L386.7 1455.0L387.1 1453.5L387.6 1448.3L388.0 1451.1L388.4 1447.1L388.9 1445.1L389.3 1454.2L389.8 1450.1L390.2 1446.1L390.7 1449.7L391.1 1450.6L391.6 1452.4L392.0 1451.6L392.4 1451.3L392.9 1453.6L393.3 1451.9L393.8 1450.1L394.2 1452.1L394.7 1450.6L395.1 1453.8L395.6 1452.4L396.0 1451.5L396.5 1450.6L396.9 1452.7L397.4 1454.2L397.8 1451.7L398.3 1446.6L398.7 1451.8L399.2 1449.9L399.6 1452.4L400.1 1450.4L400.5 1452.0L401.0 1451.0L401.4 1449.5L401.9 1447.9L402.3 1450.1L402.8 1451.3L403.2 1447.6L403.7 1444.7L404.1 1449.9L404.6 1455.7L405.0 1450.7L405.5 1450.4L405.9 1448.5L406.4 1447.5L406.8 1453.3L407.3 1448.1L407.7 1450.7L408.2 1449.3L408.6 1451.8L409.1 1454.7L409.5 1452.4L410.0 1450.7L410.4 1453.3L410.9 1450.9L411.3 1446.7L411.8 1452.7L412.2 1450.3L412.7 1451.2L413.1 1456.0L413.6 1454.6L414.0 1452.8L414.5 1455.3L414.9 1450.3L415.4 1447.1L415.8 1447.4L416.3 1450.2L416.7 1451.4L417.2 1449.7L417.7 1455.6L418.1 1454.4L418.6 1452.6L419.0 1450.1L419.5 1450.8L419.9 1451.8L420.4 1450.7L420.8 1457.6L421.3 1457.1L421.7 1454.6L422.2 1452.4L422.6 1447.9L423.1 1452.8L423.5 1450.4L424.0 1453.6L424.5 1453.1L424.9 1449.1L425.4 1451.0L425.8 1451.0L426.3 1450.9L426.7 1451.3L427.2 1451.8L427.6 1451.3L428.1 1453.5L428.5 1453.5L429.0 1452.0L429.4 1451.5L429.9 1451.0L430.3 1450.7L430.8 1451.2L431.3 1452.2L431.7 1451.3L432.2 1447.6L432.6 1450.8L433.1 1449.6L433.5 1451.1L434.0 1457.2L434.4 1455.7L434.9 1447.7L435.3 1446.6L435.8 1452.5L436.2 1450.2L436.7 1447.7L437.1 1446.6L437.6 1449.8L438.1 1449.3L438.5 1450.9L439.0 1450.7L439.4 1451.4L439.9 1450.5L440.3 1449.4L440.8 1452.5L441.2 1455.3L441.7 1450.7L442.1 1450.8L442.6 1455.8L443.0 1450.3L443.5 1448.5L443.9 1451.7L444.4 1453.5L444.9 1451.9L445.3 1454.0L445.8 1451.8L446.2 1451.9L446.7 1451.3L447.1 1452.0L447.6 1451.4L448.0 1454.5L448.5 1453.7L448.9 1455.5L449.4 1452.1L449.8 1449.6L450.3 1449.2L450.7 1449.6L451.2 1451.3L451.7 1450.1L452.1 1451.3L452.6 1452.0L453.0 1448.6L453.5 1447.1L453.9 1452.6L454.4 1450.0L454.8 1454.8L455.3 1451.4L455.7 1447.9L456.2 1447.4L456.6 1448.0L457.1 1455.8L457.5 1448.2L458.0 1444.8L458.5 1447.0L458.9 1449.8L459.4 1455.5L459.8 1454.5L460.3 1449.8L460.7 1454.0L461.2 1454.7L461.6 1450.5L462.1 1452.1L462.5 1452.1L463.0 1450.9L463.4 1449.9L463.9 1449.3L464.3 1451.4L464.8 1449.9L465.3 1452.5L465.7 1452.9L466.2 1447.9L466.6 1450.9L467.1 1450.5L467.5 1452.5L468.0 1450.5L468.4 1453.4L468.9 1453.5L469.3 1453.6L469.8 1453.1L470.2 1448.5L470.7 1450.0L471.1 1453.0L471.6 1453.5L472.1 1453.0L472.5 1451.5L473.0 1450.9L473.4 1447.9L473.9 1446.0L474.3 1449.0L474.8 1452.1L475.2 1450.7L475.7 1449.6L476.1 1450.0L476.6 1453.5L477.0 1450.2L477.5 1450.4L477.9 1451.4L478.4 1453.2L478.8 1452.4L479.3 1450.0L479.8 1449.3L480.2 1447.7L480.7 1449.3L481.1 1452.3L481.6 1451.5L482.0 1449.8L482.5 1447.9L482.9 1448.9L483.4 1451.7L483.8 1452.2L484.3 1451.9L484.7 1452.7L485.2 1453.8L485.6 1451.8L486.1 1452.2L486.6 1446.7L487.0 1450.6L487.5 1449.6L487.9 1450.6L488.4 1448.3L488.8 1449.0L489.3 1447.4L489.7 1449.2L490.2 1447.6L490.6 1451.6L491.1 1449.9L491.5 1450.3L492.0 1448.8L492.4 1449.4L492.9 1448.3L493.4 1447.6L493.8 1450.3L494.3 1448.5L494.7 1447.0L495.2 1448.2L495.6 1454.2L496.1 1453.5L496.5 1451.5L497.0 1450.9L497.4 1450.8L497.9 1451.0L498.3 1455.1L498.8 1454.7L499.2 1451.6L499.7 1446.5L500.2 1446.7L500.6 1449.3L501.1 1448.5L501.5 1450.3L502.0 1449.1L502.4 1450.5L502.9 1450.8L503.3 1448.9L503.8 1446.5L504.2 1447.9L504.7 1447.5L505.1 1446.9L505.6 1448.8L506.0 1451.8L506.5 1449.3L507.0 1448.5L507.4 1446.7L507.9 1449.2L508.3 1449.8L508.8 1449.9L509.2 1452.8L509.7 1450.9L510.1 1452.0L510.6 1449.3L511.0 1450.0L511.5 1447.6L511.9 1450.4L512.4 1452.6L512.8 1448.1L513.3 1447.0L513.8 1449.0L514.2 1449.0L514.7 1450.9L515.1 1443.8L515.6 1446.2L516.0 1449.2L516.5 1449.5L516.9 1446.7L517.4 1449.8L517.8 1449.4L518.3 1449.0L518.7 1448.2L519.2 1448.1L519.6 1449.6L520.1 1445.6L520.6 1440.0L521.0 1446.9L521.5 1442.3L521.9 1446.5L522.4 1447.4L522.8 1448.2L523.3 1445.2L523.7 1447.9L524.2 1446.7L524.6 1445.9L525.1 1446.1L525.5 1444.8L526.0 1449.7L526.4 1446.1L526.9 1446.4L527.4 1445.6L527.8 1446.5L528.3 1446.4L528.7 1445.5L529.2 1445.9L529.6 1446.2L530.1 1446.3L530.5 1448.1L531.0 1446.1L531.4 1445.4L531.9 1446.4L532.3 1445.2L532.8 1446.0L533.2 1446.5L533.7 1440.5L534.2 1443.7L534.6 1443.4L535.1 1440.7L535.5 1440.5L536.0 1440.1L536.4 1445.1L536.9 1446.8L537.3 1444.9L537.8 1443.9L538.2 1441.3L538.7 1447.4L539.1 1447.9L539.6 1445.3L540.0 1442.3L540.5 1442.8L541.0 1441.8L541.4 1440.3L541.9 1440.0L542.3 1440.3L542.8 1441.0L543.2 1443.5L543.7 1441.2L544.1 1443.6L544.6 1443.8L545.0 1445.5L545.5 1446.8L545.9 1449.3L546.4 1447.0L546.8 1443.4L547.3 1442.7L547.8 1449.0L548.2 1442.5L548.7 1443.0L549.1 1445.6L549.6 1443.8L550.0 1444.2L550.5 1447.2L550.9 1446.1L551.4 1444.0L551.8 1444.5L552.3 1444.0L552.7 1444.6L553.2 1444.6L553.6 1442.7L554.1 1442.9L554.6 1443.3L555.0 1442.5L555.5 1441.5L555.9 1444.4L556.4 1438.4L556.8 1440.8L557.3 1444.3L557.7 1443.8L558.2 1440.4L558.6 1439.8L559.1 1445.9L559.5 1445.0L560.0 1443.1L560.4 1442.8L560.9 1441.9L561.4 1442.9L561.8 1440.5L562.3 1441.9L562.7 1441.8L563.2 1442.3L563.6 1443.9L564.1 1438.5L564.5 1440.4L565.0 1441.6L565.4 1441.9L565.9 1441.4L566.3 1442.1L566.8 1443.8L567.2 1440.9L567.7 1441.4L568.2 1442.7L568.6 1441.0L569.1 1443.0L569.5 1439.9L570.0 1442.9L570.4 1441.7L570.9 1443.8L571.3 1444.3L571.8 1439.4L572.2 1441.9L572.7 1441.6L573.1 1440.6L573.6 1439.2L574.0 1440.4L574.5 1439.3L575.0 1439.5L575.4 1439.5L575.9 1439.6L576.3 1438.8L576.8 1436.1L577.2 1438.6L577.7 1431.8L578.1 1437.3L578.6 1438.1L579.0 1438.3L579.5 1437.4L579.9 1438.8L580.4 1439.6L580.8 1437.6L581.3 1436.7L581.8 1435.6L582.2 1434.7L582.7 1437.9L583.1 1437.7L583.6 1440.7L584.0 1435.3L584.5 1434.5L584.9 1436.9L585.4 1436.2L585.8 1437.7L586.3 1435.5L586.7 1439.3L587.2 1437.1L587.6 1437.7L588.1 1439.5L588.6 1435.0L589.0 1435.3L589.5 1434.0L589.9 1437.5L590.4 1432.9L590.8 1434.2L591.3 1434.2L591.7 1437.4L592.2 1439.9L592.6 1437.2L593.1 1440.2L593.5 1438.6L594.0 1433.7L594.4 1434.6L594.9 1433.0L595.4 1436.3L595.8 1436.5L596.3 1436.2L596.7 1433.6L597.2 1434.1L597.6 1432.1L598.1 1433.9L598.5 1437.5L599.0 1435.0L599.4 1437.7L599.9 1435.7L600.3 1434.1L600.8 1435.4L601.2 1431.5L601.7 1436.7L602.2 1435.3L602.6 1432.0L603.1 1434.8L603.5 1432.1L604.0 1435.2L604.4 1436.9L604.9 1436.8L605.3 1432.2L605.8 1432.6L606.2 1435.8L606.7 1435.5L607.1 1435.4L607.6 1439.3L608.0 1437.7L608.5 1434.5L609.0 1431.5L609.4 1431.7L609.9 1430.1L610.3 1431.1L610.8 1433.2L611.2 1430.9L611.7 1433.0L612.1 1432.4L612.6 1434.4L613.0 1431.3L613.5 1431.4L613.9 1433.2L614.4 1434.7L614.8 1434.2L615.3 1427.7L615.8 1431.4L616.2 1429.1L616.7 1432.0L617.1 1431.1L617.6 1430.9L618.0 1431.7L618.5 1434.2L618.9 1433.7L619.4 1434.9L619.8 1434.0L620.3 1432.9L620.7 1436.1L621.2 1438.6L621.6 1433.6L622.1 1433.9L622.6 1430.7L623.0 1432.9L623.5 1431.7L623.9 1435.9L624.4 1435.2L624.8 1434.6L625.3 1436.2L625.7 1435.1L626.2 1428.1L626.6 1435.2L627.1 1437.5L627.5 1434.9L628.0 1436.4L628.4 1435.3L628.9 1430.8L629.4 1429.2L629.8 1435.1L630.3 1435.6L630.7 1437.4L631.2 1438.4L631.6 1434.3L632.1 1434.9L632.5 1434.9L633.0 1435.1L633.4 1434.6L633.9 1432.3L634.3 1433.3L634.8 1429.0L635.2 1432.5L635.7 1431.6L636.2 1430.7L636.6 1432.7L637.1 1433.3L637.5 1433.3L638.0 1431.1L638.4 1430.7L638.9 1431.3L639.3 1431.7L639.8 1431.2L640.2 1429.6L640.7 1431.7L641.1 1430.5L641.6 1431.4L642.0 1429.6L642.5 1426.3L643.0 1430.4L643.4 1432.2L643.9 1431.6L644.3 1433.6L644.8 1432.6L645.2 1431.5L645.7 1434.1L646.1 1433.0L646.6 1430.4L647.0 1431.3L647.5 1430.3L647.9 1428.8L648.4 1431.7L648.8 1430.8L649.3 1429.6L649.7 1430.1L650.2 1434.6L650.7 1434.8L651.1 1434.2L651.6 1429.0L652.0 1426.5L652.5 1428.8L652.9 1429.7L653.4 1431.0L653.8 1430.3L654.3 1431.3L654.7 1427.9L655.2 1430.3L655.6 1429.2L656.1 1431.0L656.5 1430.7L657.0 1425.7L657.5 1427.7L657.9 1431.0L658.4 1431.5L658.8 1431.1L659.3 1428.1L659.7 1427.1L660.2 1429.3L660.6 1425.8L661.1 1428.8L661.5 1427.6L662.0 1429.7L662.4 1431.1L662.9 1428.4L663.3 1426.0L663.8 1425.5L664.3 1427.0L664.7 1421.0L665.2 1426.4L665.6 1426.3L666.1 1428.4L666.5 1431.2L667.0 1423.0L667.4 1422.5L667.9 1424.8L668.3 1422.3L668.8 1424.7L669.2 1429.5L669.7 1424.3L670.1 1423.1L670.6 1423.8L671.1 1426.9L671.5 1423.3L672.0 1425.6L672.4 1425.3L672.9 1424.8L673.3 1421.1L673.8 1423.6L674.2 1424.7L674.7 1421.8L675.1 1428.6L675.6 1425.9L676.0 1422.9L676.5 1424.5L676.9 1423.6L677.4 1423.8L677.9 1421.3L678.3 1424.9L678.8 1424.0L679.2 1422.7L679.7 1425.0L680.1 1421.8L680.6 1423.9L681.0 1424.4L681.5 1425.8L681.9 1426.9L682.4 1425.3L682.8 1424.7L683.3 1421.9L683.7 1417.3L684.2 1422.9L684.7 1424.4L685.1 1420.4L685.6 1417.0L686.0 1418.2L686.5 1418.2L686.9 1421.5L687.4 1423.5L687.8 1421.2L688.3 1418.9L688.7 1422.5L689.2 1421.5L689.6 1418.8L690.1 1419.8L690.5 1422.5L691.0 1422.8L691.4 1419.1L691.9 1419.8L692.3 1421.5L692.8 1424.5L693.2 1424.3L693.7 1426.7L694.1 1421.5L694.6 1422.3L695.0 1420.4L695.5 1425.0L695.9 1420.3L696.4 1421.2L696.8 1424.9L697.3 1422.6L697.7 1424.0L698.2 1421.8L698.6 1422.8L699.0 1428.6L699.5 1422.9L699.9 1423.1L700.4 1424.5L700.8 1425.2L701.3 1428.5L701.7 1423.1L702.2 1426.8L702.6 1426.5L703.1 1424.4L703.5 1424.4L704.0 1423.1L704.4 1426.6L704.9 1425.3L705.3 1423.4L705.8 1424.7L706.2 1419.8L706.7 1421.9L707.1 1420.0L707.6 1422.9L708.0 1422.7L708.5 1421.6L708.9 1421.5L709.4 1421.9L709.8 1422.3L710.3 1423.1L710.7 1424.2L711.2 1426.7L711.6 1425.5L712.1 1422.9L712.6 1422.0L713.0 1421.5L713.5 1423.4L713.9 1420.5L714.4 1422.5L714.8 1418.8L715.3 1416.7L715.7 1417.6L716.2 1420.8L716.6 1420.3L717.1 1417.1L717.5 1412.9L718.0 1418.3L718.4 1421.1L718.9 1418.7L719.3 1416.8L719.8 1418.9L720.2 1419.0L720.7 1420.0L721.1 1423.4L721.6 1421.3L722.0 1417.8L722.5 1421.2L722.9 1417.5L723.4 1422.0L723.8 1421.6L724.3 1422.6L724.7 1422.5L725.2 1421.8L725.6 1420.0L726.1 1422.0L726.5 1421.4L727.0 1415.7L727.4 1420.8L727.9 1418.3L728.3 1421.8L728.8 1422.7L729.2 1417.2L729.7 1417.1L730.1 1419.8L730.6 1418.6L731.0 1415.0L731.5 1411.6L731.9 1417.1L732.4 1416.1L732.8 1418.8L733.3 1414.2L733.8 1417.1L734.2 1415.7L734.7 1410.6L735.1 1414.3L735.6 1412.1L736.0 1410.9L736.5 1411.8L736.9 1413.6L737.4 1409.2L737.8 1413.1L738.3 1413.8L738.7 1416.8L739.2 1414.0L739.6 1415.3L740.1 1415.2L740.5 1415.2L740.9 1415.7L741.4 1416.6L741.8 1417.5L742.2 1416.6L742.7 1416.9L743.1 1417.3L743.5 1416.2L744.0 1415.1L744.4 1417.6L744.8 1415.7L745.3 1415.3L745.8 1409.6L746.3 1414.0L746.8 1411.5L747.3 1408.4L747.7 1406.5L748.2 1405.5L748.6 1404.4L749.1 1408.8L749.5 1406.1L750.0 1402.4L750.4 1402.1L750.9 1404.3L751.3 1407.6L751.8 1406.6L752.2 1403.8L752.7 1402.6L753.1 1404.7L753.6 1405.5L754.0 1404.6L754.5 1403.0L754.9 1400.4L755.4 1399.7L755.8 1401.1L756.2 1399.0L756.7 1399.4L757.1 1398.2L757.5 1398.2L758.0 1401.2L758.4 1400.5L758.8 1399.5L759.3 1396.8L759.8 1394.7L760.2 1397.5L760.7 1394.8L761.2 1393.7L761.7 1385.6L762.2 1390.8L762.6 1390.0L763.1 1383.2L763.6 1381.0L764.1 1380.8L764.6 1380.2L765.1 1376.8L765.5 1375.3L766.0 1373.1L766.5 1370.8L767.0 1373.2L767.5 1371.7L767.9 1368.7L768.4 1366.5L768.8 1365.3L769.3 1366.1L769.7 1364.4L770.2 1366.8L770.6 1364.8L771.0 1366.2L771.5 1361.5L771.9 1363.5L772.4 1363.2L772.8 1363.0L773.3 1361.9L773.7 1361.6L774.1 1362.1L774.6 1362.9L775.0 1364.0L775.4 1361.4L775.9 1365.0L776.3 1366.7L776.7 1364.7L777.2 1365.4L777.6 1373.2L778.0 1372.1L778.5 1370.6L778.9 1370.2L779.3 1367.9L779.8 1365.4L780.2 1368.3L780.6 1369.1L781.1 1369.9L781.5 1372.1L781.9 1371.9L782.4 1369.3L782.8 1372.0L783.3 1375.1L783.7 1373.0L784.1 1374.1L784.6 1372.9L785.0 1373.4L785.5 1371.7L785.9 1371.0L786.4 1368.1L786.8 1370.7L787.3 1368.9L787.7 1368.7L788.1 1368.9L788.6 1369.8L789.1 1370.7L789.6 1372.3L790.1 1372.2L790.5 1372.7L791.0 1374.1L791.5 1375.2L792.0 1376.6L792.5 1376.6L793.0 1380.2L793.4 1382.9L793.9 1383.2L794.4 1386.5L794.8 1382.9L795.2 1381.6L795.7 1380.0L796.1 1382.6L796.6 1383.3L797.0 1383.4L797.5 1383.5L797.9 1385.2L798.4 1384.3L798.8 1384.2L799.2 1388.0L799.7 1383.8L800.2 1389.7L800.7 1391.8L801.1 1397.3L801.6 1399.4L802.1 1395.9L802.6 1399.4L803.1 1397.4L803.5 1400.8L804.0 1400.7L804.5 1400.5L805.0 1404.7L805.5 1408.7L805.9 1407.4L806.4 1403.5L806.9 1402.3L807.4 1402.5L807.9 1401.2L808.4 1400.6L808.8 1401.4L809.2 1402.8L809.7 1403.5L810.1 1403.8L810.6 1407.1L811.0 1405.6L811.5 1403.1L811.9 1405.5L812.3 1408.1L812.8 1404.3L813.2 1406.2L813.7 1410.1L814.1 1408.4L814.6 1410.9L815.1 1412.4L815.6 1413.0L816.0 1411.3L816.5 1411.3L817.0 1412.2L817.5 1414.5L817.9 1412.0L818.4 1408.9L818.8 1414.6L819.3 1411.3L819.8 1413.9L820.2 1412.0L820.7 1411.9L821.1 1417.6L821.6 1418.6L822.1 1415.2L822.5 1414.6L823.0 1415.3L823.4 1414.2L823.9 1413.9L824.4 1415.2L824.8 1413.8L825.3 1414.3L825.7 1415.7L826.2 1415.4L826.7 1413.8L827.1 1415.7L827.6 1417.0L828.0 1416.2L828.5 1416.0L828.9 1417.2L829.4 1414.6L829.8 1414.9L830.3 1416.3L830.7 1415.4L831.2 1414.6L831.6 1412.7L832.1 1414.2L832.5 1412.9L833.0 1413.9L833.4 1415.3L833.9 1414.8L834.3 1415.0L834.8 1413.8L835.2 1415.6L835.6 1415.5L836.1 1414.9L836.5 1417.4L836.9 1415.9L837.4 1416.6L837.8 1418.1L838.2 1418.8L838.7 1417.6L839.1 1415.4L839.5 1416.4L840.0 1413.7L840.4 1419.2L840.8 1414.7L841.3 1416.2L841.7 1417.7L842.1 1417.2L842.6 1421.0L843.0 1422.6L843.5 1423.3L844.0 1426.3L844.4 1427.4L844.9 1426.6L845.4 1428.4L845.9 1427.9L846.3 1431.2L846.8 1428.9L847.2 1427.2L847.7 1428.4L848.1 1429.8L848.5 1427.1L849.0 1430.0L849.4 1427.8L849.9 1429.2L850.3 1427.1L850.8 1429.2L851.2 1432.9L851.6 1430.8L852.1 1432.7L852.5 1431.5L853.0 1434.0L853.4 1436.9L853.9 1432.8L854.3 1434.3L854.8 1435.0L855.2 1435.0L855.6 1433.0L856.1 1431.7L856.5 1432.0L857.0 1432.9L857.4 1431.2L857.9 1432.5L858.3 1429.3L858.8 1429.3L859.2 1428.6L859.6 1431.5L860.1 1434.2L860.5 1431.2L861.0 1433.6L861.4 1433.5L861.9 1426.8L862.3 1430.0L862.8 1431.2L863.2 1431.8L863.7 1433.6L864.1 1429.8L864.6 1431.4L865.0 1425.4L865.5 1429.4L865.9 1426.1L866.4 1430.5L866.8 1429.7L867.3 1427.2L867.8 1427.2L868.2 1430.1L868.7 1431.4L869.1 1429.4L869.6 1427.2L870.0 1428.2L870.5 1421.4L870.9 1424.8L871.4 1430.7L871.9 1425.0L872.3 1422.9L872.7 1420.8L873.2 1422.1L873.6 1420.8L874.1 1420.5L874.5 1421.2L875.0 1418.0L875.4 1417.5L875.9 1418.8L876.3 1418.5L876.7 1419.6L877.2 1417.8L877.6 1415.0L878.1 1414.6L878.5 1410.0L879.0 1408.3L879.4 1410.3L879.8 1414.4L880.3 1411.1L880.7 1411.9L881.2 1409.2L881.6 1412.0L882.1 1412.4L882.5 1409.2L883.0 1409.8L883.4 1409.8L883.9 1409.2L884.4 1411.5L884.8 1402.6L885.3 1401.8L885.8 1401.4L886.3 1395.5L886.7 1396.8L887.2 1397.3L887.6 1392.8L888.0 1394.0L888.5 1392.8L888.9 1391.5L889.3 1392.5L889.8 1392.4L890.2 1391.7L890.6 1388.8L891.1 1389.6L891.5 1385.0L891.9 1381.0L892.4 1381.5L892.8 1378.4L893.2 1374.3L893.6 1372.0L894.1 1369.3L894.5 1370.0L894.9 1363.5L895.3 1362.9L895.7 1365.8L896.2 1362.9L896.7 1355.8L897.1 1353.3L897.6 1350.2L898.1 1347.1L898.6 1342.5L899.0 1339.7L899.5 1336.7L900.0 1338.3L900.5 1336.2L901.0 1334.6L901.4 1333.4L901.9 1323.7L902.3 1323.8L902.7 1320.9L903.1 1321.6L903.6 1319.9L904.0 1313.7L904.4 1312.0L904.9 1312.1L905.3 1310.9L905.7 1312.9L906.1 1300.5L906.6 1295.2L907.0 1289.4L907.4 1286.8L907.9 1278.3L908.3 1277.7L908.8 1271.2L909.2 1271.2L909.6 1266.1L910.1 1262.6L910.5 1259.7L911.0 1257.4L911.4 1254.3L911.9 1248.9L912.4 1251.2L912.9 1246.6L913.3 1243.4L913.8 1237.0L914.3 1234.2L914.7 1230.7L915.2 1227.4L915.6 1224.5L916.1 1220.9L916.5 1217.6L917.0 1209.5L917.4 1206.7L917.9 1201.6L918.3 1204.2L918.8 1198.8L919.2 1191.6L919.6 1194.9L920.1 1190.5L920.5 1189.8L921.0 1187.6L921.4 1184.4L921.9 1183.1L922.4 1180.8L922.9 1181.3L923.3 1177.8L923.8 1176.7L924.3 1174.3L924.8 1175.6L925.2 1176.5L925.7 1179.1L926.2 1183.5L926.7 1184.4L927.1 1182.7L927.6 1184.0L928.1 1181.9L928.6 1178.7L929.0 1177.7L929.5 1177.0L930.0 1175.7L930.5 1178.4L931.0 1180.8L931.4 1183.5L931.9 1189.4L932.4 1188.9L932.9 1193.6L933.3 1195.0L933.8 1197.0L934.3 1205.6L934.8 1208.8L935.2 1211.9L935.7 1217.0L936.2 1218.9L936.7 1224.5L937.1 1223.3L937.6 1226.7L938.1 1226.7L938.6 1227.4L939.0 1232.3L939.5 1238.5L940.0 1235.8L940.5 1239.5L941.0 1243.7L941.4 1247.0L941.9 1255.3L942.4 1265.9L942.9 1272.3L943.3 1277.8L943.8 1277.9L944.3 1282.1L944.8 1284.5L945.2 1287.8L945.7 1288.0L946.2 1293.1L946.7 1298.7L947.1 1307.1L947.6 1300.2L948.0 1295.1L948.4 1285.5L948.9 1279.7L949.3 1274.0L949.6 1257.2L950.0 1240.0L950.4 1243.7L950.9 1246.5L951.3 1251.1L951.7 1254.5L952.1 1258.5L952.6 1272.1L953.1 1284.1L953.6 1299.3L953.9 1315.9L954.3 1330.0L954.8 1342.4L955.2 1355.5L955.7 1364.5L956.2 1369.4L956.7 1372.9L957.1 1376.2L957.6 1372.7L958.1 1377.6L958.6 1381.2L959.0 1384.1L959.4 1385.8L959.9 1390.3L960.3 1390.3L960.7 1393.3L961.1 1393.7L961.6 1393.7L962.0 1397.2L962.4 1404.7L962.9 1399.8L963.3 1406.1L963.8 1409.5L964.3 1413.2L964.8 1414.3L965.2 1415.8L965.7 1414.9L966.1 1413.1L966.6 1415.0L967.0 1414.2L967.4 1415.4L967.9 1416.3L968.3 1418.5L968.7 1418.5L969.1 1418.3L969.6 1419.9L970.0 1420.6L970.4 1420.6L970.9 1421.7L971.3 1424.8L971.7 1427.3L972.1 1427.8L972.6 1424.0L973.0 1428.1L973.4 1425.6L973.9 1431.0L974.3 1429.7L974.7 1430.4L975.2 1430.8L975.6 1435.7L976.1 1434.5L976.5 1430.4L977.0 1432.9L977.4 1433.7L977.9 1432.2L978.3 1433.6L978.8 1433.0L979.2 1437.8L979.7 1435.3L980.2 1436.3L980.6 1436.6L981.1 1435.0L981.5 1434.5L982.0 1437.0L982.4 1434.0L982.9 1437.6L983.3 1437.1L983.8 1441.7L984.2 1441.2L984.7 1438.4L985.1 1437.8L985.6 1438.7L986.0 1440.6L986.5 1438.8L986.9 1438.7L987.4 1439.9L987.8 1443.5L988.3 1441.0L988.7 1439.9L989.2 1439.1L989.6 1445.1L990.1 1441.2L990.5 1440.6L991.0 1442.9L991.4 1443.3L991.9 1445.5L992.3 1444.4L992.8 1442.9L993.2 1445.3L993.7 1450.4L994.1 1448.8L994.6 1447.8L995.0 1448.2L995.4 1449.0L995.9 1453.0L996.3 1448.9L996.8 1448.3L997.2 1454.0L997.7 1449.3L998.1 1451.1L998.6 1449.0L999.0 1453.5L999.5 1452.3L999.9 1451.6L1000.3 1452.0L1000.8 1453.6L1001.2 1451.9L1001.7 1455.3L1002.1 1457.8L1002.6 1455.9L1003.0 1456.8L1003.4 1456.6L1003.9 1454.1L1004.3 1459.3L1004.8 1455.4L1005.2 1455.6L1005.7 1454.9L1006.1 1456.0L1006.5 1456.7L1007.0 1459.6L1007.4 1457.1L1007.9 1455.8L1008.3 1459.2L1008.8 1459.0L1009.2 1454.3L1009.7 1455.6L1010.1 1453.5L1010.5 1456.8L1011.0 1457.7L1011.4 1459.3L1011.9 1459.9L1012.3 1459.2L1012.8 1460.9L1013.2 1458.9L1013.7 1456.9L1014.1 1454.0L1014.6 1458.2L1015.0 1459.7L1015.5 1460.4L1015.9 1459.2L1016.4 1458.1L1016.8 1457.8L1017.3 1458.6L1017.7 1458.2L1018.1 1458.5L1018.6 1458.3L1019.0 1459.0L1019.5 1456.2L1019.9 1456.4L1020.4 1458.3L1020.8 1460.8L1021.3 1457.8L1021.7 1459.1L1022.2 1459.9L1022.6 1460.8L1023.1 1456.7L1023.5 1462.9L1024.0 1459.9L1024.4 1462.1L1024.8 1462.4L1025.3 1463.5L1025.7 1461.7L1026.2 1456.1L1026.6 1459.7L1027.1 1461.5L1027.5 1461.0L1028.0 1461.6L1028.4 1460.0L1028.9 1458.3L1029.3 1461.2L1029.8 1460.7L1030.2 1460.2L1030.7 1461.8L1031.1 1460.5L1031.5 1461.3L1032.0 1459.6L1032.4 1462.3L1032.9 1463.5L1033.3 1462.3L1033.8 1461.7L1034.2 1462.3L1034.7 1460.9L1035.1 1462.7L1035.6 1463.8L1036.0 1460.4L1036.5 1462.5L1036.9 1461.3L1037.4 1463.9L1037.8 1462.7L1038.2 1460.4L1038.7 1460.7L1039.1 1461.6L1039.6 1462.0L1040.0 1460.0L1040.5 1458.4L1040.9 1463.9L1041.4 1463.5L1041.8 1463.8L1042.3 1461.4L1042.7 1466.7L1043.2 1462.6L1043.6 1463.1L1044.1 1461.2L1044.5 1463.8L1044.9 1463.5L1045.4 1466.4L1045.8 1466.4L1046.3 1461.5L1046.7 1461.7L1047.2 1461.6L1047.6 1462.3L1048.1 1463.6L1048.5 1459.7L1049.0 1463.1L1049.4 1463.5L1049.9 1465.9L1050.3 1459.6L1050.8 1464.2L1051.2 1461.2L1051.6 1457.5L1052.1 1463.9L1052.5 1461.2L1053.0 1463.5L1053.4 1466.4L1053.9 1466.2L1054.3 1460.1L1054.8 1464.1L1055.2 1464.1L1055.7 1461.6L1056.1 1460.0L1056.6 1461.1L1057.0 1463.6L1057.5 1465.0L1057.9 1462.3L1058.4 1466.3L1058.8 1463.4L1059.2 1464.3L1059.7 1467.8L1060.1 1461.6L1060.6 1463.3L1061.0 1462.1L1061.5 1462.8L1061.9 1463.9L1062.4 1461.6L1062.8 1466.6L1063.3 1464.4L1063.7 1461.8L1064.2 1465.8L1064.6 1460.6L1065.1 1463.3L1065.5 1463.8L1065.9 1467.0L1066.4 1463.5L1066.8 1464.9L1067.3 1463.7L1067.7 1464.9L1068.2 1460.7L1068.6 1459.7L1069.1 1462.1L1069.5 1464.7L1070.0 1464.6L1070.4 1460.5L1070.9 1461.2L1071.3 1463.9L1071.8 1465.1L1072.2 1464.4L1072.6 1462.4L1073.1 1465.5L1073.5 1461.2L1074.0 1463.7L1074.4 1466.3L1074.9 1466.1L1075.3 1465.6L1075.8 1464.9L1076.2 1467.8L1076.7 1468.9L1077.1 1466.0L1077.6 1467.0L1078.0 1468.7L1078.5 1462.2L1078.9 1461.7L1079.3 1467.8L1079.8 1465.3L1080.2 1462.2L1080.7 1461.2L1081.1 1462.1L1081.6 1465.0L1082.0 1461.2L1082.5 1463.5L1082.9 1463.2L1083.4 1466.7L1083.8 1465.2L1084.3 1465.3L1084.7 1464.6L1085.2 1463.9L1085.6 1464.8L1086.0 1464.2L1086.5 1464.9L1086.9 1464.9L1087.4 1466.0L1087.8 1466.3L1088.3 1465.0L1088.7 1462.9L1089.2 1465.8L1089.6 1468.9L1090.1 1467.3L1090.5 1467.7L1091.0 1464.8L1091.4 1463.8L1091.9 1462.5L1092.3 1463.1L1092.7 1465.6L1093.2 1464.8L1093.6 1463.3L1094.1 1465.8L1094.5 1467.5L1095.0 1465.3L1095.4 1466.9L1095.9 1466.1L1096.3 1468.4L1096.8 1470.0L1097.2 1469.1L1097.7 1463.6L1098.1 1464.2L1098.6 1467.0L1099.0 1465.2L1099.5 1469.3L1099.9 1462.8L1100.3 1467.9L1100.8 1468.2L1101.2 1467.7L1101.7 1467.1L1102.1 1463.8L1102.6 1464.9L1103.0 1465.7L1103.5 1462.6L1103.9 1464.3L1104.4 1463.5L1104.8 1465.8L1105.3 1460.5L1105.7 1464.0L1106.2 1469.7L1106.6 1471.0L1107.0 1468.9L1107.5 1471.6L1107.9 1466.2L1108.4 1467.7L1108.8 1469.1L1109.3 1465.9L1109.7 1468.6L1110.2 1468.8L1110.6 1467.0L1111.1 1466.8L1111.5 1465.5L1112.0 1467.2L1112.4 1468.2L1112.9 1463.9L1113.3 1467.5L1113.7 1466.3L1114.2 1468.4L1114.6 1465.4L1115.1 1466.6L1115.5 1466.3L1116.0 1468.4L1116.4 1462.9L1116.9 1465.8L1117.3 1465.6L1117.8 1466.0L1118.2 1463.3L1118.7 1464.7L1119.1 1465.8L1119.6 1463.4L1120.0 1463.4L1120.4 1463.5L1120.9 1463.9L1121.3 1468.0L1121.8 1465.6L1122.2 1466.7L1122.7 1465.9L1123.1 1465.3L1123.6 1465.5L1124.0 1461.8L1124.5 1462.9L1124.9 1462.5L1125.4 1465.2L1125.8 1461.1L1126.3 1466.7L1126.7 1464.0L1127.1 1466.6L1127.6 1464.1L1128.0 1462.4L1128.5 1465.4L1128.9 1463.3L1129.4 1463.7L1129.8 1462.9L1130.3 1462.7L1130.7 1466.9L1131.2 1468.4L1131.6 1464.0L1132.1 1466.8L1132.5 1465.6L1133.0 1463.7L1133.4 1464.7L1133.8 1461.3L1134.3 1461.1L1134.7 1461.2L1135.2 1463.2L1135.6 1462.4L1136.1 1462.7L1136.5 1462.8L1137.0 1466.7L1137.4 1465.3L1137.9 1462.5L1138.3 1463.3L1138.8 1461.6L1139.2 1463.0L1139.7 1465.3L1140.1 1460.0L1140.5 1464.5L1141.0 1461.7L1141.4 1463.0L1141.9 1464.7L1142.3 1464.0L1142.8 1466.5L1143.2 1465.5L1143.7 1466.1L1144.1 1463.2L1144.6 1464.4L1145.0 1461.3L1145.5 1459.5L1145.9 1462.7L1146.4 1461.9L1146.8 1463.7L1147.3 1462.9L1147.7 1462.7L1148.1 1459.2L1148.6 1462.2L1149.0 1465.6L1149.5 1464.6L1149.9 1463.2L1150.4 1464.5L1150.8 1464.7L1151.3 1462.3L1151.7 1461.2L1152.2 1460.7L1152.6 1460.5L1153.1 1460.1L1153.5 1462.1L1154.0 1462.8L1154.4 1463.6L1154.8 1461.9L1155.3 1460.5L1155.7 1460.0L1156.2 1462.6L1156.6 1461.4L1157.1 1462.9L1157.5 1457.7L1158.0 1462.5L1158.4 1460.8L1158.9 1459.0L1159.3 1459.2L1159.8 1461.3L1160.2 1461.8L1160.7 1465.2L1161.1 1465.0L1161.5 1461.5L1162.0 1460.2L1162.4 1460.3L1162.9 1463.3L1163.3 1460.9L1163.8 1456.7L1164.2 1460.5L1164.7 1462.1L1165.1 1462.9L1165.6 1461.2L1166.0 1462.9L1166.5 1462.8L1166.9 1459.2L1167.4 1461.6L1167.8 1460.2L1168.2 1461.7L1168.7 1460.5L1169.1 1455.4L1169.6 1457.6L1170.0 1459.5L1170.5 1457.8L1170.9 1456.1L1171.4 1461.3L1171.8 1459.9L1172.3 1460.1L1172.7 1457.1L1173.2 1461.6L1173.6 1460.6L1174.1 1462.0L1174.5 1461.5L1174.9 1458.8L1175.4 1460.1L1175.8 1458.3L1176.3 1455.8L1176.7 1456.8L1177.2 1463.5L1177.6 1458.8L1178.1 1459.5L1178.5 1458.1L1179.0 1456.1L1179.4 1456.9L1179.9 1458.7L1180.3 1458.6L1180.8 1463.2L1181.2 1458.5L1181.6 1455.7L1182.1 1458.8L1182.5 1456.0L1183.0 1458.2L1183.4 1459.8L1183.9 1453.9L1184.3 1456.3L1184.8 1455.5L1185.2 1457.5L1185.7 1458.4L1186.1 1456.8L1186.6 1457.3L1187.0 1460.2L1187.5 1459.7L1187.9 1460.4L1188.4 1457.8L1188.8 1457.7L1189.2 1456.9L1189.7 1459.4L1190.1 1456.3L1190.6 1456.5L1191.0 1455.0L1191.5 1453.4L1191.9 1455.5L1192.4 1458.8L1192.8 1460.1L1193.3 1457.6L1193.7 1460.5L1194.2 1458.7L1194.6 1457.1L1195.1 1457.1L1195.5 1456.9L1195.9 1457.0L1196.4 1459.1L1196.8 1455.2L1197.3 1455.0L1197.7 1455.1L1198.2 1458.0L1198.6 1457.7L1199.1 1453.8L1199.5 1455.3L1200.0 1454.2L1200.4 1453.6L1200.9 1459.3L1201.3 1457.5L1201.8 1455.7L1202.2 1458.4L1202.6 1455.7L1203.1 1458.1L1203.5 1455.4L1204.0 1457.3L1204.4 1452.8L1204.9 1453.8L1205.3 1454.4L1205.8 1455.9L1206.2 1453.7L1206.7 1455.6L1207.1 1456.3L1207.6 1456.0L1208.0 1455.2L1208.5 1456.4L1208.9 1455.2L1209.3 1456.3L1209.8 1453.4L1210.2 1457.1L1210.7 1455.6L1211.1 1452.4L1211.6 1452.6L1212.0 1454.0L1212.5 1456.4L1212.9 1454.8L1213.4 1451.5L1213.8 1451.4L1214.3 1453.2L1214.7 1452.7L1215.2 1454.0L1215.6 1457.1L1216.0 1454.9L1216.5 1454.0L1216.9 1453.9L1217.4 1452.0L1217.8 1453.7L1218.3 1454.0L1218.7 1453.7L1219.2 1454.7L1219.6 1456.1L1220.1 1459.3L1220.5 1458.2L1221.0 1455.3L1221.4 1450.2L1221.9 1450.5L1222.3 1453.4L1222.7 1450.8L1223.2 1453.2L1223.6 1451.5L1224.1 1447.0L1224.5 1452.0L1225.0 1449.9L1225.4 1449.9L1225.9 1448.0L1226.3 1451.1L1226.8 1450.9L1227.2 1449.0L1227.7 1450.9L1228.1 1447.4L1228.6 1449.0L1229.0 1448.3L1229.5 1445.6L1229.9 1446.8L1230.3 1443.4L1230.8 1442.2L1231.2 1441.6L1231.7 1441.4L1232.1 1444.6L1232.6 1441.6L1233.0 1446.3L1233.5 1441.7L1233.9 1440.8L1234.4 1444.9L1234.8 1443.0L1235.3 1440.2L1235.7 1437.4L1236.2 1438.5L1236.6 1441.6L1237.0 1439.3L1237.5 1440.5L1237.9 1442.3L1238.4 1441.5L1238.8 1438.1L1239.3 1439.4L1239.7 1436.7L1240.2 1436.0L1240.6 1434.4L1241.1 1434.2L1241.5 1430.8L1242.0 1435.1L1242.4 1432.0L1242.9 1427.9L1243.3 1428.0L1243.7 1427.9L1244.2 1425.0L1244.6 1425.2L1245.1 1421.5L1245.5 1421.3L1246.0 1422.9L1246.4 1421.5L1246.9 1419.3L1247.3 1417.2L1247.8 1418.8L1248.2 1419.6L1248.7 1420.2L1249.1 1420.2L1249.5 1416.7L1250.0 1414.1L1250.4 1414.8L1250.9 1411.1L1251.3 1408.0L1251.8 1406.2L1252.2 1406.0L1252.6 1405.6L1253.1 1402.3L1253.5 1399.8L1253.9 1398.9L1254.4 1398.3L1254.8 1393.5L1255.2 1390.9L1255.7 1393.7L1256.1 1387.9L1256.6 1384.9L1257.0 1382.1L1257.4 1375.2L1257.9 1373.9L1258.3 1369.8L1258.7 1363.3L1259.2 1364.0L1259.6 1365.4L1260.0 1363.7L1260.5 1360.2L1260.9 1357.9L1261.3 1354.6L1261.8 1352.0L1262.2 1350.6L1262.6 1345.5L1263.1 1340.8L1263.5 1340.4L1264.0 1332.5L1264.4 1332.2L1264.8 1326.4L1265.3 1322.4L1265.7 1319.1L1266.1 1316.3L1266.6 1313.4L1267.0 1310.4L1267.4 1310.0L1267.9 1309.1L1268.3 1306.9L1268.7 1301.6L1269.2 1297.1L1269.6 1296.9L1270.0 1294.9L1270.5 1291.1L1271.0 1285.6L1271.5 1281.6L1272.0 1277.9L1272.4 1273.5L1272.9 1275.5L1273.3 1277.2L1273.7 1277.4L1274.2 1279.1L1274.6 1279.9L1275.1 1280.4L1275.5 1283.8L1276.0 1277.6L1276.5 1279.3L1276.9 1281.7L1277.4 1278.6L1277.8 1278.1L1278.3 1273.8L1278.8 1273.4L1279.2 1275.1L1279.6 1273.9L1280.1 1275.3L1280.5 1274.5L1280.9 1276.1L1281.4 1276.7L1281.8 1277.0L1282.2 1275.2L1282.7 1278.2L1283.1 1285.2L1283.5 1278.9L1284.0 1283.9L1284.4 1281.8L1284.8 1288.3L1285.3 1288.0L1285.7 1291.5L1286.2 1294.3L1286.6 1299.8L1287.0 1301.4L1287.5 1300.4L1287.9 1303.9L1288.3 1305.8L1288.8 1308.6L1289.2 1305.3L1289.6 1309.7L1290.1 1312.0L1290.6 1316.9L1291.0 1323.5L1291.5 1330.4L1292.0 1332.5L1292.5 1334.1L1292.9 1335.8L1293.4 1334.4L1293.9 1336.8L1294.3 1339.7L1294.8 1336.2L1295.2 1333.5L1295.7 1335.2L1296.1 1331.5L1296.6 1337.1L1297.0 1342.8L1297.5 1340.6L1297.9 1341.1L1298.3 1349.4L1298.8 1353.1L1299.2 1354.2L1299.6 1353.6L1300.1 1356.2L1300.5 1358.9L1301.0 1361.9L1301.4 1356.6L1301.8 1361.0L1302.3 1362.2L1302.7 1365.7L1303.1 1369.4L1303.6 1367.6L1304.0 1370.2L1304.4 1371.3L1304.9 1373.5L1305.3 1377.3L1305.7 1382.1L1306.2 1381.6L1306.6 1380.8L1307.0 1387.7L1307.5 1387.7L1307.9 1382.5L1308.4 1382.9L1308.8 1384.9L1309.2 1387.1L1309.7 1389.4L1310.1 1387.3L1310.5 1388.6L1311.0 1389.3L1311.4 1397.3L1311.8 1397.4L1312.3 1397.5L1312.7 1398.6L1313.1 1396.5L1313.6 1402.0L1314.0 1397.4L1314.4 1399.2L1314.9 1399.6L1315.3 1400.5L1315.8 1399.2L1316.2 1402.7L1316.6 1400.0L1317.1 1405.4L1317.5 1403.4L1317.9 1403.7L1318.4 1404.2L1318.8 1403.5L1319.2 1410.1L1319.7 1406.6L1320.1 1408.5L1320.5 1410.0L1321.0 1414.6L1321.4 1416.0L1321.8 1419.1L1322.3 1418.4L1322.7 1417.0L1323.2 1416.8L1323.6 1421.3L1324.0 1424.3L1324.5 1423.4L1324.9 1426.2L1325.3 1428.7L1325.8 1430.7L1326.2 1432.3L1326.6 1429.6L1327.1 1433.2L1327.5 1435.8L1327.9 1433.6L1328.4 1434.3L1328.8 1439.6L1329.2 1437.8L1329.7 1435.2L1330.1 1435.5L1330.5 1437.2L1331.0 1434.5L1331.4 1439.7L1331.9 1441.2L1332.3 1439.8L1332.7 1444.0L1333.2 1438.2L1333.6 1443.3L1334.0 1442.5L1334.5 1441.7L1334.9 1436.9L1335.3 1444.8L1335.8 1438.5L1336.2 1441.6L1336.6 1443.4L1337.1 1444.2L1337.5 1445.8L1338.0 1448.3L1338.4 1446.9L1338.9 1445.4L1339.4 1453.0L1339.8 1449.6L1340.3 1448.0L1340.7 1447.4L1341.2 1451.0L1341.6 1448.3L1342.1 1449.6L1342.5 1449.9L1343.0 1450.8L1343.4 1449.6L1343.9 1447.5L1344.3 1451.9L1344.8 1447.3L1345.3 1451.1L1345.7 1452.7L1346.2 1455.3L1346.6 1452.3L1347.1 1449.5L1347.5 1451.5L1348.0 1450.5L1348.4 1453.1L1348.8 1453.1L1349.3 1454.8L1349.7 1454.9L1350.1 1450.8L1350.6 1455.2L1351.0 1453.2L1351.4 1455.6L1351.9 1455.5L1352.3 1454.9L1352.7 1456.9L1353.2 1454.7L1353.6 1457.8L1354.1 1460.2L1354.5 1458.5L1354.9 1457.9L1355.4 1456.7L1355.8 1456.7L1356.2 1460.5L1356.7 1458.7L1357.1 1457.4L1357.5 1459.1L1358.0 1455.0L1358.4 1454.2L1358.8 1456.2L1359.3 1457.3L1359.7 1458.8L1360.1 1455.9L1360.6 1454.6L1361.0 1457.8L1361.5 1458.3L1361.9 1456.5L1362.3 1458.9L1362.8 1460.5L1363.2 1461.3L1363.6 1456.4L1364.1 1455.8L1364.5 1459.3L1364.9 1459.7L1365.4 1460.5L1365.8 1461.3L1366.2 1462.3L1366.7 1459.3L1367.1 1459.4L1367.5 1461.3L1368.0 1463.5L1368.4 1460.2L1368.9 1461.3L1369.3 1462.0L1369.7 1463.9L1370.2 1463.8L1370.6 1462.6L1371.0 1461.3L1371.5 1459.4L1371.9 1459.4L1372.3 1461.3L1372.8 1465.8L1373.2 1463.4L1373.6 1461.4L1374.1 1464.4L1374.5 1465.7L1375.0 1462.3L1375.4 1465.2L1375.9 1467.4L1376.3 1466.0L1376.8 1463.8L1377.2 1463.2L1377.7 1464.3L1378.1 1461.9L1378.6 1461.1L1379.0 1460.1L1379.5 1465.1L1379.9 1464.1L1380.4 1463.5L1380.8 1465.8L1381.3 1465.5L1381.7 1465.4L1382.2 1461.4L1382.6 1461.3L1383.1 1461.4L1383.5 1464.4L1384.0 1466.6L1384.4 1463.0L1384.9 1464.4L1385.4 1465.7L1385.8 1463.5L1386.3 1459.8L1386.7 1465.6L1387.2 1465.8L1387.6 1461.0L1388.1 1462.1L1388.5 1461.9L1389.0 1464.5L1389.4 1462.4L1389.9 1461.7L1390.3 1462.0L1390.8 1459.5L1391.2 1462.7L1391.7 1459.5L1392.1 1460.3L1392.6 1463.6L1393.0 1461.0L1393.5 1462.0L1393.9 1462.6L1394.4 1463.2L1394.8 1462.1L1395.3 1462.6L1395.7 1459.4L1396.2 1458.6L1396.6 1462.2L1397.1 1460.3L1397.5 1460.6L1398.0 1461.0L1398.4 1459.3L1398.9 1459.3L1399.3 1458.7L1399.8 1460.3L1400.2 1464.5L1400.6 1462.9L1401.1 1460.3L1401.5 1460.5L1401.9 1463.8L1402.4 1463.1L1402.8 1465.6L1403.2 1463.7L1403.7 1464.1L1404.1 1464.5L1404.5 1463.8L1405.0 1465.2L1405.4 1467.4L1405.9 1466.8L1406.3 1468.5L1406.7 1465.0L1407.2 1467.1L1407.6 1465.2L1408.0 1465.4L1408.5 1467.8L1408.9 1465.6" fill="none" stroke="#FF8000" stroke-width="5.2" stroke-linejoin="round" stroke-linecap="round"/>
<path d="M213.5 1492.6L213.9 1493.7L214.3 1494.8L214.8 1495.4L215.2 1497.2L215.6 1498.4L216.0 1501.5L216.5 1499.3L216.9 1507.1L217.3 1497.0L217.7 1502.7L218.2 1507.9L218.6 1507.6L219.0 1507.0L219.5 1509.8L219.9 1513.7L220.3 1517.4L220.7 1512.0L221.2 1516.2L221.6 1515.1L222.0 1519.7L222.5 1517.1L222.9 1518.4L223.3 1521.6L223.7 1519.1L224.2 1520.1L224.6 1517.9L225.0 1518.8L225.4 1515.7L225.9 1518.6L226.3 1521.3L226.7 1522.5L227.2 1531.5L227.6 1523.0L228.0 1521.6L228.4 1528.7L228.9 1532.8L229.3 1533.5L229.7 1537.1L230.1 1541.5L230.6 1536.6L231.0 1533.5L231.4 1536.5L231.9 1541.9L232.3 1542.2L232.7 1541.3L233.2 1542.5L233.6 1543.2L234.0 1538.2L234.5 1542.9L234.9 1541.2L235.4 1542.6L235.8 1542.5L236.3 1544.5L236.7 1547.7L237.2 1545.9L237.6 1546.6L238.0 1549.2L238.5 1549.1L238.9 1546.3L239.4 1549.7L239.8 1547.8L240.3 1547.9L240.7 1549.6L241.2 1553.9L241.6 1549.1L242.0 1549.2L242.5 1551.1L242.9 1549.2L243.4 1551.6L243.8 1555.7L244.3 1549.0L244.7 1552.1L245.1 1551.2L245.6 1558.6L246.0 1557.1L246.5 1556.9L246.9 1555.1L247.4 1552.3L247.8 1554.6L248.3 1556.3L248.7 1556.1L249.1 1561.0L249.6 1560.0L250.0 1555.3L250.5 1555.6L250.9 1557.7L251.4 1554.6L251.8 1556.6L252.3 1556.3L252.8 1558.6L253.2 1559.4L253.7 1557.8L254.1 1562.7L254.6 1559.4L255.0 1562.1L255.5 1558.5L255.9 1557.9L256.4 1558.8L256.8 1559.9L257.3 1563.8L257.7 1559.0L258.2 1566.5L258.6 1561.5L259.1 1567.6L259.5 1566.4L260.0 1564.6L260.4 1568.1L260.8 1566.0L261.3 1567.1L261.7 1568.0L262.2 1576.2L262.6 1568.7L263.1 1574.7L263.5 1571.0L263.9 1569.0L264.4 1569.3L264.8 1574.4L265.3 1572.3L265.7 1570.4L266.2 1573.9L266.6 1574.4L267.1 1576.9L267.5 1572.1L267.9 1578.0L268.4 1579.3L268.8 1574.9L269.3 1574.9L269.7 1576.9L270.2 1575.7L270.6 1578.1L271.1 1578.3L271.5 1576.8L272.0 1573.4L272.4 1570.1L272.9 1575.3L273.4 1572.7L273.8 1578.4L274.3 1581.8L274.7 1578.5L275.2 1579.5L275.6 1580.9L276.1 1580.2L276.5 1574.9L277.0 1573.7L277.4 1574.7L277.9 1576.7L278.4 1574.9L278.8 1577.3L279.3 1581.0L279.7 1577.7L280.2 1577.9L280.6 1575.4L281.1 1577.0L281.6 1580.4L282.0 1582.6L282.5 1580.4L282.9 1577.2L283.4 1583.6L283.8 1574.9L284.3 1576.7L284.8 1576.5L285.2 1578.6L285.7 1580.8L286.1 1578.9L286.6 1589.0L287.1 1588.2L287.5 1584.9L288.0 1580.5L288.4 1576.5L288.9 1582.7L289.3 1583.8L289.8 1583.2L290.3 1585.8L290.7 1584.1L291.2 1578.7L291.6 1575.9L292.1 1579.3L292.6 1581.7L293.0 1583.9L293.5 1583.8L293.9 1582.6L294.4 1580.8L294.8 1584.0L295.3 1585.5L295.8 1582.6L296.2 1580.9L296.7 1581.7L297.1 1580.4L297.6 1583.2L298.1 1580.4L298.5 1583.5L299.0 1581.4L299.4 1584.3L299.9 1590.2L300.3 1582.6L300.8 1583.6L301.3 1590.0L301.7 1588.0L302.2 1585.5L302.6 1585.6L303.1 1583.5L303.6 1579.8L304.0 1575.6L304.5 1579.3L304.9 1580.7L305.4 1585.7L305.8 1585.0L306.3 1580.2L306.8 1584.4L307.2 1581.3L307.7 1587.0L308.1 1583.1L308.6 1587.1L309.0 1586.6L309.5 1585.1L310.0 1589.0L310.4 1587.0L310.9 1580.7L311.3 1586.6L311.8 1585.0L312.3 1586.2L312.7 1588.5L313.2 1590.7L313.6 1590.1L314.1 1586.9L314.5 1587.1L315.0 1586.2L315.5 1588.5L315.9 1588.1L316.4 1591.9L316.8 1589.3L317.3 1592.9L317.8 1596.4L318.2 1594.0L318.7 1591.6L319.1 1594.7L319.6 1590.2L320.0 1591.1L320.5 1595.2L321.0 1594.5L321.4 1592.4L321.9 1591.6L322.3 1590.8L322.8 1595.9L323.3 1598.9L323.7 1598.6L324.2 1594.8L324.6 1594.5L325.1 1591.4L325.5 1589.9L326.0 1594.2L326.5 1595.6L326.9 1591.0L327.4 1589.8L327.8 1593.7L328.3 1590.6L328.8 1596.1L329.2 1598.2L329.7 1592.8L330.1 1593.3L330.6 1596.9L331.0 1598.3L331.5 1596.0L332.0 1595.2L332.4 1594.6L332.9 1596.8L333.3 1597.6L333.8 1595.8L334.2 1594.6L334.7 1595.4L335.2 1595.3L335.6 1594.8L336.1 1592.4L336.5 1595.3L337.0 1598.1L337.5 1597.1L337.9 1599.8L338.4 1598.4L338.8 1599.0L339.3 1599.5L339.7 1592.2L340.2 1597.2L340.7 1599.6L341.1 1594.5L341.6 1591.2L342.0 1592.5L342.5 1594.7L343.0 1597.1L343.4 1592.9L343.9 1595.2L344.3 1593.4L344.8 1596.5L345.2 1596.5L345.7 1597.4L346.2 1595.8L346.6 1595.6L347.1 1599.0L347.5 1594.8L348.0 1596.5L348.5 1595.6L348.9 1596.0L349.4 1595.0L349.8 1599.9L350.3 1600.8L350.7 1597.8L351.2 1602.9L351.7 1599.8L352.1 1602.3L352.6 1596.3L353.0 1596.0L353.5 1595.7L354.0 1602.7L354.4 1601.9L354.9 1598.3L355.3 1598.9L355.8 1598.1L356.2 1597.9L356.7 1595.8L357.2 1600.0L357.6 1599.9L358.1 1596.9L358.5 1599.0L359.0 1601.1L359.5 1600.0L359.9 1598.3L360.4 1600.3L360.8 1601.2L361.3 1604.6L361.7 1599.3L362.2 1600.0L362.7 1599.3L363.1 1597.9L363.6 1598.9L364.0 1595.5L364.5 1596.1L364.9 1594.8L365.4 1598.7L365.9 1598.2L366.3 1596.7L366.8 1597.6L367.2 1600.5L367.7 1599.0L368.2 1593.0L368.6 1603.7L369.1 1600.3L369.5 1602.5L370.0 1598.3L370.4 1598.7L370.9 1600.2L371.4 1601.2L371.8 1599.6L372.3 1605.0L372.7 1600.3L373.2 1599.9L373.7 1606.2L374.1 1603.0L374.6 1597.5L375.0 1601.9L375.5 1603.0L375.9 1605.5L376.4 1607.8L376.9 1603.9L377.3 1605.3L377.8 1603.2L378.2 1600.1L378.7 1599.4L379.2 1599.0L379.6 1597.4L380.1 1604.9L380.5 1601.4L381.0 1598.9L381.4 1601.3L381.9 1599.1L382.4 1604.6L382.8 1608.4L383.3 1605.8L383.7 1603.5L384.2 1602.2L384.7 1604.0L385.1 1605.6L385.6 1606.3L386.0 1602.9L386.5 1603.6L386.9 1599.5L387.4 1602.5L387.9 1605.3L388.3 1606.5L388.8 1601.7L389.2 1598.8L389.7 1606.9L390.1 1604.2L390.6 1602.8L391.1 1603.8L391.5 1602.6L392.0 1604.3L392.4 1604.9L392.9 1601.9L393.4 1599.3L393.8 1600.8L394.3 1594.4L394.7 1603.0L395.2 1601.7L395.6 1600.5L396.1 1603.8L396.6 1605.5L397.0 1603.5L397.5 1601.6L397.9 1599.1L398.4 1600.4L398.9 1601.2L399.3 1599.4L399.8 1602.5L400.2 1604.8L400.7 1603.9L401.1 1609.8L401.6 1606.6L402.1 1606.8L402.5 1614.7L403.0 1612.2L403.4 1607.6L403.9 1606.9L404.4 1605.4L404.8 1605.9L405.3 1605.1L405.7 1601.7L406.2 1600.9L406.6 1606.0L407.1 1610.0L407.6 1607.5L408.0 1603.7L408.5 1602.0L408.9 1608.4L409.4 1611.3L409.9 1610.3L410.3 1607.0L410.8 1605.0L411.2 1608.4L411.7 1606.1L412.1 1603.5L412.6 1599.6L413.1 1602.6L413.5 1604.5L414.0 1603.5L414.4 1609.1L414.9 1604.9L415.3 1608.8L415.8 1607.5L416.3 1606.2L416.7 1608.4L417.2 1604.0L417.6 1609.2L418.1 1606.1L418.6 1605.4L419.0 1607.6L419.5 1607.6L419.9 1605.0L420.4 1608.5L420.8 1604.9L421.3 1606.4L421.8 1604.7L422.2 1605.9L422.7 1608.2L423.1 1606.7L423.6 1604.3L424.1 1608.6L424.5 1608.5L425.0 1605.1L425.4 1604.9L425.9 1604.7L426.3 1612.3L426.8 1608.6L427.3 1610.8L427.7 1609.4L428.2 1609.2L428.6 1607.5L429.1 1601.5L429.6 1604.3L430.0 1606.2L430.5 1604.2L430.9 1609.5L431.4 1607.2L431.8 1606.2L432.3 1600.4L432.8 1606.6L433.2 1608.7L433.7 1603.0L434.1 1601.6L434.6 1606.8L435.1 1602.6L435.5 1605.3L436.0 1604.6L436.4 1608.5L436.9 1606.1L437.3 1606.7L437.8 1604.9L438.3 1600.2L438.7 1603.2L439.2 1607.8L439.6 1605.3L440.1 1605.6L440.5 1604.9L441.0 1606.3L441.5 1606.3L441.9 1607.7L442.4 1602.6L442.8 1598.9L443.3 1604.8L443.8 1602.7L444.2 1603.2L444.7 1606.9L445.1 1602.9L445.6 1607.1L446.0 1604.0L446.5 1598.0L447.0 1601.0L447.4 1602.1L447.9 1602.3L448.3 1601.5L448.8 1607.5L449.3 1606.7L449.7 1605.1L450.2 1601.1L450.6 1600.8L451.1 1601.9L451.5 1604.9L452.0 1598.3L452.5 1603.2L452.9 1604.3L453.4 1602.7L453.8 1602.2L454.3 1599.5L454.8 1599.5L455.2 1603.1L455.7 1602.6L456.1 1603.8L456.6 1602.9L457.0 1599.8L457.5 1602.1L458.0 1604.6L458.4 1605.4L458.9 1602.8L459.3 1596.7L459.8 1600.5L460.3 1595.3L460.7 1602.2L461.2 1598.2L461.6 1596.0L462.1 1600.8L462.5 1600.7L463.0 1599.6L463.5 1602.6L463.9 1599.0L464.4 1600.1L464.8 1600.0L465.3 1600.1L465.8 1600.0L466.2 1600.0L466.7 1594.0L467.1 1595.6L467.6 1597.5L468.0 1595.4L468.5 1598.8L469.0 1596.9L469.4 1594.6L469.9 1597.8L470.3 1595.2L470.8 1595.0L471.2 1595.6L471.6 1595.3L472.1 1596.9L472.5 1599.0L473.0 1595.8L473.4 1597.1L473.9 1596.0L474.3 1596.0L474.8 1594.1L475.2 1596.9L475.7 1595.5L476.1 1595.3L476.6 1594.5L477.0 1593.5L477.5 1596.5L477.9 1595.6L478.4 1592.5L478.8 1597.3L479.2 1600.2L479.7 1595.4L480.1 1597.5L480.6 1594.6L481.0 1595.5L481.5 1597.3L481.9 1593.7L482.4 1592.3L482.8 1593.0L483.3 1595.2L483.7 1596.6L484.2 1594.1L484.6 1595.0L485.1 1599.4L485.5 1596.8L485.9 1591.9L486.4 1594.8L486.8 1591.6L487.3 1592.0L487.7 1592.2L488.2 1596.2L488.6 1599.7L489.1 1599.1L489.5 1598.2L490.0 1593.8L490.4 1597.5L490.9 1598.4L491.3 1592.8L491.8 1598.3L492.2 1596.0L492.7 1594.9L493.1 1596.1L493.6 1599.2L494.0 1595.2L494.5 1596.9L494.9 1598.8L495.4 1595.4L495.8 1597.8L496.3 1595.7L496.7 1593.9L497.2 1594.7L497.7 1595.5L498.1 1597.8L498.6 1599.3L499.0 1597.9L499.5 1595.8L499.9 1595.1L500.4 1594.3L500.8 1590.2L501.3 1594.3L501.7 1598.2L502.2 1593.4L502.6 1594.8L503.1 1594.9L503.5 1594.5L504.0 1592.0L504.5 1590.4L504.9 1593.6L505.4 1595.0L505.8 1593.0L506.3 1596.1L506.7 1594.7L507.2 1595.4L507.6 1594.3L508.1 1597.7L508.5 1596.4L509.0 1595.3L509.4 1591.7L509.9 1598.9L510.3 1598.3L510.8 1600.4L511.3 1594.3L511.7 1594.7L512.2 1594.7L512.6 1593.6L513.1 1595.1L513.5 1595.5L514.0 1597.8L514.4 1598.0L514.9 1593.4L515.3 1596.8L515.8 1595.4L516.2 1598.8L516.7 1598.6L517.1 1598.3L517.6 1594.3L518.1 1595.4L518.5 1598.7L519.0 1596.3L519.4 1598.0L519.9 1593.1L520.3 1592.7L520.8 1594.6L521.2 1594.2L521.7 1592.9L522.1 1596.4L522.6 1595.5L523.0 1596.4L523.5 1595.7L523.9 1598.1L524.4 1592.0L524.9 1589.8L525.3 1594.8L525.8 1598.3L526.2 1596.8L526.7 1597.3L527.1 1595.7L527.6 1598.2L528.0 1597.7L528.5 1594.8L528.9 1599.4L529.4 1595.6L529.8 1592.0L530.3 1597.5L530.7 1596.4L531.2 1596.5L531.7 1593.1L532.1 1596.0L532.6 1595.9L533.0 1595.6L533.5 1599.5L533.9 1597.4L534.4 1598.8L534.8 1595.6L535.3 1596.0L535.7 1594.5L536.2 1597.1L536.6 1598.2L537.1 1597.6L537.5 1596.0L538.0 1592.3L538.5 1593.9L538.9 1599.2L539.4 1597.3L539.8 1597.5L540.3 1600.2L540.7 1596.2L541.2 1595.2L541.6 1595.9L542.1 1597.8L542.5 1599.5L543.0 1597.8L543.4 1594.9L543.9 1595.6L544.3 1595.9L544.8 1598.7L545.3 1593.5L545.7 1595.7L546.2 1595.7L546.6 1596.8L547.1 1595.6L547.5 1597.5L548.0 1595.9L548.4 1595.4L548.9 1600.7L549.3 1594.6L549.8 1599.3L550.2 1597.1L550.7 1594.4L551.1 1597.1L551.6 1594.2L552.1 1594.2L552.5 1592.9L553.0 1595.8L553.4 1591.9L553.9 1592.6L554.3 1591.8L554.8 1595.4L555.2 1597.0L555.7 1597.3L556.1 1593.6L556.6 1593.0L557.0 1590.9L557.5 1593.6L557.9 1592.0L558.4 1593.2L558.8 1590.6L559.3 1592.9L559.8 1597.9L560.2 1594.4L560.7 1593.9L561.1 1591.4L561.6 1590.7L562.0 1592.3L562.5 1589.6L562.9 1589.8L563.4 1593.3L563.8 1587.7L564.3 1591.8L564.7 1588.7L565.2 1590.1L565.6 1592.5L566.1 1590.8L566.6 1594.2L567.0 1590.5L567.5 1592.4L567.9 1599.1L568.4 1595.0L568.8 1591.8L569.3 1593.7L569.7 1594.2L570.2 1591.1L570.6 1592.2L571.1 1591.3L571.5 1591.3L572.0 1591.9L572.4 1588.1L572.9 1590.8L573.4 1591.4L573.8 1595.2L574.3 1592.8L574.7 1589.9L575.2 1592.9L575.6 1595.5L576.1 1596.7L576.5 1589.4L577.0 1595.7L577.4 1592.4L577.9 1589.4L578.3 1593.8L578.8 1592.7L579.2 1589.3L579.7 1591.6L580.2 1590.5L580.6 1590.7L581.1 1587.3L581.5 1589.9L582.0 1591.7L582.4 1590.5L582.9 1589.7L583.3 1588.5L583.8 1594.5L584.2 1591.4L584.7 1588.3L585.1 1587.8L585.6 1590.0L586.0 1589.8L586.5 1586.9L587.0 1587.7L587.4 1587.9L587.9 1590.6L588.3 1589.0L588.8 1587.0L589.2 1582.4L589.7 1587.7L590.1 1588.2L590.6 1585.3L591.0 1586.9L591.5 1586.5L591.9 1588.6L592.4 1589.0L592.8 1590.8L593.3 1587.5L593.8 1585.8L594.2 1588.5L594.7 1586.8L595.1 1584.5L595.6 1581.7L596.0 1584.8L596.5 1588.8L596.9 1587.6L597.4 1588.4L597.8 1589.2L598.3 1591.7L598.7 1587.9L599.2 1589.0L599.6 1587.8L600.1 1587.0L600.6 1586.3L601.0 1587.9L601.5 1586.2L601.9 1587.4L602.4 1586.2L602.8 1584.5L603.3 1585.1L603.7 1584.7L604.2 1586.3L604.6 1585.1L605.1 1585.8L605.5 1584.4L606.0 1582.3L606.4 1585.7L606.9 1587.8L607.4 1587.5L607.8 1584.2L608.3 1583.0L608.7 1584.1L609.2 1581.7L609.6 1587.5L610.1 1586.4L610.5 1586.3L611.0 1584.6L611.4 1585.8L611.9 1587.2L612.3 1583.2L612.8 1581.8L613.2 1584.3L613.7 1586.2L614.2 1582.7L614.6 1585.5L615.1 1586.1L615.5 1583.0L616.0 1588.3L616.4 1584.4L616.9 1584.0L617.3 1585.6L617.8 1584.4L618.2 1583.9L618.7 1582.1L619.1 1581.9L619.6 1582.4L620.0 1578.6L620.5 1584.7L621.0 1582.1L621.4 1582.9L621.9 1580.2L622.3 1582.7L622.8 1581.6L623.2 1585.8L623.7 1579.9L624.1 1580.7L624.6 1576.8L625.0 1580.8L625.5 1584.6L625.9 1582.1L626.4 1582.5L626.8 1584.5L627.3 1583.6L627.8 1581.2L628.2 1577.9L628.7 1580.5L629.1 1580.3L629.6 1581.1L630.0 1576.9L630.5 1577.7L630.9 1583.8L631.4 1580.0L631.8 1579.1L632.3 1581.0L632.7 1579.3L633.2 1574.2L633.6 1578.5L634.1 1580.1L634.6 1578.1L635.0 1579.6L635.5 1577.4L635.9 1578.7L636.4 1578.3L636.8 1579.5L637.3 1580.8L637.7 1578.0L638.2 1582.0L638.6 1578.1L639.1 1578.1L639.5 1576.4L640.0 1576.9L640.4 1582.1L640.9 1578.4L641.3 1577.8L641.8 1577.1L642.2 1576.0L642.7 1576.6L643.1 1572.4L643.6 1575.3L644.0 1572.4L644.4 1575.3L644.9 1575.5L645.3 1574.4L645.8 1573.2L646.2 1576.1L646.7 1573.3L647.1 1566.7L647.5 1568.9L648.0 1571.0L648.4 1569.8L648.9 1572.3L649.3 1573.9L649.8 1569.5L650.2 1567.2L650.7 1569.2L651.1 1568.9L651.5 1565.6L652.0 1570.2L652.4 1567.8L652.9 1568.5L653.3 1562.5L653.8 1567.5L654.2 1567.0L654.7 1570.2L655.1 1567.7L655.5 1571.2L656.0 1565.4L656.4 1568.8L656.9 1563.9L657.3 1564.7L657.8 1556.3L658.2 1561.5L658.6 1563.5L659.1 1562.1L659.5 1562.9L660.0 1566.1L660.4 1562.5L660.9 1560.6L661.3 1565.0L661.8 1562.7L662.2 1563.8L662.7 1567.0L663.1 1564.0L663.6 1560.3L664.0 1560.1L664.5 1559.9L664.9 1561.2L665.4 1565.3L665.8 1564.5L666.3 1562.6L666.7 1565.5L667.2 1566.1L667.6 1561.2L668.1 1561.6L668.6 1560.6L669.0 1558.4L669.5 1556.5L669.9 1556.5L670.4 1559.0L670.8 1559.4L671.3 1563.7L671.7 1561.4L672.2 1563.5L672.6 1561.6L673.1 1557.8L673.5 1558.3L674.0 1558.4L674.4 1556.3L674.9 1557.2L675.4 1558.1L675.8 1557.5L676.3 1555.9L676.7 1557.5L677.2 1557.0L677.6 1557.6L678.1 1559.9L678.5 1556.2L679.0 1555.3L679.4 1563.4L679.9 1557.9L680.3 1556.4L680.8 1555.3L681.2 1557.8L681.7 1557.4L682.2 1558.4L682.6 1558.0L683.1 1557.5L683.5 1555.7L683.9 1553.7L684.4 1553.2L684.8 1555.9L685.3 1559.7L685.7 1554.2L686.2 1553.4L686.6 1556.5L687.1 1558.1L687.5 1552.9L687.9 1547.9L688.4 1550.7L688.8 1551.5L689.3 1554.2L689.7 1551.0L690.2 1553.5L690.6 1548.5L691.0 1553.0L691.5 1551.0L691.9 1550.0L692.4 1548.8L692.8 1549.9L693.3 1548.6L693.7 1547.2L694.2 1546.5L694.6 1546.9L695.0 1545.3L695.5 1541.9L695.9 1547.5L696.4 1546.3L696.8 1544.7L697.3 1548.5L697.7 1547.2L698.2 1547.3L698.6 1544.0L699.0 1548.7L699.5 1547.6L699.9 1549.2L700.4 1545.6L700.8 1550.4L701.3 1547.2L701.7 1549.1L702.1 1548.3L702.6 1549.3L703.0 1552.2L703.5 1545.5L703.9 1548.3L704.4 1545.5L704.8 1546.4L705.3 1550.8L705.7 1547.7L706.1 1547.8L706.6 1546.7L707.0 1544.1L707.5 1546.6L707.9 1546.7L708.4 1553.2L708.8 1549.3L709.2 1548.4L709.7 1547.9L710.1 1550.4L710.6 1554.8L711.0 1551.4L711.5 1551.6L711.9 1550.1L712.4 1554.7L712.8 1553.9L713.2 1547.3L713.7 1552.7L714.1 1549.4L714.6 1547.5L715.0 1547.8L715.5 1544.6L715.9 1546.7L716.3 1549.3L716.8 1550.8L717.2 1550.6L717.7 1547.6L718.1 1551.4L718.6 1548.9L719.0 1548.4L719.5 1548.5L719.9 1547.8L720.3 1549.4L720.8 1550.1L721.2 1549.3L721.7 1547.4L722.1 1543.7L722.6 1550.7L723.0 1550.4L723.5 1546.5L723.9 1547.0L724.3 1551.1L724.8 1548.8L725.2 1547.4L725.7 1547.1L726.1 1546.8L726.6 1547.1L727.0 1547.1L727.4 1548.0L727.9 1550.0L728.3 1548.1L728.8 1549.2L729.2 1549.6L729.7 1544.5L730.1 1553.5L730.6 1548.1L731.0 1547.5L731.4 1548.7L731.9 1548.7L732.3 1548.7L732.8 1548.5L733.2 1546.1L733.7 1547.3L734.1 1548.2L734.5 1546.3L735.0 1543.0L735.4 1550.8L735.9 1550.7L736.3 1549.7L736.8 1551.6L737.2 1551.4L737.7 1550.5L738.1 1552.3L738.6 1552.1L739.0 1553.3L739.5 1552.7L740.0 1554.7L740.4 1556.4L740.9 1559.2L741.3 1555.0L741.8 1550.5L742.2 1552.8L742.7 1555.6L743.1 1556.6L743.6 1557.9L744.0 1555.1L744.5 1554.9L744.9 1551.7L745.3 1553.4L745.8 1551.6L746.2 1553.5L746.7 1551.7L747.1 1547.2L747.6 1548.5L748.0 1551.1L748.5 1554.8L748.9 1547.9L749.4 1546.5L749.8 1548.1L750.2 1547.5L750.7 1549.0L751.1 1548.1L751.6 1546.4L752.0 1542.9L752.5 1544.4L752.9 1549.1L753.4 1548.5L753.8 1548.6L754.2 1548.2L754.7 1545.1L755.1 1546.7L755.6 1546.3L756.0 1547.7L756.5 1543.3L756.9 1548.4L757.4 1548.4L757.8 1545.3L758.2 1548.1L758.7 1547.9L759.1 1541.7L759.6 1543.4L760.0 1541.3L760.5 1542.2L760.9 1544.1L761.4 1543.2L761.8 1542.4L762.2 1541.6L762.7 1539.6L763.1 1541.5L763.6 1537.2L764.0 1538.7L764.5 1538.6L764.9 1537.5L765.4 1537.5L765.8 1537.0L766.3 1534.3L766.7 1536.8L767.1 1535.4L767.6 1534.7L768.0 1534.9L768.5 1541.6L768.9 1534.8L769.4 1532.8L769.8 1536.0L770.3 1531.4L770.7 1526.0L771.1 1525.9L771.6 1528.3L772.0 1532.6L772.5 1532.2L772.9 1535.7L773.4 1533.4L773.8 1534.1L774.3 1533.5L774.7 1524.1L775.1 1525.6L775.6 1526.8L776.0 1527.9L776.5 1529.9L776.9 1532.5L777.4 1531.8L777.8 1531.0L778.3 1531.3L778.7 1526.5L779.1 1526.0L779.6 1529.7L780.0 1522.2L780.5 1527.4L780.9 1526.4L781.4 1523.0L781.8 1522.1L782.3 1517.2L782.7 1516.3L783.2 1514.6L783.7 1514.7L784.1 1510.2L784.6 1508.6L785.0 1507.2L785.5 1508.4L785.9 1507.6L786.4 1508.8L786.8 1507.7L787.3 1504.8L787.7 1507.1L788.2 1507.9L788.6 1510.5L789.1 1513.4L789.6 1515.3L790.0 1511.9L790.5 1513.2L791.0 1507.4L791.4 1509.5L791.9 1507.6L792.4 1504.7L792.9 1503.2L793.3 1501.2L793.8 1503.3L794.3 1504.8L794.8 1505.0L795.2 1508.0L795.7 1506.0L796.2 1509.2L796.6 1515.9L797.1 1509.8L797.6 1515.3L798.0 1516.5L798.5 1516.1L798.9 1517.0L799.4 1517.7L799.8 1518.8L800.3 1519.1L800.7 1523.0L801.2 1526.1L801.6 1519.4L802.1 1521.0L802.6 1525.9L803.0 1525.4L803.5 1529.3L803.9 1528.5L804.4 1526.2L804.8 1528.5L805.3 1527.8L805.7 1529.4L806.2 1526.9L806.6 1528.7L807.1 1532.9L807.5 1531.2L808.0 1531.5L808.5 1539.8L808.9 1542.3L809.4 1539.5L809.8 1542.0L810.3 1541.4L810.7 1544.0L811.2 1541.1L811.6 1545.8L812.1 1546.2L812.5 1541.9L812.9 1539.7L813.4 1551.8L813.8 1545.2L814.3 1548.7L814.7 1548.3L815.2 1551.1L815.6 1548.6L816.1 1549.7L816.5 1547.6L816.9 1548.6L817.4 1550.9L817.8 1556.0L818.3 1552.1L818.7 1551.3L819.2 1554.9L819.6 1556.2L820.1 1553.7L820.5 1555.4L821.0 1557.6L821.4 1558.4L821.8 1561.4L822.3 1556.4L822.7 1555.4L823.2 1554.7L823.6 1558.6L824.1 1556.5L824.5 1561.8L825.0 1560.3L825.4 1559.1L825.8 1563.8L826.3 1562.8L826.8 1567.3L827.2 1565.6L827.7 1571.0L828.2 1570.7L828.6 1572.7L829.1 1570.7L829.6 1571.6L830.0 1568.9L830.5 1571.2L831.0 1572.2L831.4 1570.1L831.9 1571.5L832.3 1577.0L832.8 1571.2L833.3 1567.7L833.7 1571.7L834.2 1569.5L834.6 1570.8L835.1 1569.9L835.5 1570.0L836.0 1569.1L836.4 1569.2L836.9 1570.8L837.3 1572.5L837.7 1570.9L838.2 1571.4L838.6 1581.4L839.0 1576.7L839.5 1577.6L839.9 1576.4L840.4 1580.3L840.8 1578.9L841.3 1579.5L841.7 1581.9L842.2 1583.9L842.6 1583.1L843.1 1587.7L843.5 1583.5L844.0 1586.5L844.4 1585.3L844.9 1585.6L845.3 1586.8L845.8 1587.5L846.2 1588.7L846.7 1591.1L847.1 1590.4L847.5 1592.5L848.0 1598.7L848.4 1590.9L848.9 1592.2L849.3 1594.1L849.8 1590.9L850.2 1593.2L850.7 1594.0L851.1 1595.0L851.5 1595.1L852.0 1594.5L852.4 1595.6L852.9 1593.8L853.3 1597.6L853.8 1595.9L854.2 1590.9L854.7 1592.8L855.1 1594.6L855.6 1592.6L856.0 1593.8L856.5 1597.3L856.9 1594.1L857.4 1589.4L857.8 1594.0L858.3 1594.5L858.7 1594.7L859.2 1588.4L859.6 1591.5L860.1 1592.5L860.5 1596.2L861.0 1595.9L861.4 1597.2L861.9 1595.3L862.3 1594.8L862.7 1599.9L863.2 1597.3L863.6 1597.1L864.1 1594.9L864.5 1597.0L865.0 1594.2L865.4 1596.3L865.9 1596.7L866.3 1598.3L866.8 1599.7L867.2 1600.1L867.6 1599.9L868.1 1596.0L868.5 1596.5L869.0 1598.0L869.4 1599.7L869.9 1597.9L870.3 1601.0L870.8 1597.2L871.2 1602.5L871.6 1601.6L872.1 1599.3L872.5 1601.5L873.0 1597.6L873.4 1595.9L873.9 1596.7L874.3 1600.8L874.8 1598.0L875.2 1597.4L875.6 1594.3L876.1 1593.9L876.5 1595.4L877.0 1594.0L877.4 1596.4L877.9 1595.6L878.3 1595.0L878.8 1594.9L879.2 1595.4L879.7 1595.8L880.1 1593.9L880.5 1594.4L881.0 1596.1L881.4 1598.9L881.9 1596.4L882.3 1598.4L882.8 1596.5L883.2 1593.9L883.7 1597.5L884.1 1597.3L884.5 1598.5L885.0 1598.2L885.4 1598.4L885.9 1597.9L886.3 1596.7L886.8 1597.6L887.2 1597.0L887.7 1598.3L888.1 1600.1L888.5 1601.6L889.0 1598.1L889.4 1597.9L889.9 1598.5L890.3 1591.7L890.8 1592.3L891.2 1593.1L891.7 1593.4L892.1 1595.6L892.5 1594.4L893.0 1594.6L893.4 1595.5L893.9 1593.6L894.3 1589.0L894.8 1586.8L895.2 1593.0L895.7 1595.8L896.1 1593.7L896.6 1592.7L897.0 1590.5L897.4 1589.9L897.9 1590.7L898.3 1588.7L898.8 1589.5L899.2 1588.5L899.7 1588.5L900.1 1588.1L900.6 1582.9L901.0 1582.1L901.4 1582.9L901.9 1581.6L902.4 1581.7L902.8 1586.1L903.3 1579.4L903.8 1579.7L904.2 1582.4L904.7 1577.6L905.2 1574.6L905.6 1577.7L906.1 1576.3L906.6 1573.6L907.0 1577.6L907.5 1567.2L907.9 1569.8L908.4 1569.2L908.9 1570.1L909.3 1567.7L909.8 1567.4L910.2 1561.9L910.7 1559.7L911.1 1564.3L911.6 1558.8L912.0 1555.8L912.5 1555.2L912.9 1553.3L913.4 1550.1L913.8 1547.9L914.3 1543.3L914.7 1541.0L915.2 1537.3L915.7 1535.3L916.1 1530.5L916.6 1530.6L917.0 1535.3L917.4 1529.5L917.9 1526.0L918.3 1525.2L918.7 1523.3L919.2 1523.6L919.6 1513.6L920.0 1514.0L920.5 1509.1L920.9 1509.1L921.3 1505.5L921.7 1501.4L922.2 1503.3L922.6 1503.2L923.0 1498.0L923.5 1494.5L923.9 1492.1L924.3 1490.0L924.8 1490.5L925.2 1486.5L925.6 1484.7L926.1 1487.5L926.6 1484.7L927.0 1479.9L927.5 1478.2L927.9 1473.7L928.4 1471.6L928.9 1466.5L929.3 1461.4L929.8 1461.1L930.3 1458.0L930.7 1460.6L931.2 1457.8L931.6 1449.1L932.1 1451.2L932.6 1449.2L933.0 1445.7L933.5 1443.2L933.9 1446.3L934.4 1448.3L934.8 1449.3L935.3 1452.0L935.7 1455.1L936.2 1456.9L936.6 1456.4L937.1 1459.2L937.5 1459.1L937.9 1460.8L938.4 1458.9L938.8 1459.8L939.3 1463.5L939.7 1467.2L940.2 1465.0L940.6 1471.3L941.1 1472.0L941.5 1474.9L942.0 1474.9L942.4 1482.8L942.9 1485.2L943.3 1490.5L943.8 1490.3L944.2 1490.3L944.6 1489.2L945.1 1486.3L945.5 1490.3L946.0 1485.8L946.4 1488.5L946.9 1484.6L947.3 1480.5L947.8 1471.4L948.2 1463.5L948.7 1460.4L949.1 1454.3L949.6 1449.3L950.0 1444.1L950.4 1449.4L950.9 1454.3L951.3 1460.2L951.8 1464.7L952.2 1476.8L952.7 1486.4L953.1 1499.7L953.6 1507.3L954.0 1516.0L954.5 1522.1L954.9 1528.2L955.4 1536.4L955.8 1539.2L956.2 1544.8L956.7 1543.4L957.1 1549.3L957.6 1552.6L958.0 1558.2L958.5 1564.2L958.9 1562.7L959.4 1559.4L959.8 1563.2L960.3 1564.3L960.7 1566.6L961.2 1568.5L961.6 1571.1L962.1 1575.8L962.5 1576.7L962.9 1578.5L963.4 1577.8L963.8 1585.1L964.3 1585.0L964.7 1586.4L965.2 1587.1L965.6 1586.4L966.1 1588.6L966.5 1588.1L967.0 1593.4L967.4 1590.3L967.9 1589.9L968.3 1590.2L968.8 1590.8L969.2 1592.7L969.6 1592.2L970.1 1595.8L970.5 1592.4L971.0 1594.7L971.4 1596.6L971.9 1595.3L972.3 1596.2L972.8 1597.6L973.2 1597.5L973.7 1595.8L974.1 1599.1L974.6 1597.8L975.0 1599.2L975.4 1603.0L975.9 1608.8L976.3 1604.6L976.8 1608.1L977.2 1605.8L977.7 1607.0L978.1 1608.6L978.6 1606.3L979.0 1606.1L979.5 1608.1L979.9 1608.6L980.4 1608.2L980.8 1607.5L981.2 1609.2L981.7 1602.6L982.1 1601.1L982.6 1607.0L983.0 1606.9L983.5 1607.2L983.9 1606.3L984.4 1607.1L984.8 1606.3L985.3 1607.3L985.7 1608.6L986.2 1606.9L986.6 1609.8L987.1 1606.9L987.5 1605.3L987.9 1610.6L988.4 1607.5L988.8 1607.2L989.3 1611.0L989.7 1607.7L990.2 1609.4L990.6 1611.2L991.1 1605.0L991.5 1606.4L992.0 1611.2L992.4 1613.4L992.9 1608.8L993.3 1611.3L993.8 1615.0L994.2 1612.3L994.6 1613.1L995.1 1610.2L995.5 1611.9L996.0 1610.5L996.4 1610.5L996.9 1612.9L997.3 1611.5L997.8 1611.5L998.2 1610.0L998.6 1607.1L999.1 1609.4L999.5 1607.2L1000.0 1611.2L1000.4 1609.4L1000.9 1611.1L1001.3 1608.0L1001.8 1609.9L1002.2 1611.0L1002.7 1609.5L1003.1 1606.8L1003.5 1603.4L1004.0 1605.8L1004.4 1607.1L1004.9 1607.6L1005.4 1609.2L1005.8 1610.1L1006.3 1612.7L1006.7 1616.3L1007.2 1614.4L1007.7 1616.9L1008.1 1613.2L1008.6 1616.6L1009.0 1613.5L1009.5 1613.7L1009.9 1616.1L1010.4 1611.9L1010.9 1612.6L1011.3 1612.4L1011.8 1613.4L1012.2 1611.7L1012.7 1615.4L1013.2 1613.4L1013.6 1613.8L1014.1 1614.8L1014.5 1614.4L1015.0 1614.7L1015.4 1613.7L1015.9 1614.1L1016.4 1615.2L1016.8 1611.4L1017.3 1611.7L1017.7 1615.9L1018.2 1610.0L1018.6 1609.5L1019.1 1612.1L1019.6 1612.9L1020.0 1613.6L1020.5 1609.6L1020.9 1616.8L1021.4 1612.8L1021.9 1612.9L1022.3 1611.9L1022.8 1611.2L1023.2 1610.2L1023.7 1610.7L1024.1 1612.3L1024.6 1611.3L1025.1 1609.4L1025.5 1610.3L1026.0 1611.3L1026.4 1611.6L1026.9 1612.7L1027.4 1614.5L1027.8 1616.6L1028.3 1614.6L1028.7 1612.5L1029.2 1614.6L1029.6 1610.5L1030.1 1612.9L1030.6 1617.1L1031.0 1617.1L1031.5 1616.2L1031.9 1613.3L1032.4 1611.8L1032.8 1612.4L1033.3 1612.4L1033.7 1612.8L1034.2 1613.9L1034.6 1618.7L1035.1 1616.2L1035.5 1615.2L1036.0 1616.1L1036.4 1615.6L1036.9 1614.8L1037.3 1612.7L1037.8 1613.6L1038.2 1616.3L1038.7 1612.7L1039.1 1612.4L1039.6 1614.7L1040.0 1613.3L1040.5 1615.5L1040.9 1611.8L1041.4 1611.5L1041.8 1611.8L1042.3 1617.6L1042.7 1614.6L1043.2 1614.6L1043.6 1616.9L1044.1 1613.6L1044.5 1616.2L1044.9 1612.9L1045.4 1613.1L1045.8 1611.8L1046.3 1613.7L1046.7 1616.6L1047.2 1613.7L1047.6 1611.7L1048.1 1614.1L1048.5 1613.3L1049.0 1616.3L1049.4 1614.8L1049.9 1615.5L1050.3 1611.5L1050.8 1613.6L1051.2 1613.2L1051.6 1612.2L1052.1 1611.8L1052.5 1614.4L1053.0 1610.6L1053.4 1613.1L1053.9 1616.8L1054.3 1616.0L1054.8 1611.8L1055.2 1615.3L1055.7 1610.8L1056.1 1611.8L1056.6 1613.6L1057.0 1613.6L1057.5 1613.6L1057.9 1607.8L1058.4 1612.9L1058.8 1611.6L1059.2 1613.1L1059.7 1613.9L1060.1 1613.2L1060.6 1613.1L1061.0 1615.2L1061.5 1611.6L1061.9 1615.9L1062.4 1614.2L1062.8 1611.4L1063.3 1612.4L1063.7 1610.7L1064.2 1609.6L1064.6 1613.3L1065.1 1615.2L1065.5 1613.1L1065.9 1613.1L1066.4 1609.4L1066.8 1611.4L1067.3 1607.3L1067.7 1612.8L1068.2 1616.2L1068.6 1614.0L1069.1 1610.0L1069.5 1611.6L1070.0 1610.0L1070.4 1610.6L1070.9 1609.1L1071.3 1611.3L1071.8 1608.9L1072.2 1610.3L1072.6 1613.3L1073.1 1612.3L1073.5 1610.3L1074.0 1612.0L1074.4 1611.8L1074.9 1611.0L1075.3 1610.6L1075.8 1612.5L1076.2 1611.2L1076.7 1612.4L1077.1 1609.1L1077.6 1611.9L1078.0 1607.5L1078.5 1610.3L1078.9 1611.6L1079.3 1606.0L1079.8 1610.6L1080.2 1605.3L1080.7 1607.7L1081.1 1610.3L1081.6 1610.0L1082.0 1607.5L1082.5 1610.6L1082.9 1608.4L1083.4 1608.6L1083.8 1606.3L1084.3 1608.2L1084.7 1607.4L1085.2 1612.8L1085.6 1611.1L1086.0 1608.6L1086.5 1610.9L1086.9 1613.4L1087.4 1611.3L1087.8 1609.4L1088.3 1609.5L1088.7 1610.3L1089.2 1612.0L1089.6 1613.2L1090.1 1614.3L1090.5 1607.2L1091.0 1609.6L1091.4 1608.4L1091.9 1607.6L1092.3 1608.6L1092.7 1609.9L1093.2 1611.0L1093.6 1607.7L1094.1 1604.7L1094.5 1607.4L1095.0 1611.2L1095.4 1610.5L1095.9 1611.5L1096.3 1610.4L1096.8 1609.1L1097.2 1608.4L1097.7 1608.3L1098.1 1610.2L1098.6 1608.6L1099.0 1610.5L1099.5 1608.4L1099.9 1607.3L1100.3 1607.7L1100.8 1608.5L1101.2 1609.4L1101.7 1612.6L1102.1 1612.8L1102.6 1610.0L1103.0 1607.1L1103.5 1605.1L1103.9 1603.6L1104.4 1609.5L1104.8 1605.6L1105.3 1606.8L1105.7 1610.1L1106.2 1606.6L1106.6 1604.7L1107.0 1603.2L1107.5 1606.2L1107.9 1604.9L1108.4 1607.8L1108.8 1605.2L1109.3 1603.6L1109.7 1608.4L1110.2 1603.7L1110.6 1602.3L1111.1 1610.0L1111.5 1604.8L1112.0 1608.5L1112.4 1607.6L1112.9 1605.0L1113.3 1607.9L1113.7 1605.8L1114.2 1604.6L1114.6 1605.8L1115.1 1602.8L1115.5 1605.6L1116.0 1603.5L1116.4 1604.8L1116.9 1606.6L1117.3 1602.8L1117.8 1604.4L1118.2 1605.8L1118.7 1607.0L1119.1 1608.2L1119.6 1607.3L1120.0 1602.8L1120.4 1602.6L1120.9 1600.3L1121.3 1602.8L1121.8 1606.0L1122.2 1605.6L1122.7 1605.4L1123.1 1603.6L1123.6 1603.6L1124.0 1605.7L1124.5 1609.2L1124.9 1605.7L1125.4 1606.2L1125.8 1606.5L1126.3 1604.8L1126.7 1605.8L1127.1 1604.3L1127.6 1603.1L1128.0 1604.9L1128.5 1603.2L1128.9 1604.4L1129.4 1605.1L1129.8 1604.8L1130.3 1607.3L1130.7 1606.8L1131.2 1602.4L1131.6 1601.4L1132.1 1604.0L1132.5 1602.1L1133.0 1606.0L1133.4 1602.7L1133.8 1597.8L1134.3 1603.5L1134.7 1604.7L1135.2 1602.9L1135.6 1602.9L1136.1 1599.8L1136.5 1600.0L1137.0 1603.3L1137.4 1599.3L1137.9 1602.4L1138.3 1603.5L1138.8 1603.0L1139.2 1603.9L1139.7 1606.6L1140.1 1603.8L1140.5 1601.1L1141.0 1599.5L1141.4 1601.8L1141.9 1604.8L1142.3 1601.2L1142.8 1596.4L1143.2 1599.5L1143.7 1596.8L1144.1 1597.7L1144.6 1600.8L1145.0 1605.3L1145.5 1605.3L1145.9 1600.2L1146.4 1603.1L1146.8 1600.6L1147.3 1598.2L1147.7 1603.2L1148.1 1603.3L1148.6 1599.6L1149.0 1602.3L1149.5 1604.0L1149.9 1601.0L1150.4 1603.4L1150.8 1599.9L1151.3 1600.1L1151.7 1598.2L1152.2 1598.1L1152.6 1598.6L1153.1 1600.0L1153.5 1600.8L1154.0 1603.7L1154.4 1602.1L1154.8 1599.6L1155.3 1595.0L1155.7 1596.8L1156.2 1599.2L1156.6 1597.1L1157.1 1598.6L1157.5 1598.0L1158.0 1598.0L1158.4 1601.3L1158.9 1602.6L1159.3 1600.6L1159.8 1596.7L1160.2 1595.6L1160.7 1595.8L1161.1 1596.3L1161.5 1598.0L1162.0 1599.4L1162.4 1598.7L1162.9 1598.5L1163.3 1598.0L1163.8 1596.4L1164.2 1596.9L1164.7 1599.7L1165.1 1597.0L1165.6 1596.2L1166.0 1595.6L1166.5 1598.8L1166.9 1596.9L1167.4 1594.4L1167.8 1596.2L1168.2 1595.2L1168.7 1597.9L1169.1 1597.5L1169.6 1594.8L1170.0 1596.3L1170.5 1602.5L1170.9 1601.1L1171.4 1597.6L1171.8 1599.7L1172.3 1597.7L1172.7 1596.3L1173.2 1596.8L1173.6 1594.3L1174.1 1593.1L1174.5 1594.2L1174.9 1595.2L1175.4 1598.1L1175.8 1597.3L1176.3 1593.0L1176.7 1596.3L1177.2 1598.6L1177.6 1598.1L1178.1 1597.7L1178.5 1597.0L1179.0 1599.5L1179.4 1599.5L1179.9 1597.7L1180.3 1595.9L1180.8 1599.6L1181.2 1596.5L1181.6 1595.0L1182.1 1598.8L1182.5 1596.4L1183.0 1596.2L1183.4 1597.4L1183.9 1597.9L1184.3 1597.4L1184.8 1596.9L1185.2 1600.0L1185.7 1596.5L1186.1 1595.8L1186.6 1596.8L1187.0 1597.8L1187.5 1599.9L1187.9 1597.0L1188.4 1593.8L1188.8 1596.6L1189.2 1596.0L1189.7 1593.4L1190.1 1592.1L1190.6 1592.1L1191.0 1595.1L1191.5 1595.1L1191.9 1595.4L1192.4 1593.7L1192.8 1591.0L1193.3 1594.5L1193.7 1593.1L1194.2 1590.8L1194.6 1591.0L1195.1 1593.5L1195.5 1594.8L1195.9 1596.2L1196.4 1595.9L1196.8 1592.1L1197.3 1594.6L1197.7 1590.0L1198.2 1590.4L1198.6 1589.6L1199.1 1593.8L1199.5 1593.4L1200.0 1596.3L1200.4 1590.8L1200.9 1592.4L1201.3 1593.4L1201.8 1596.0L1202.2 1594.3L1202.6 1593.7L1203.1 1592.7L1203.5 1597.8L1204.0 1595.7L1204.4 1592.1L1204.9 1590.4L1205.3 1589.6L1205.8 1592.8L1206.2 1592.2L1206.7 1593.1L1207.1 1590.8L1207.6 1592.8L1208.0 1593.3L1208.5 1596.0L1208.9 1591.2L1209.3 1595.1L1209.8 1593.0L1210.2 1594.5L1210.7 1595.0L1211.1 1594.9L1211.6 1598.6L1212.0 1599.8L1212.5 1597.1L1212.9 1596.6L1213.4 1594.0L1213.8 1597.5L1214.3 1598.6L1214.7 1599.1L1215.2 1601.7L1215.6 1597.4L1216.0 1600.6L1216.5 1598.7L1216.9 1596.3L1217.4 1597.7L1217.8 1601.6L1218.3 1604.0L1218.7 1598.0L1219.2 1595.3L1219.6 1597.5L1220.1 1596.1L1220.5 1599.1L1221.0 1596.8L1221.4 1597.0L1221.9 1601.9L1222.3 1598.3L1222.7 1597.9L1223.2 1598.9L1223.6 1599.6L1224.1 1596.6L1224.5 1603.0L1225.0 1595.7L1225.4 1593.5L1225.9 1598.2L1226.3 1595.5L1226.8 1596.0L1227.2 1592.9L1227.7 1594.0L1228.1 1594.4L1228.6 1590.0L1229.0 1593.9L1229.5 1597.4L1229.9 1594.8L1230.3 1593.8L1230.8 1595.8L1231.2 1595.9L1231.7 1594.9L1232.1 1594.1L1232.6 1596.7L1233.0 1600.9L1233.5 1598.3L1233.9 1596.9L1234.4 1597.2L1234.8 1596.7L1235.3 1598.2L1235.7 1596.3L1236.2 1596.2L1236.6 1598.5L1237.0 1594.0L1237.5 1593.1L1237.9 1598.0L1238.4 1598.1L1238.8 1595.1L1239.3 1595.8L1239.7 1596.9L1240.2 1594.0L1240.6 1594.1L1241.1 1598.0L1241.5 1594.3L1242.0 1593.0L1242.4 1592.7L1242.9 1593.6L1243.4 1592.6L1243.8 1595.3L1244.3 1594.4L1244.7 1592.9L1245.2 1592.0L1245.6 1593.4L1246.1 1592.7L1246.5 1591.9L1247.0 1593.3L1247.5 1593.2L1247.9 1590.0L1248.4 1590.1L1248.8 1588.0L1249.3 1589.9L1249.7 1589.4L1250.2 1589.1L1250.6 1587.7L1251.1 1589.7L1251.6 1585.8L1252.0 1587.4L1252.5 1586.7L1252.9 1588.9L1253.4 1584.0L1253.8 1583.1L1254.3 1585.8L1254.8 1582.5L1255.2 1587.0L1255.7 1586.5L1256.1 1587.8L1256.6 1584.4L1257.0 1581.9L1257.4 1583.0L1257.9 1585.4L1258.3 1586.5L1258.7 1585.6L1259.2 1582.7L1259.6 1580.0L1260.0 1586.6L1260.5 1582.7L1260.9 1578.0L1261.3 1579.3L1261.8 1577.1L1262.2 1580.1L1262.6 1580.4L1263.1 1578.1L1263.5 1572.0L1264.0 1572.7L1264.4 1573.4L1264.8 1577.6L1265.3 1576.1L1265.7 1576.5L1266.1 1579.0L1266.6 1576.3L1267.0 1572.3L1267.4 1570.8L1267.9 1572.4L1268.3 1569.5L1268.7 1565.7L1269.2 1568.0L1269.6 1565.3L1270.0 1561.4L1270.5 1561.2L1270.9 1558.7L1271.4 1554.1L1271.8 1553.8L1272.2 1548.7L1272.7 1547.2L1273.1 1548.4L1273.5 1545.5L1274.0 1543.5L1274.4 1543.1L1274.8 1539.2L1275.3 1537.5L1275.7 1536.0L1276.1 1531.8L1276.6 1533.2L1277.0 1530.1L1277.4 1528.3L1277.9 1526.9L1278.3 1524.3L1278.8 1520.8L1279.2 1522.3L1279.6 1520.1L1280.1 1518.5L1280.5 1517.7L1280.9 1517.5L1281.4 1512.4L1281.8 1513.9L1282.2 1512.2L1282.7 1509.6L1283.1 1509.2L1283.5 1504.6L1284.0 1498.3L1284.4 1489.2L1284.8 1476.9L1285.3 1476.9L1285.7 1476.1L1286.2 1477.7L1286.6 1478.0L1287.0 1476.3L1287.5 1474.8L1287.9 1471.0L1288.3 1472.0L1288.8 1470.5L1289.2 1467.1L1289.6 1462.7L1290.1 1463.0L1290.5 1462.3L1290.9 1460.1L1291.4 1456.6L1291.8 1458.5L1292.2 1454.6L1292.7 1449.6L1293.1 1450.1L1293.6 1448.4L1294.0 1447.0L1294.4 1448.2L1294.9 1451.5L1295.3 1454.4L1295.7 1454.8L1296.2 1456.2L1296.6 1459.5L1297.0 1461.8L1297.5 1460.3L1297.9 1463.7L1298.3 1460.4L1298.8 1464.6L1299.2 1462.8L1299.6 1463.8L1300.1 1468.8L1300.5 1474.2L1301.0 1477.8L1301.4 1479.9L1301.8 1485.4L1302.3 1482.9L1302.7 1480.1L1303.1 1484.3L1303.6 1487.9L1304.0 1484.5L1304.4 1488.6L1304.9 1498.7L1305.3 1499.0L1305.7 1510.4L1306.2 1507.7L1306.6 1510.6L1307.0 1513.2L1307.5 1519.1L1307.9 1515.6L1308.4 1511.8L1308.8 1518.4L1309.2 1523.3L1309.7 1527.3L1310.1 1528.1L1310.5 1532.2L1311.0 1527.8L1311.4 1530.5L1311.8 1532.8L1312.3 1532.8L1312.7 1538.8L1313.1 1537.8L1313.6 1537.8L1314.0 1538.5L1314.4 1538.6L1314.9 1540.9L1315.3 1538.6L1315.8 1536.3L1316.2 1542.8L1316.6 1542.6L1317.1 1544.9L1317.5 1543.1L1317.9 1540.1L1318.4 1540.0L1318.8 1544.2L1319.2 1542.5L1319.7 1543.2L1320.1 1546.8L1320.5 1553.4L1321.0 1551.5L1321.4 1556.7L1321.8 1558.5L1322.3 1560.8L1322.7 1560.1L1323.2 1563.7L1323.6 1565.3L1324.0 1567.1L1324.5 1570.7L1324.9 1572.3L1325.3 1567.0L1325.8 1572.8L1326.2 1577.1L1326.6 1580.3L1327.1 1577.4L1327.5 1576.7L1327.9 1577.2L1328.4 1584.3L1328.8 1583.1L1329.2 1582.5L1329.7 1582.5L1330.1 1583.2L1330.5 1585.1L1331.0 1582.6L1331.4 1585.1L1331.9 1584.0L1332.3 1587.3L1332.7 1590.1L1333.2 1593.0L1333.6 1591.4L1334.0 1592.8L1334.5 1590.6L1334.9 1589.6L1335.3 1593.3L1335.8 1593.8L1336.2 1593.5L1336.6 1596.1L1337.1 1592.0L1337.5 1594.0L1337.9 1598.9L1338.4 1598.7L1338.8 1601.6L1339.3 1599.8L1339.7 1599.5L1340.1 1599.4L1340.6 1603.9L1341.0 1601.3L1341.4 1600.9L1341.9 1607.3L1342.3 1601.1L1342.7 1602.3L1343.2 1602.3L1343.6 1601.3L1344.0 1601.4L1344.5 1600.5L1344.9 1598.9L1345.3 1600.3L1345.8 1601.7L1346.2 1603.0L1346.7 1604.0L1347.1 1609.0L1347.5 1609.1L1348.0 1609.6L1348.4 1608.7L1348.8 1605.5L1349.3 1607.5L1349.7 1606.0L1350.1 1610.8L1350.6 1607.1L1351.0 1607.3L1351.4 1609.9L1351.9 1609.8L1352.3 1612.5L1352.7 1608.1L1353.2 1611.5L1353.6 1611.2L1354.1 1608.4L1354.5 1612.1L1354.9 1612.6L1355.4 1611.0L1355.8 1611.8L1356.2 1610.0L1356.7 1609.5L1357.1 1612.2L1357.5 1613.9L1358.0 1609.1L1358.4 1612.2L1358.8 1613.9L1359.3 1616.8L1359.7 1614.9L1360.1 1612.3L1360.6 1613.3L1361.0 1612.0L1361.5 1611.9L1361.9 1613.7L1362.4 1614.3L1362.8 1611.5L1363.3 1615.3L1363.7 1609.3L1364.2 1614.0L1364.6 1613.1L1365.1 1615.7L1365.5 1620.2L1366.0 1615.3L1366.4 1612.1L1366.9 1615.7L1367.3 1611.2L1367.8 1611.8L1368.2 1612.9L1368.7 1614.3L1369.1 1614.6L1369.6 1617.2L1370.0 1613.9L1370.5 1614.4L1370.9 1614.6L1371.4 1610.0L1371.8 1614.2L1372.3 1617.1L1372.7 1616.1L1373.2 1614.2L1373.6 1613.7L1374.1 1613.3L1374.5 1612.6L1375.0 1611.7L1375.4 1615.0L1375.9 1614.5L1376.3 1616.1L1376.8 1613.8L1377.2 1616.2L1377.7 1618.6L1378.1 1613.0L1378.6 1611.4L1379.0 1614.7L1379.5 1617.1L1379.9 1610.0L1380.4 1616.1L1380.8 1615.8L1381.3 1616.5L1381.7 1618.0L1382.2 1616.3L1382.6 1615.2L1383.1 1613.3L1383.5 1612.3L1384.0 1614.0L1384.4 1617.9L1384.9 1617.4L1385.4 1618.1L1385.8 1617.7L1386.3 1618.9L1386.7 1615.3L1387.2 1620.5L1387.6 1617.1L1388.1 1618.8L1388.5 1616.9L1389.0 1618.2L1389.4 1617.5L1389.9 1616.8L1390.3 1616.5L1390.8 1615.5L1391.2 1618.5L1391.7 1615.9L1392.1 1620.9L1392.6 1618.8L1393.0 1617.6L1393.5 1619.1L1393.9 1617.7L1394.4 1616.3L1394.8 1619.0L1395.3 1618.2L1395.7 1616.0L1396.2 1618.3L1396.6 1617.8L1397.1 1616.7L1397.5 1618.0L1398.0 1616.5L1398.4 1617.8L1398.9 1618.5L1399.3 1620.8L1399.8 1618.2L1400.2 1614.1L1400.7 1617.0L1401.1 1616.6L1401.6 1617.3L1402.0 1616.2L1402.5 1618.6L1403.0 1616.6L1403.4 1617.7L1403.9 1623.6L1404.3 1612.3L1404.8 1615.3L1405.2 1617.7L1405.7 1617.7L1406.2 1616.9L1406.6 1618.4L1407.1 1615.4L1407.5 1617.4L1408.0 1611.3L1408.4 1612.1L1408.9 1617.2" fill="none" stroke="#FF0088" stroke-width="5.2" stroke-linejoin="round" stroke-linecap="round"/>
<path d="M212.1 1871.9L212.5 1875.0L213.0 1874.6L213.5 1878.3L213.9 1876.3L214.4 1882.4L214.8 1882.9L215.3 1888.6L215.8 1888.8L216.2 1885.5L216.7 1882.9L217.2 1886.0L217.6 1884.5L218.1 1880.2L218.6 1886.3L219.0 1873.3L219.4 1881.4L219.9 1894.7L220.3 1891.0L220.8 1880.6L221.2 1889.9L221.6 1888.5L222.1 1884.4L222.5 1883.3L223.0 1886.8L223.4 1891.5L223.9 1888.5L224.3 1896.8L224.7 1887.9L225.2 1892.6L225.6 1882.6L226.1 1877.9L226.5 1885.6L227.0 1889.9L227.4 1899.0L227.8 1891.3L228.3 1892.3L228.7 1885.7L229.2 1889.9L229.6 1893.9L230.0 1890.8L230.5 1896.9L230.9 1900.8L231.4 1898.4L231.8 1894.8L232.3 1893.3L232.7 1896.9L233.1 1890.6L233.6 1898.3L234.0 1893.5L234.5 1896.4L234.9 1891.1L235.3 1890.5L235.8 1891.1L236.2 1897.8L236.7 1897.9L237.1 1898.3L237.6 1902.8L238.0 1895.6L238.4 1901.9L238.9 1897.1L239.3 1894.4L239.8 1895.4L240.2 1903.3L240.6 1908.6L241.1 1900.2L241.5 1895.5L242.0 1891.9L242.4 1898.5L242.9 1902.4L243.3 1903.6L243.7 1903.5L244.2 1908.8L244.6 1904.5L245.1 1905.0L245.5 1902.3L245.9 1898.5L246.4 1891.7L246.8 1900.2L247.3 1900.0L247.7 1900.5L248.2 1900.5L248.6 1903.6L249.0 1905.1L249.5 1895.0L249.9 1900.6L250.4 1906.1L250.8 1907.5L251.3 1905.6L251.7 1907.0L252.1 1899.6L252.6 1906.3L253.0 1905.7L253.5 1907.2L253.9 1910.5L254.3 1909.3L254.8 1903.5L255.2 1898.1L255.7 1903.5L256.1 1907.3L256.6 1909.5L257.0 1913.9L257.4 1912.5L257.9 1911.9L258.3 1902.6L258.8 1911.2L259.2 1911.2L259.6 1919.7L260.1 1916.6L260.5 1909.2L261.0 1910.8L261.4 1913.7L261.9 1907.9L262.3 1903.2L262.7 1911.0L263.2 1909.2L263.6 1910.3L264.1 1912.0L264.5 1910.9L264.9 1915.4L265.4 1914.6L265.8 1914.4L266.3 1916.9L266.7 1913.8L267.2 1907.8L267.6 1911.4L268.0 1906.9L268.5 1912.2L268.9 1907.9L269.4 1911.6L269.8 1918.2L270.3 1917.8L270.7 1911.5L271.1 1907.0L271.6 1909.9L272.0 1917.0L272.5 1917.2L272.9 1908.5L273.3 1916.1L273.8 1916.0L274.2 1917.9L274.7 1921.4L275.1 1913.2L275.6 1916.8L276.0 1916.3L276.4 1920.1L276.9 1915.6L277.3 1909.7L277.8 1914.7L278.2 1919.7L278.6 1916.1L279.1 1915.2L279.5 1916.8L280.0 1916.1L280.4 1914.9L280.9 1914.7L281.3 1922.5L281.7 1917.1L282.2 1918.2L282.6 1922.6L283.1 1923.8L283.5 1913.1L283.9 1913.5L284.4 1911.8L284.8 1915.9L285.3 1908.5L285.7 1909.8L286.2 1915.4L286.6 1919.1L287.0 1914.2L287.5 1918.4L287.9 1924.0L288.4 1916.7L288.8 1923.5L289.2 1920.3L289.7 1910.8L290.1 1917.4L290.6 1919.3L291.0 1925.4L291.5 1918.6L291.9 1926.7L292.3 1921.7L292.8 1922.6L293.2 1920.1L293.7 1922.4L294.1 1926.0L294.6 1922.3L295.0 1919.2L295.4 1923.1L295.9 1920.8L296.3 1922.4L296.8 1925.8L297.2 1923.6L297.6 1923.9L298.1 1923.5L298.5 1923.0L299.0 1926.0L299.4 1928.4L299.9 1925.7L300.3 1917.1L300.7 1915.6L301.2 1924.2L301.6 1929.5L302.1 1930.5L302.5 1924.0L302.9 1924.9L303.4 1922.2L303.8 1925.1L304.3 1924.2L304.7 1920.4L305.2 1925.5L305.6 1924.9L306.0 1932.8L306.5 1931.5L306.9 1920.9L307.4 1927.1L307.8 1922.1L308.2 1921.8L308.7 1923.4L309.1 1919.7L309.6 1935.2L310.0 1931.5L310.5 1923.9L310.9 1929.4L311.3 1918.1L311.8 1928.2L312.2 1927.1L312.7 1927.3L313.1 1930.0L313.5 1928.3L314.0 1929.2L314.4 1923.9L314.9 1927.6L315.3 1926.0L315.8 1928.8L316.2 1927.0L316.6 1928.8L317.1 1926.0L317.5 1922.4L318.0 1923.4L318.4 1930.1L318.9 1927.7L319.3 1928.4L319.7 1927.1L320.2 1931.4L320.6 1926.5L321.1 1918.2L321.5 1923.1L321.9 1924.8L322.4 1932.1L322.8 1927.0L323.3 1926.6L323.7 1930.5L324.2 1932.5L324.6 1929.0L325.0 1934.0L325.5 1929.3L325.9 1930.1L326.4 1926.5L326.8 1920.8L327.2 1924.6L327.7 1926.1L328.1 1925.6L328.6 1937.2L329.0 1926.6L329.5 1930.9L329.9 1936.2L330.3 1935.0L330.8 1933.9L331.2 1929.8L331.7 1928.5L332.1 1934.9L332.5 1938.1L333.0 1931.3L333.4 1932.9L333.9 1932.0L334.3 1934.3L334.8 1930.0L335.2 1934.9L335.6 1931.6L336.1 1933.1L336.5 1930.2L337.0 1935.5L337.4 1932.4L337.8 1934.8L338.3 1933.3L338.7 1936.1L339.2 1935.6L339.6 1942.7L340.1 1933.4L340.5 1936.3L340.9 1932.4L341.4 1933.5L341.8 1927.5L342.3 1936.0L342.7 1926.0L343.2 1934.0L343.6 1928.3L344.0 1930.9L344.5 1934.5L344.9 1931.2L345.4 1934.2L345.8 1933.7L346.2 1931.5L346.7 1934.6L347.1 1939.3L347.6 1936.7L348.0 1935.0L348.5 1934.8L348.9 1934.1L349.3 1938.5L349.8 1938.5L350.2 1935.1L350.7 1935.9L351.1 1931.3L351.5 1933.3L352.0 1935.1L352.4 1934.4L352.9 1934.2L353.3 1937.8L353.8 1937.9L354.2 1937.8L354.6 1927.6L355.1 1933.2L355.5 1931.8L356.0 1931.9L356.4 1934.1L356.8 1936.5L357.3 1928.9L357.7 1938.3L358.2 1937.7L358.6 1935.2L359.1 1931.4L359.5 1929.3L359.9 1938.2L360.4 1933.4L360.8 1933.5L361.3 1933.5L361.7 1933.9L362.2 1942.6L362.6 1943.2L363.0 1933.9L363.5 1931.8L363.9 1939.2L364.4 1937.3L364.8 1932.7L365.2 1932.7L365.7 1937.8L366.1 1935.6L366.6 1935.4L367.0 1947.8L367.5 1940.9L367.9 1934.5L368.3 1937.2L368.8 1932.8L369.2 1932.8L369.7 1933.6L370.1 1931.4L370.5 1935.5L371.0 1936.0L371.4 1935.8L371.9 1939.0L372.3 1940.7L372.8 1937.2L373.2 1940.7L373.6 1942.0L374.1 1936.7L374.5 1939.5L375.0 1933.9L375.4 1931.9L375.8 1935.2L376.3 1939.4L376.7 1944.7L377.2 1939.2L377.6 1941.2L378.1 1933.4L378.5 1936.3L378.9 1940.1L379.4 1935.2L379.8 1936.1L380.3 1937.0L380.7 1941.9L381.1 1933.7L381.6 1931.9L382.0 1936.6L382.5 1938.3L382.9 1937.3L383.4 1933.9L383.8 1934.8L384.2 1941.5L384.7 1935.7L385.1 1937.8L385.6 1939.3L386.0 1931.9L386.5 1930.6L387.0 1931.7L387.4 1929.6L387.9 1928.5L388.4 1927.2L388.8 1928.3L389.3 1929.5L389.7 1934.0L390.2 1934.1L390.7 1934.9L391.1 1939.2L391.6 1937.1L392.1 1935.1L392.5 1936.6L393.0 1929.6L393.5 1931.6L393.9 1933.7L394.4 1933.0L394.8 1932.5L395.3 1931.3L395.8 1926.6L396.2 1929.4L396.7 1924.9L397.2 1923.9L397.7 1920.0L398.2 1917.9L398.7 1921.3L399.2 1921.1L399.7 1921.8L400.1 1922.7L400.5 1926.7L400.9 1929.1L401.3 1937.1L401.8 1940.5L402.3 1932.4L402.7 1933.7L403.2 1930.6L403.7 1934.0L404.1 1938.6L404.6 1940.7L405.0 1940.7L405.5 1944.5L405.9 1938.0L406.4 1937.0L406.8 1939.7L407.3 1942.6L407.7 1940.2L408.2 1941.1L408.6 1945.2L409.1 1939.9L409.6 1940.6L410.0 1937.4L410.5 1941.9L410.9 1936.1L411.4 1939.6L411.8 1947.1L412.3 1942.5L412.7 1940.0L413.2 1941.1L413.6 1941.2L414.1 1939.8L414.5 1938.7L415.0 1940.3L415.4 1941.0L415.9 1938.4L416.3 1940.8L416.8 1939.0L417.2 1939.4L417.7 1939.0L418.2 1936.4L418.6 1933.6L419.1 1943.1L419.5 1938.6L420.0 1938.2L420.4 1940.3L420.9 1943.2L421.3 1941.1L421.8 1938.5L422.2 1942.6L422.7 1943.4L423.1 1940.3L423.6 1941.1L424.0 1941.5L424.5 1947.8L424.9 1944.5L425.4 1939.7L425.8 1941.3L426.3 1937.6L426.8 1941.7L427.2 1945.1L427.7 1946.3L428.1 1944.8L428.6 1941.6L429.0 1941.7L429.5 1940.0L429.9 1941.4L430.4 1937.6L430.8 1934.0L431.3 1940.3L431.7 1940.9L432.2 1939.2L432.6 1939.7L433.1 1943.8L433.5 1942.0L434.0 1944.8L434.4 1945.0L434.9 1940.8L435.4 1946.8L435.8 1947.0L436.3 1941.9L436.7 1943.1L437.2 1940.3L437.6 1942.1L438.1 1945.9L438.5 1943.2L439.0 1941.3L439.4 1944.4L439.9 1941.3L440.3 1943.2L440.8 1946.9L441.2 1946.5L441.7 1942.8L442.1 1942.3L442.6 1946.4L443.0 1949.2L443.5 1944.1L444.0 1943.6L444.4 1941.8L444.9 1940.3L445.3 1940.2L445.8 1941.8L446.2 1946.4L446.7 1947.9L447.1 1950.1L447.6 1943.9L448.0 1940.6L448.5 1944.8L448.9 1940.1L449.4 1940.8L449.8 1946.0L450.3 1947.4L450.7 1947.8L451.2 1942.8L451.6 1945.9L452.1 1945.6L452.6 1942.5L453.0 1945.3L453.5 1948.7L453.9 1943.9L454.4 1949.4L454.8 1946.9L455.3 1944.2L455.7 1938.2L456.2 1939.9L456.6 1940.5L457.1 1939.9L457.5 1944.5L458.0 1946.2L458.4 1944.6L458.9 1944.0L459.3 1943.4L459.8 1941.6L460.3 1941.8L460.7 1947.4L461.2 1942.1L461.6 1944.5L462.1 1944.9L462.5 1942.5L463.0 1943.8L463.4 1941.2L463.9 1940.0L464.4 1939.7L464.8 1942.6L465.3 1940.0L465.7 1932.8L466.2 1937.1L466.6 1937.5L467.1 1938.1L467.6 1936.0L468.0 1934.8L468.5 1937.6L469.0 1933.3L469.5 1930.4L469.9 1923.4L470.4 1922.4L470.8 1915.7L471.3 1909.0L471.7 1903.4L472.2 1895.0L472.6 1887.8L473.0 1878.3L473.4 1870.5L473.8 1858.3L474.2 1848.9L474.8 1833.9L475.3 1814.7L475.7 1809.4L476.1 1804.0L476.6 1808.8L477.0 1814.6L477.5 1836.2L478.1 1861.8L478.6 1880.9L479.2 1904.1L479.6 1911.6L480.0 1913.6L480.4 1919.7L480.8 1931.8L481.3 1929.3L481.7 1933.9L482.2 1929.8L482.6 1927.6L483.0 1928.4L483.5 1929.8L483.9 1924.9L484.4 1927.3L484.8 1915.5L485.2 1912.2L485.7 1913.4L486.1 1912.5L486.6 1911.1L487.0 1910.6L487.4 1909.6L487.9 1912.3L488.3 1914.7L488.7 1916.5L489.1 1918.9L489.5 1921.2L490.0 1924.9L490.4 1923.2L490.8 1928.8L491.3 1931.0L491.8 1931.3L492.2 1937.2L492.7 1937.0L493.2 1935.7L493.6 1936.3L494.1 1942.1L494.6 1939.8L495.0 1937.2L495.5 1938.7L495.9 1939.4L496.3 1938.2L496.8 1943.4L497.2 1939.4L497.7 1939.1L498.1 1940.3L498.5 1941.1L499.0 1939.7L499.4 1941.1L499.9 1943.2L500.4 1943.5L500.8 1942.0L501.3 1941.8L501.7 1945.5L502.2 1943.8L502.7 1942.3L503.1 1941.9L503.6 1946.6L504.0 1942.4L504.5 1947.4L504.9 1944.2L505.4 1944.5L505.9 1942.9L506.3 1944.5L506.8 1944.8L507.2 1941.9L507.7 1940.5L508.2 1937.9L508.6 1938.4L509.1 1941.9L509.5 1942.2L510.0 1941.7L510.4 1940.8L510.9 1939.9L511.4 1941.7L511.8 1939.8L512.3 1939.0L512.7 1941.8L513.2 1939.2L513.6 1937.9L514.1 1936.6L514.6 1935.4L515.0 1934.9L515.5 1936.8L516.0 1930.7L516.4 1929.2L516.9 1927.0L517.4 1919.8L517.8 1923.7L518.3 1918.2L518.8 1918.3L519.2 1916.4L519.7 1912.7L520.1 1909.9L520.5 1908.9L521.0 1905.2L521.4 1906.7L521.9 1907.9L522.3 1909.9L522.7 1910.8L523.2 1910.7L523.7 1922.9L524.3 1928.3L524.7 1926.2L525.2 1921.9L525.6 1916.7L526.0 1910.5L526.5 1902.2L526.9 1900.3L527.3 1897.0L527.7 1894.1L528.1 1890.9L528.5 1894.4L529.0 1897.7L529.4 1901.4L529.8 1907.4L530.2 1908.8L530.7 1914.1L531.1 1916.7L531.5 1921.8L532.0 1928.2L532.4 1929.4L532.9 1924.7L533.3 1928.0L533.7 1924.5L534.2 1921.2L534.6 1918.1L535.0 1908.5L535.4 1898.6L535.8 1891.8L536.3 1889.7L536.8 1884.6L537.3 1879.9L537.7 1884.2L538.1 1888.7L538.6 1893.4L539.0 1900.1L539.4 1905.9L539.8 1911.9L540.2 1921.4L540.7 1925.6L541.1 1927.3L541.6 1929.9L542.1 1934.0L542.5 1934.6L543.0 1938.0L543.4 1935.7L543.9 1938.8L544.3 1944.1L544.8 1942.3L545.3 1940.3L545.7 1937.9L546.2 1944.1L546.6 1944.6L547.1 1945.3L547.6 1942.2L548.0 1944.8L548.5 1943.1L548.9 1943.1L549.4 1937.1L549.8 1940.3L550.3 1942.0L550.8 1944.8L551.2 1945.7L551.7 1945.2L552.1 1943.4L552.6 1941.2L553.1 1940.2L553.5 1942.9L554.0 1936.8L554.4 1937.3L554.8 1933.1L555.3 1933.3L555.7 1935.3L556.2 1936.2L556.6 1930.7L557.0 1930.6L557.5 1926.8L557.9 1931.6L558.4 1930.6L558.8 1931.9L559.2 1921.6L559.7 1919.7L560.1 1921.7L560.6 1914.5L561.1 1912.5L561.6 1908.4L562.1 1906.7L562.5 1905.2L563.0 1907.0L563.5 1908.7L563.9 1913.2L564.4 1917.1L564.8 1921.9L565.2 1919.7L565.7 1925.5L566.1 1933.2L566.5 1928.7L566.9 1928.5L567.4 1929.1L567.8 1931.8L568.3 1926.2L568.7 1910.5L569.1 1900.9L569.6 1889.7L570.0 1879.9L570.5 1869.6L570.9 1858.1L571.3 1841.4L571.7 1827.6L572.1 1813.7L572.5 1809.5L572.9 1803.6L573.4 1797.6L573.8 1793.0L574.2 1798.3L574.6 1803.6L575.0 1811.1L575.4 1812.5L575.8 1829.1L576.2 1842.0L576.6 1859.0L577.1 1870.9L577.5 1880.5L577.9 1890.8L578.4 1901.9L578.8 1913.7L579.3 1929.1L579.7 1931.0L580.2 1928.6L580.7 1929.3L581.1 1931.0L581.6 1933.3L582.1 1933.7L582.6 1940.1L583.0 1938.4L583.4 1939.2L583.9 1939.4L584.3 1938.2L584.8 1936.3L585.2 1936.1L585.6 1933.9L586.1 1936.0L586.5 1937.3L587.0 1940.3L587.4 1937.1L587.9 1938.9L588.3 1935.2L588.8 1933.5L589.2 1935.0L589.7 1931.0L590.2 1931.8L590.6 1930.4L591.1 1930.8L591.5 1934.1L592.0 1930.1L592.5 1928.1L592.9 1923.5L593.3 1915.2L593.8 1901.3L594.2 1896.7L594.7 1890.5L595.1 1881.7L595.6 1864.6L596.1 1846.4L596.6 1834.8L597.0 1816.2L597.4 1793.6L597.9 1769.2L598.3 1759.8L598.7 1750.1L599.1 1741.0L599.5 1730.4L599.9 1743.9L600.3 1758.7L600.7 1773.3L601.1 1794.2L601.5 1816.7L601.8 1836.3L602.3 1856.4L602.7 1882.4L603.2 1905.1L603.6 1910.8L604.1 1915.2L604.6 1918.1L605.1 1926.2L605.5 1922.0L606.0 1928.5L606.5 1936.3L606.9 1934.1L607.4 1934.1L607.8 1936.2L608.3 1938.0L608.7 1939.2L609.1 1939.7L609.6 1938.3L610.0 1935.6L610.5 1936.8L610.9 1936.5L611.4 1940.7L611.8 1940.4L612.3 1933.6L612.7 1931.3L613.1 1933.2L613.6 1933.3L614.0 1933.5L614.5 1938.1L614.9 1939.6L615.4 1938.5L615.8 1939.4L616.3 1939.6L616.7 1938.2L617.1 1940.6L617.6 1939.5L618.0 1942.3L618.5 1938.2L618.9 1939.1L619.4 1938.1L619.8 1943.7L620.3 1942.6L620.7 1944.2L621.2 1940.8L621.6 1939.4L622.1 1935.5L622.5 1941.5L623.0 1939.0L623.4 1939.2L623.9 1939.5L624.3 1937.9L624.8 1935.0L625.2 1937.1L625.7 1944.9L626.1 1940.8L626.6 1939.7L627.0 1939.2L627.5 1938.7L627.9 1939.1L628.4 1936.4L628.8 1934.4L629.3 1932.1L629.7 1933.6L630.2 1935.4L630.7 1934.7L631.1 1937.2L631.6 1931.4L632.0 1927.9L632.5 1927.9L632.9 1930.3L633.4 1916.3L633.8 1913.2L634.3 1904.7L634.8 1899.6L635.3 1888.5L635.7 1877.5L636.2 1867.5L636.6 1856.6L637.0 1839.7L637.4 1821.1L637.9 1804.6L638.3 1795.7L638.7 1786.2L639.1 1776.2L639.5 1766.7L639.9 1776.0L640.3 1784.6L640.7 1795.3L641.2 1802.9L641.6 1813.2L642.0 1824.3L642.4 1835.8L642.8 1844.8L643.2 1862.2L643.6 1873.4L644.1 1886.5L644.5 1889.3L644.9 1895.7L645.3 1905.4L645.7 1916.5L646.1 1920.2L646.6 1924.6L647.1 1926.3L647.5 1926.0L648.0 1927.3L648.5 1931.1L648.9 1931.7L649.4 1934.7L649.9 1931.2L650.4 1931.6L650.8 1929.3L651.3 1930.5L651.8 1927.7L652.3 1922.9L652.7 1921.0L653.1 1913.7L653.6 1903.3L654.0 1894.7L654.4 1888.6L654.8 1874.5L655.2 1867.9L655.6 1850.4L656.0 1825.5L656.4 1809.8L656.9 1785.8L657.3 1762.7L657.7 1740.9L658.1 1712.7L658.5 1689.5L658.9 1658.0L659.4 1627.6L659.8 1596.6L660.3 1627.1L660.8 1657.1L661.3 1687.9L661.7 1714.8L662.1 1740.8L662.6 1766.5L663.0 1789.7L663.4 1807.7L663.8 1831.2L664.2 1849.8L664.6 1869.7L665.0 1881.3L665.5 1891.6L665.9 1900.2L666.3 1913.7L666.8 1922.6L667.2 1925.6L667.6 1930.4L668.0 1930.4L668.4 1934.6L668.8 1921.3L669.2 1916.0L669.7 1907.9L670.1 1899.7L670.5 1894.5L670.9 1885.4L671.3 1868.3L671.7 1849.6L672.1 1823.7L672.5 1806.4L673.0 1787.0L673.4 1766.3L673.8 1742.6L674.2 1722.2L674.6 1700.7L675.0 1677.4L675.4 1654.4L675.8 1677.4L676.2 1699.9L676.7 1720.5L677.1 1742.9L677.5 1763.5L677.9 1784.9L678.3 1804.0L678.7 1824.9L679.2 1845.8L679.6 1863.7L680.0 1884.2L680.4 1894.4L680.8 1903.0L681.2 1908.4L681.6 1907.5L682.0 1916.8L682.5 1929.4L682.9 1926.1L683.3 1928.1L683.7 1927.9L684.1 1932.8L684.5 1929.3L684.9 1932.3L685.3 1918.6L685.8 1909.2L686.2 1899.5L686.6 1885.8L687.0 1887.6L687.4 1886.3L687.8 1885.4L688.2 1884.0L688.7 1886.2L689.1 1889.5L689.5 1890.4L689.9 1894.4L690.3 1895.5L690.7 1897.7L691.1 1899.3L691.5 1897.9L692.0 1899.6L692.4 1896.2L692.8 1891.4L693.2 1892.9L693.6 1862.0L694.0 1837.7L694.4 1814.8L694.8 1789.6L695.2 1767.0L695.6 1735.2L696.0 1705.0L696.4 1681.2L696.9 1655.0L697.3 1629.6L697.7 1649.1L698.2 1666.7L698.6 1684.9L699.0 1704.1L699.4 1737.6L699.9 1762.5L700.3 1787.1L700.7 1812.6L701.1 1838.7L701.5 1864.5L702.0 1886.3L702.4 1900.7L702.9 1908.8L703.4 1922.6L703.9 1934.1L704.4 1933.5L704.8 1933.1L705.3 1937.8L705.7 1938.3L706.2 1939.0L706.6 1937.2L707.1 1944.3L707.5 1939.0L708.0 1935.3L708.4 1937.4L708.9 1937.9L709.3 1943.9L709.8 1943.1L710.3 1937.9L710.7 1936.7L711.2 1939.0L711.7 1943.2L712.1 1939.8L712.6 1936.4L713.0 1935.7L713.5 1939.5L714.0 1939.2L714.4 1941.6L714.9 1937.6L715.3 1939.3L715.8 1939.5L716.3 1942.9L716.7 1938.9L717.2 1936.4L717.6 1933.5L718.1 1933.0L718.6 1933.0L719.0 1930.8L719.5 1932.4L719.9 1935.0L720.4 1930.6L720.8 1933.1L721.3 1930.4L721.7 1930.6L722.2 1925.7L722.6 1926.5L723.1 1922.3L723.5 1919.9L724.0 1915.0L724.5 1905.1L725.0 1896.2L725.5 1891.7L726.0 1877.6L726.4 1869.8L726.9 1865.4L727.3 1859.5L727.8 1853.4L728.2 1847.6L728.6 1854.0L729.0 1858.4L729.5 1864.7L729.9 1872.8L730.3 1878.1L730.8 1889.1L731.2 1900.5L731.7 1902.9L732.2 1917.8L732.7 1920.6L733.2 1925.4L733.6 1925.1L734.1 1930.1L734.6 1930.8L735.1 1929.3L735.6 1934.6L736.0 1933.9L736.5 1936.8L737.0 1935.1L737.4 1937.3L737.9 1940.2L738.4 1937.6L738.8 1938.2L739.3 1934.8L739.7 1930.0L740.2 1930.5L740.7 1937.2L741.1 1933.8L741.6 1930.9L742.1 1933.7L742.6 1919.0L743.1 1907.1L743.5 1890.0L744.0 1873.5L744.5 1863.8L745.0 1852.8L745.5 1843.7L745.9 1835.1L746.4 1826.6L746.9 1835.2L747.3 1846.2L747.8 1855.5L748.2 1863.3L748.7 1875.7L749.2 1888.5L749.7 1905.6L750.2 1915.1L750.7 1928.1L751.2 1924.7L751.6 1928.5L752.1 1933.7L752.6 1937.9L753.0 1939.0L753.5 1938.9L754.0 1944.3L754.4 1941.9L754.9 1943.1L755.3 1942.3L755.8 1943.3L756.2 1943.0L756.7 1945.0L757.1 1944.6L757.6 1943.3L758.0 1945.8L758.5 1950.9L758.9 1952.2L759.4 1945.6L759.8 1942.6L760.3 1944.9L760.7 1941.6L761.2 1940.5L761.6 1943.0L762.1 1939.4L762.5 1942.9L763.0 1945.8L763.4 1941.0L763.9 1941.9L764.3 1940.5L764.8 1939.1L765.3 1937.7L765.7 1932.0L766.2 1932.1L766.6 1927.6L767.1 1929.0L767.6 1927.8L768.0 1924.8L768.5 1905.2L769.0 1891.9L769.5 1877.2L770.0 1866.7L770.5 1851.2L770.9 1835.4L771.3 1819.0L771.8 1802.8L772.2 1791.9L772.7 1781.9L773.1 1772.2L773.6 1761.0L774.1 1771.1L774.5 1782.2L775.0 1792.5L775.5 1807.0L775.9 1820.9L776.3 1843.4L776.7 1864.0L777.2 1878.2L777.6 1896.8L778.1 1914.5L778.6 1927.5L779.0 1926.6L779.4 1930.8L779.9 1932.7L780.3 1937.0L780.8 1934.6L781.2 1937.5L781.6 1935.7L782.1 1937.9L782.6 1934.9L783.1 1930.3L783.6 1928.3L784.1 1925.6L784.6 1926.3L785.1 1929.2L785.6 1929.7L786.1 1928.7L786.6 1929.6L787.1 1934.7L787.6 1932.0L788.1 1933.3L788.6 1937.0L789.1 1942.4L789.6 1936.4L790.1 1931.9L790.6 1927.7L791.1 1923.3L791.5 1917.1L792.0 1917.4L792.5 1916.3L792.9 1915.4L793.4 1917.1L793.9 1917.5L794.3 1925.8L794.8 1929.6L795.3 1930.6L795.8 1930.5L796.2 1936.4L796.7 1938.0L797.2 1937.6L797.7 1937.8L798.2 1935.5L798.7 1931.4L799.2 1930.1L799.7 1922.6L800.2 1923.1L800.7 1910.8L801.1 1900.0L801.6 1884.0L802.1 1872.9L802.5 1866.0L802.9 1856.5L803.3 1846.1L803.7 1836.5L804.2 1845.3L804.7 1854.8L805.2 1863.1L805.6 1879.5L806.0 1889.7L806.4 1902.7L806.9 1909.9L807.4 1913.9L807.9 1909.3L808.4 1915.0L808.9 1912.4L809.3 1901.6L809.7 1888.6L810.1 1876.4L810.5 1863.7L811.0 1867.7L811.5 1872.4L812.0 1879.5L812.4 1884.4L812.9 1896.9L813.4 1909.4L813.8 1923.0L814.3 1917.4L814.7 1915.4L815.1 1918.0L815.6 1918.2L816.0 1914.6L816.5 1916.3L816.9 1915.2L817.3 1909.6L817.8 1903.7L818.2 1906.4L818.7 1907.9L819.1 1903.3L819.6 1901.8L820.0 1904.9L820.5 1894.1L820.9 1879.9L821.4 1867.9L821.9 1863.8L822.3 1856.4L822.7 1842.4L823.1 1825.7L823.5 1820.1L823.9 1815.9L824.4 1810.3L824.8 1805.1L825.2 1799.4L825.6 1806.1L826.0 1813.0L826.4 1819.1L826.8 1825.9L827.3 1839.2L827.7 1852.7L828.2 1863.6L828.7 1877.6L829.1 1881.4L829.5 1899.7L829.9 1912.6L830.4 1907.1L830.9 1902.0L831.4 1896.2L831.9 1888.8L832.4 1882.3L832.8 1887.5L833.3 1892.3L833.8 1896.0L834.2 1900.4L834.7 1909.8L835.2 1916.4L835.6 1926.2L836.1 1931.2L836.5 1927.5L837.0 1928.9L837.5 1924.1L837.9 1929.4L838.4 1928.8L838.9 1928.4L839.3 1929.6L839.8 1926.7L840.3 1919.5L840.8 1913.7L841.3 1907.9L841.8 1902.9L842.3 1898.4L842.8 1901.4L843.3 1904.4L843.8 1906.7L844.2 1910.7L844.7 1910.7L845.2 1912.9L845.7 1923.2L846.2 1932.0L846.7 1939.8L847.2 1936.2L847.7 1939.7L848.1 1938.5L848.6 1942.8L849.0 1941.9L849.5 1943.2L849.9 1939.6L850.4 1940.6L850.8 1943.9L851.3 1942.8L851.7 1943.3L852.2 1947.2L852.6 1945.0L853.1 1948.6L853.6 1942.6L854.0 1944.3L854.5 1942.1L854.9 1945.4L855.4 1941.1L855.9 1941.8L856.3 1942.9L856.8 1945.0L857.3 1944.4L857.7 1942.4L858.2 1943.8L858.7 1944.5L859.1 1942.2L859.6 1946.0L860.0 1942.3L860.5 1945.3L860.9 1946.4L861.4 1938.3L861.8 1934.6L862.3 1936.4L862.7 1936.5L863.2 1932.6L863.6 1934.1L864.1 1934.3L864.5 1930.1L865.0 1923.8L865.5 1912.5L866.0 1899.7L866.5 1887.0L867.0 1878.6L867.5 1868.7L867.9 1863.7L868.3 1855.5L868.8 1847.1L869.2 1839.0L869.7 1845.9L870.1 1852.5L870.5 1858.8L870.9 1865.8L871.3 1876.7L871.8 1886.4L872.3 1902.7L872.7 1912.2L873.2 1922.5L873.7 1929.1L874.1 1933.7L874.6 1933.8L875.1 1933.9L875.5 1937.9L876.0 1940.3L876.4 1945.3L876.9 1943.5L877.4 1943.0L877.8 1944.8L878.3 1945.1L878.7 1946.5L879.2 1944.8L879.6 1945.2L880.1 1942.9L880.6 1944.1L881.0 1945.6L881.5 1945.9L881.9 1946.4L882.4 1944.4L882.8 1948.7L883.3 1946.6L883.8 1947.8L884.2 1951.6L884.7 1951.5L885.1 1951.0L885.6 1948.3L886.0 1947.9L886.5 1948.1L887.0 1947.8L887.4 1949.6L887.9 1950.7L888.3 1950.9L888.8 1948.5L889.2 1949.9L889.7 1951.0L890.1 1949.2L890.5 1947.4L891.0 1948.3L891.4 1950.8L891.9 1955.3L892.3 1952.4L892.8 1951.8L893.2 1947.8L893.7 1946.5L894.1 1945.5L894.6 1949.6L895.0 1948.2L895.5 1948.1L895.9 1949.4L896.4 1948.0L896.8 1950.8L897.3 1946.7L897.7 1947.2L898.1 1944.8L898.6 1948.4L899.0 1944.7L899.5 1949.2L899.9 1946.9L900.4 1947.9L900.8 1947.6L901.3 1949.2L901.7 1949.1L902.2 1947.9L902.6 1948.7L903.1 1950.0L903.5 1948.8L904.0 1948.5L904.4 1945.7L904.8 1948.0L905.3 1946.2L905.7 1946.5L906.2 1939.5L906.6 1940.6L907.1 1937.8L907.5 1935.7L908.0 1928.0L908.4 1925.3L908.9 1922.8L909.3 1915.2L909.8 1904.9L910.2 1901.6L910.7 1904.9L911.1 1901.1L911.5 1901.4L912.0 1897.0L912.4 1898.8L912.9 1900.8L913.3 1903.5L913.8 1900.3L914.2 1905.9L914.7 1908.1L915.1 1912.7L915.6 1916.1L916.0 1921.7L916.5 1926.1L916.9 1932.0L917.4 1932.3L917.8 1933.2L918.2 1938.3L918.7 1930.2L919.1 1933.3L919.6 1931.7L920.0 1928.4L920.5 1925.9L920.9 1923.3L921.4 1924.4L921.8 1924.2L922.3 1925.9L922.7 1926.4L923.2 1924.1L923.6 1923.9L924.1 1932.5L924.5 1933.1L924.9 1929.9L925.4 1935.7L925.8 1934.9L926.3 1935.0L926.7 1939.0L927.2 1942.2L927.6 1944.1L928.1 1941.1L928.5 1940.4L929.0 1940.2L929.4 1937.1L929.9 1934.1L930.4 1934.2L930.8 1933.1L931.3 1930.5L931.7 1929.5L932.2 1926.8L932.6 1929.5L933.1 1931.2L933.5 1933.9L933.9 1935.4L934.4 1942.7L934.8 1944.0L935.2 1947.6L935.7 1946.8L936.1 1948.5L936.6 1947.0L937.0 1948.8L937.5 1948.0L937.9 1944.6L938.4 1943.4L938.8 1944.0L939.2 1947.4L939.7 1944.1L940.1 1942.8L940.6 1944.7L941.0 1941.2L941.5 1941.8L941.9 1938.9L942.4 1936.2L942.8 1933.1L943.3 1931.7L943.7 1928.0L944.2 1925.9L944.6 1919.7L945.1 1918.9L945.5 1913.7L946.0 1915.2L946.4 1913.6L946.9 1913.5L947.3 1908.9L947.8 1908.9L948.2 1907.0L948.7 1904.6L949.2 1903.6L949.6 1903.7L950.0 1905.2L950.5 1907.0L950.9 1907.3L951.3 1909.6L951.8 1910.6L952.2 1911.3L952.6 1913.3L953.1 1918.3L953.5 1925.4L954.0 1932.1L954.4 1935.9L954.9 1934.2L955.3 1933.0L955.8 1939.4L956.2 1940.9L956.7 1948.1L957.1 1944.7L957.6 1940.3L958.0 1939.7L958.5 1935.9L958.9 1935.3L959.3 1931.8L959.8 1925.9L960.2 1924.1L960.7 1917.9L961.1 1912.2L961.6 1917.2L962.0 1912.4L962.5 1907.9L962.9 1904.2L963.4 1903.7L963.8 1901.8L964.3 1902.8L964.7 1902.2L965.2 1903.1L965.6 1899.9L966.0 1900.3L966.5 1901.7L966.9 1906.3L967.4 1908.2L967.8 1908.6L968.3 1910.9L968.7 1912.0L969.2 1917.2L969.6 1918.8L970.1 1921.6L970.5 1921.2L971.0 1925.0L971.4 1923.2L971.9 1925.0L972.3 1927.5L972.7 1931.6L973.2 1930.9L973.6 1930.7L974.1 1933.3L974.5 1929.5L975.0 1934.4L975.4 1934.7L975.9 1933.5L976.3 1938.4L976.8 1935.5L977.2 1938.2L977.7 1938.9L978.1 1942.2L978.6 1943.8L979.0 1939.0L979.5 1941.1L979.9 1940.6L980.3 1943.1L980.8 1946.2L981.2 1942.9L981.7 1943.7L982.1 1938.2L982.6 1931.6L983.0 1933.9L983.5 1933.1L983.9 1931.1L984.4 1925.7L984.8 1928.3L985.3 1928.4L985.7 1928.1L986.2 1923.9L986.6 1922.0L987.0 1919.7L987.5 1922.6L987.9 1924.1L988.4 1928.5L988.8 1932.4L989.3 1935.8L989.7 1935.2L990.2 1934.3L990.6 1935.7L991.1 1937.0L991.5 1939.4L992.0 1944.5L992.4 1946.5L992.9 1944.5L993.3 1945.3L993.8 1941.3L994.2 1934.0L994.7 1932.2L995.1 1922.6L995.6 1915.4L996.0 1910.7L996.5 1904.9L997.0 1900.6L997.4 1894.7L997.8 1897.1L998.3 1899.9L998.7 1903.7L999.1 1907.0L999.6 1910.7L1000.0 1916.5L1000.4 1914.6L1000.9 1921.5L1001.3 1920.5L1001.8 1921.7L1002.2 1927.3L1002.7 1932.6L1003.1 1935.7L1003.6 1934.5L1004.0 1937.6L1004.5 1941.6L1004.9 1940.6L1005.4 1942.9L1005.8 1940.6L1006.3 1946.7L1006.7 1942.3L1007.1 1942.4L1007.6 1943.8L1008.0 1947.3L1008.5 1947.7L1008.9 1949.0L1009.4 1948.1L1009.8 1947.6L1010.3 1944.5L1010.7 1944.8L1011.2 1950.3L1011.6 1949.0L1012.1 1946.7L1012.5 1946.2L1013.0 1943.6L1013.4 1944.2L1013.8 1947.6L1014.3 1948.3L1014.7 1947.3L1015.2 1946.1L1015.6 1945.2L1016.1 1944.6L1016.5 1943.1L1017.0 1937.4L1017.4 1932.6L1017.9 1920.0L1018.3 1913.1L1018.8 1909.8L1019.2 1902.3L1019.7 1894.9L1020.1 1887.5L1020.5 1892.6L1021.0 1898.0L1021.4 1903.7L1021.9 1906.6L1022.3 1914.5L1022.8 1915.2L1023.2 1908.3L1023.7 1906.7L1024.1 1904.2L1024.6 1899.1L1025.0 1893.1L1025.5 1887.5L1025.9 1891.5L1026.4 1896.7L1026.8 1900.3L1027.3 1904.7L1027.7 1909.1L1028.1 1913.3L1028.6 1920.3L1029.0 1924.8L1029.5 1923.9L1029.9 1924.8L1030.4 1927.4L1030.8 1926.3L1031.3 1930.5L1031.7 1932.9L1032.2 1937.7L1032.6 1940.3L1033.1 1939.8L1033.5 1940.6L1034.0 1934.4L1034.4 1935.3L1034.8 1937.6L1035.3 1934.7L1035.7 1934.1L1036.2 1934.0L1036.6 1934.5L1037.1 1934.8L1037.5 1934.5L1038.0 1937.2L1038.4 1937.3L1038.9 1935.6L1039.3 1938.3L1039.8 1936.4L1040.2 1940.0L1040.7 1944.5L1041.1 1944.1L1041.5 1946.7L1042.0 1946.6L1042.4 1943.2L1042.9 1945.1L1043.3 1943.5L1043.8 1949.9L1044.2 1949.4L1044.7 1948.8L1045.1 1944.4L1045.6 1943.1L1046.0 1944.3L1046.5 1949.7L1046.9 1947.7L1047.4 1947.5L1047.8 1951.9L1048.2 1949.2L1048.7 1946.4L1049.1 1946.5L1049.6 1944.1L1050.0 1943.5L1050.5 1942.9L1050.9 1943.9L1051.4 1943.9L1051.8 1945.7L1052.3 1944.5L1052.7 1942.9L1053.2 1943.7L1053.6 1946.7L1054.1 1945.3L1054.5 1945.8L1054.9 1949.3L1055.4 1941.0L1055.8 1943.1L1056.3 1943.7L1056.7 1943.3L1057.2 1940.7L1057.6 1936.2L1058.1 1937.8L1058.5 1939.2L1059.0 1937.9L1059.4 1935.6L1059.9 1933.9L1060.3 1936.2L1060.8 1934.1L1061.2 1932.6L1061.6 1930.3L1062.1 1928.4L1062.5 1927.6L1063.0 1926.8L1063.4 1928.3L1063.9 1930.5L1064.3 1929.9L1064.8 1933.8L1065.2 1933.7L1065.7 1933.2L1066.1 1938.6L1066.6 1938.2L1067.0 1940.6L1067.5 1942.7L1067.9 1941.1L1068.4 1938.4L1068.8 1942.0L1069.2 1943.1L1069.7 1943.0L1070.1 1942.6L1070.6 1946.3L1071.0 1945.4L1071.5 1947.8L1071.9 1947.5L1072.4 1947.3L1072.8 1945.8L1073.3 1946.3L1073.7 1946.4L1074.2 1944.8L1074.6 1945.7L1075.1 1941.8L1075.5 1940.4L1075.9 1939.9L1076.4 1939.3L1076.8 1939.5L1077.3 1940.4L1077.7 1940.4L1078.2 1941.8L1078.6 1942.0L1079.1 1943.8L1079.5 1947.1L1080.0 1946.3L1080.4 1946.8L1080.9 1946.4L1081.3 1950.9L1081.8 1946.3L1082.2 1949.3L1082.6 1948.6L1083.1 1946.3L1083.5 1949.3L1084.0 1950.8L1084.4 1946.2L1084.9 1947.4L1085.3 1953.0L1085.8 1948.3L1086.2 1952.0L1086.7 1950.7L1087.1 1951.9L1087.6 1950.6L1088.0 1953.9L1088.5 1949.6L1088.9 1954.0L1089.3 1953.7L1089.8 1953.8L1090.2 1950.2L1090.7 1952.7L1091.1 1952.9L1091.6 1952.5L1092.0 1952.2L1092.5 1950.0L1092.9 1951.3L1093.4 1948.1L1093.8 1948.8L1094.3 1947.0L1094.7 1949.3L1095.2 1948.0L1095.6 1946.8L1096.0 1947.1L1096.5 1950.1L1096.9 1943.3L1097.4 1942.4L1097.8 1943.4L1098.3 1944.8L1098.7 1942.0L1099.2 1939.0L1099.6 1939.3L1100.1 1940.4L1100.5 1938.9L1101.0 1938.2L1101.4 1937.6L1101.9 1938.2L1102.3 1939.6L1102.7 1939.7L1103.2 1942.3L1103.6 1945.8L1104.1 1946.8L1104.5 1945.2L1105.0 1945.8L1105.4 1943.9L1105.9 1947.9L1106.3 1949.0L1106.8 1947.9L1107.2 1944.8L1107.7 1935.5L1108.1 1941.4L1108.6 1940.6L1109.0 1938.5L1109.5 1936.3L1109.9 1935.1L1110.3 1933.4L1110.8 1931.1L1111.2 1930.1L1111.7 1928.3L1112.1 1926.8L1112.6 1927.6L1113.0 1929.1L1113.5 1929.5L1113.9 1931.5L1114.4 1933.7L1114.8 1934.2L1115.3 1936.8L1115.7 1936.2L1116.2 1936.0L1116.6 1940.6L1117.0 1942.0L1117.5 1940.4L1117.9 1942.6L1118.4 1943.4L1118.8 1944.9L1119.3 1948.6L1119.7 1948.6L1120.2 1952.9L1120.6 1953.2L1121.1 1949.9L1121.5 1947.9L1121.9 1950.5L1122.4 1951.2L1122.8 1949.3L1123.3 1947.7L1123.7 1947.7L1124.1 1943.9L1124.6 1944.0L1125.0 1945.0L1125.5 1948.2L1125.9 1946.1L1126.3 1947.7L1126.8 1947.6L1127.2 1947.6L1127.7 1949.6L1128.1 1947.3L1128.5 1944.1L1129.0 1949.9L1129.4 1952.4L1129.9 1947.6L1130.3 1947.1L1130.8 1948.2L1131.2 1950.7L1131.7 1944.9L1132.1 1946.3L1132.6 1942.3L1133.0 1942.0L1133.4 1944.3L1133.9 1942.6L1134.3 1946.2L1134.8 1946.7L1135.2 1944.9L1135.7 1943.3L1136.1 1944.5L1136.6 1940.5L1137.0 1948.8L1137.5 1947.5L1137.9 1948.9L1138.4 1946.0L1138.8 1943.7L1139.3 1943.3L1139.7 1945.4L1140.2 1947.2L1140.6 1947.4L1141.1 1943.0L1141.5 1950.3L1142.0 1945.3L1142.4 1946.9L1142.9 1944.0L1143.3 1943.2L1143.8 1946.8L1144.2 1946.7L1144.7 1945.2L1145.1 1944.3L1145.5 1946.1L1146.0 1948.8L1146.4 1944.8L1146.9 1949.5L1147.3 1947.0L1147.8 1944.9L1148.2 1951.4L1148.7 1950.9L1149.1 1950.6L1149.6 1944.5L1150.0 1948.3L1150.5 1945.1L1150.9 1947.1L1151.4 1946.8L1151.8 1950.2L1152.3 1942.8L1152.7 1940.0L1153.1 1941.4L1153.6 1938.7L1154.0 1939.6L1154.5 1932.4L1154.9 1931.9L1155.3 1932.1L1155.8 1929.3L1156.2 1929.1L1156.7 1927.8L1157.1 1926.4L1157.6 1928.5L1158.0 1931.2L1158.5 1932.8L1158.9 1936.9L1159.4 1939.8L1159.9 1938.5L1160.3 1938.2L1160.8 1942.4L1161.2 1944.6L1161.7 1947.8L1162.2 1942.4L1162.6 1940.7L1163.1 1938.2L1163.6 1937.8L1164.0 1935.0L1164.5 1935.9L1165.0 1933.2L1165.5 1934.2L1165.9 1937.7L1166.4 1933.7L1166.8 1934.0L1167.2 1928.5L1167.6 1920.3L1168.0 1910.9L1168.5 1905.6L1168.9 1903.6L1169.4 1903.3L1169.9 1898.8L1170.4 1896.2L1170.9 1892.4L1171.4 1895.0L1171.8 1898.3L1172.3 1899.3L1172.7 1901.3L1173.2 1903.1L1173.6 1907.4L1174.1 1912.8L1174.5 1912.8L1174.9 1919.9L1175.4 1923.1L1175.8 1926.9L1176.3 1927.1L1176.7 1929.6L1177.2 1930.0L1177.6 1930.4L1178.1 1931.3L1178.6 1936.0L1179.0 1936.4L1179.5 1936.9L1180.0 1934.9L1180.4 1932.9L1180.9 1936.3L1181.4 1942.3L1181.9 1938.0L1182.3 1936.7L1182.8 1936.3L1183.2 1934.1L1183.7 1929.1L1184.1 1928.7L1184.6 1930.2L1185.1 1926.0L1185.5 1925.5L1186.0 1925.3L1186.4 1920.1L1186.9 1919.1L1187.3 1919.4L1187.8 1917.4L1188.2 1917.0L1188.7 1912.4L1189.1 1909.0L1189.6 1908.0L1190.0 1906.7L1190.5 1904.1L1190.9 1901.6L1191.4 1904.8L1191.9 1908.5L1192.3 1912.1L1192.8 1915.8L1193.3 1920.2L1193.8 1924.6L1194.2 1921.1L1194.7 1923.1L1195.1 1922.8L1195.6 1924.9L1196.1 1926.4L1196.5 1928.1L1197.0 1928.8L1197.4 1924.7L1197.9 1926.0L1198.4 1924.6L1198.8 1922.6L1199.3 1929.0L1199.7 1931.4L1200.2 1933.6L1200.6 1936.9L1201.1 1940.8L1201.6 1939.6L1202.0 1936.4L1202.5 1944.3L1202.9 1940.6L1203.4 1939.5L1203.8 1941.9L1204.3 1948.5L1204.8 1946.2L1205.2 1944.3L1205.7 1945.0L1206.1 1947.8L1206.6 1943.1L1207.1 1943.2L1207.5 1939.8L1208.0 1938.7L1208.4 1936.6L1208.9 1935.1L1209.3 1934.8L1209.8 1930.2L1210.3 1928.5L1210.7 1921.7L1211.2 1921.3L1211.6 1920.2L1212.0 1917.0L1212.5 1912.4L1212.9 1907.8L1213.4 1905.7L1213.8 1902.7L1214.3 1906.0L1214.7 1909.7L1215.1 1913.0L1215.6 1914.5L1216.0 1918.9L1216.5 1920.6L1216.9 1923.8L1217.3 1919.4L1217.8 1920.4L1218.2 1920.2L1218.7 1914.4L1219.1 1912.1L1219.6 1911.2L1220.0 1908.9L1220.4 1911.1L1220.9 1913.5L1221.3 1914.7L1221.8 1918.8L1222.2 1919.9L1222.7 1922.4L1223.1 1920.1L1223.6 1923.1L1224.0 1925.5L1224.5 1928.0L1225.0 1930.4L1225.4 1930.1L1225.9 1939.5L1226.4 1941.0L1226.8 1939.6L1227.3 1941.8L1227.8 1945.0L1228.2 1941.6L1228.7 1938.1L1229.2 1935.6L1229.6 1931.8L1230.1 1929.7L1230.5 1924.6L1231.0 1918.7L1231.5 1916.6L1231.9 1913.5L1232.4 1909.9L1232.8 1912.1L1233.3 1914.1L1233.7 1918.5L1234.1 1921.1L1234.6 1919.3L1235.0 1922.0L1235.5 1923.7L1235.9 1922.9L1236.3 1927.6L1236.8 1929.9L1237.2 1931.9L1237.7 1931.0L1238.1 1931.3L1238.6 1935.6L1239.0 1933.6L1239.4 1929.2L1239.9 1924.4L1240.3 1921.0L1240.8 1920.9L1241.2 1916.7L1241.6 1914.0L1242.1 1915.2L1242.6 1915.7L1243.0 1914.8L1243.5 1913.9L1243.9 1916.4L1244.4 1920.0L1244.9 1917.6L1245.3 1919.0L1245.8 1915.4L1246.2 1914.7L1246.6 1913.6L1247.0 1910.6L1247.4 1905.0L1247.8 1904.3L1248.3 1893.2L1248.7 1883.5L1249.2 1872.0L1249.6 1859.8L1250.1 1850.3L1250.5 1839.8L1251.0 1848.1L1251.5 1857.0L1252.0 1867.7L1252.5 1875.3L1253.0 1882.9L1253.4 1887.6L1253.9 1901.9L1254.3 1910.5L1254.8 1914.2L1255.2 1923.1L1255.6 1933.1L1256.1 1940.2L1256.6 1937.8L1257.0 1941.8L1257.5 1943.8L1258.0 1946.4L1258.4 1948.0L1258.9 1947.8L1259.4 1944.3L1259.8 1944.3L1260.3 1941.0L1260.8 1945.9L1261.2 1941.8L1261.7 1945.2L1262.1 1943.2L1262.6 1940.1L1263.0 1940.2L1263.4 1938.7L1263.9 1939.6L1264.3 1933.9L1264.8 1922.1L1265.2 1912.7L1265.7 1902.1L1266.1 1891.0L1266.5 1880.8L1267.0 1872.9L1267.4 1863.4L1267.9 1842.7L1268.4 1823.3L1268.9 1804.7L1269.3 1815.2L1269.8 1826.9L1270.2 1839.5L1270.7 1851.0L1271.1 1866.1L1271.5 1872.3L1272.0 1878.3L1272.4 1887.2L1272.9 1895.2L1273.3 1901.6L1273.8 1907.8L1274.2 1916.1L1274.6 1923.3L1275.1 1921.8L1275.5 1929.0L1275.9 1931.9L1276.3 1935.6L1276.7 1937.2L1277.1 1923.4L1277.5 1910.4L1277.9 1902.7L1278.4 1895.1L1278.8 1883.5L1279.2 1868.7L1279.7 1854.6L1280.1 1842.9L1280.5 1829.4L1281.0 1815.3L1281.4 1802.7L1281.9 1815.7L1282.4 1829.2L1282.9 1840.0L1283.4 1853.8L1283.9 1866.7L1284.3 1868.1L1284.7 1869.0L1285.2 1868.1L1285.6 1870.7L1286.0 1871.2L1286.4 1886.7L1286.8 1893.1L1287.2 1909.8L1287.6 1925.7L1288.0 1939.3L1288.5 1940.2L1288.9 1939.9L1289.4 1942.0L1289.8 1941.7L1290.3 1945.3L1290.7 1942.0L1291.2 1943.3L1291.6 1942.7L1292.1 1939.0L1292.6 1937.6L1293.0 1936.7L1293.5 1940.5L1293.9 1940.2L1294.4 1942.1L1294.8 1943.7L1295.3 1943.4L1295.7 1942.2L1296.2 1941.8L1296.6 1942.2L1297.1 1942.7L1297.5 1943.9L1298.0 1945.4L1298.5 1942.2L1298.9 1944.9L1299.4 1944.2L1299.8 1938.1L1300.3 1929.7L1300.7 1925.4L1301.1 1923.4L1301.6 1918.5L1302.0 1911.2L1302.5 1905.8L1302.9 1901.4L1303.3 1899.2L1303.7 1894.4L1304.1 1890.7L1304.5 1887.2L1305.0 1892.0L1305.4 1895.4L1305.9 1896.8L1306.3 1901.7L1306.7 1906.7L1307.2 1910.4L1307.6 1914.9L1308.0 1923.5L1308.5 1925.9L1308.9 1931.1L1309.3 1938.0L1309.7 1942.8L1310.1 1941.8L1310.6 1945.4L1311.0 1940.8L1311.5 1940.6L1311.9 1938.7L1312.3 1939.7L1312.8 1942.3L1313.2 1940.0L1313.7 1939.0L1314.1 1938.1L1314.6 1940.8L1315.0 1942.6L1315.4 1942.1L1315.9 1941.6L1316.3 1938.7L1316.8 1939.8L1317.2 1941.6L1317.7 1944.1L1318.1 1937.1L1318.6 1940.6L1319.0 1940.2L1319.5 1939.8L1319.9 1939.3L1320.4 1941.7L1320.8 1941.7L1321.3 1940.8L1321.7 1942.8L1322.2 1941.7L1322.6 1942.4L1323.0 1938.4L1323.5 1939.7L1323.9 1940.7L1324.4 1947.2L1324.8 1942.9L1325.3 1945.2L1325.7 1943.3L1326.2 1943.2L1326.6 1940.6L1327.1 1943.4L1327.5 1945.0L1328.0 1938.6L1328.4 1938.7L1328.9 1936.6L1329.3 1937.5L1329.8 1941.8L1330.2 1939.9L1330.7 1938.2L1331.1 1936.1L1331.6 1937.4L1332.0 1937.0L1332.5 1937.5L1332.9 1939.8L1333.4 1937.5L1333.8 1935.4L1334.3 1935.0L1334.7 1934.0L1335.2 1937.4L1335.6 1935.6L1336.0 1932.7L1336.5 1929.3L1337.0 1929.3L1337.4 1929.3L1337.9 1928.7L1338.3 1924.9L1338.8 1920.4L1339.2 1917.8L1339.7 1918.5L1340.2 1916.2L1340.6 1912.2L1341.1 1915.6L1341.5 1913.0L1341.9 1911.6L1342.4 1911.2L1342.8 1913.0L1343.3 1912.0L1343.7 1907.6L1344.2 1903.3L1344.6 1904.9L1345.0 1906.7L1345.5 1907.2L1345.9 1907.4L1346.4 1906.2L1346.8 1905.8L1347.3 1906.0L1347.7 1909.2L1348.2 1909.0L1348.6 1913.0L1349.1 1912.6L1349.6 1915.6L1350.0 1917.9L1350.5 1916.2L1350.9 1919.1L1351.4 1919.4L1351.8 1918.3L1352.3 1923.4L1352.8 1930.2L1353.2 1930.1L1353.7 1930.5L1354.1 1931.1L1354.6 1935.5L1355.1 1934.4L1355.5 1935.2L1355.9 1932.3L1356.4 1934.0L1356.8 1939.4L1357.3 1937.7L1357.7 1937.0L1358.1 1937.6L1358.6 1941.3L1359.0 1939.1L1359.5 1942.6L1359.9 1944.6L1360.4 1941.6L1360.8 1944.9L1361.2 1944.7L1361.7 1936.9L1362.1 1940.2L1362.6 1939.3L1363.0 1941.9L1363.4 1940.6L1363.9 1938.9L1364.3 1936.6L1364.8 1935.9L1365.2 1932.7L1365.7 1934.0L1366.1 1936.2L1366.5 1936.3L1367.0 1935.0L1367.4 1934.6L1367.9 1935.5L1368.3 1936.5L1368.8 1935.2L1369.3 1937.1L1369.7 1937.5L1370.2 1942.0L1370.6 1941.2L1371.1 1942.7L1371.5 1947.9L1372.0 1940.8L1372.5 1938.3L1372.9 1933.6L1373.4 1929.3L1373.8 1932.6L1374.3 1933.9L1374.8 1932.3L1375.2 1930.1L1375.7 1929.9L1376.1 1929.1L1376.6 1928.7L1377.1 1931.0L1377.5 1928.9L1378.0 1924.1L1378.5 1921.7L1379.0 1926.2L1379.4 1922.1L1379.9 1922.1L1380.4 1922.0L1380.8 1921.2L1381.3 1923.8L1381.7 1926.3L1382.2 1927.7L1382.6 1931.7L1383.0 1933.9L1383.5 1938.7L1383.9 1938.9L1384.4 1941.3L1384.8 1934.3L1385.3 1933.5L1385.8 1932.4L1386.2 1930.9L1386.7 1925.3L1387.1 1925.7L1387.6 1923.7L1388.0 1922.3L1388.5 1923.8L1389.0 1927.6L1389.4 1926.9L1389.9 1927.3L1390.3 1929.5L1390.8 1933.9L1391.2 1935.4L1391.7 1936.8L1392.2 1942.3L1392.6 1940.4L1393.0 1943.7L1393.5 1941.9L1393.9 1941.6L1394.4 1940.5L1394.8 1946.6L1395.3 1948.9L1395.7 1946.5L1396.1 1947.2L1396.6 1946.6L1397.0 1948.5L1397.5 1946.0L1397.9 1946.3L1398.4 1944.4L1398.8 1944.0L1399.3 1946.6L1399.7 1945.2L1400.2 1946.6L1400.6 1946.3L1401.1 1946.2L1401.6 1947.5L1402.0 1946.1L1402.5 1947.4L1402.9 1952.4L1403.4 1951.3L1403.8 1950.4L1404.3 1952.2L1404.8 1947.7L1405.2 1943.7L1405.7 1942.4L1406.1 1948.6L1406.6 1947.1L1407.1 1947.3L1407.5 1947.3L1408.0 1945.5L1408.4 1943.2L1408.9 1944.6L1409.3 1943.6L1409.8 1945.6L1410.3 1943.7L1410.7 1941.2" fill="none" stroke="#FF0000" stroke-width="5.2" stroke-linejoin="round" stroke-linecap="round"/></g>
<rect x="406.5" y="401.5" width="270.5" height="104" fill="none" stroke="#0000AA" stroke-width="6.5"/>
<g transform="translate(0,467.7) scale(1,1.050) translate(0,-467.7)"><text y="467.7" font-size="58.5" font-family="Liberation Sans" font-weight="bold"><tspan x="434.8">Mg</tspan><tspan x="520" y="486.5" font-size="40">2</tspan><tspan x="542" y="467.7">VO</tspan><tspan x="627" y="486.5" font-size="40">4</tspan></text></g>
<rect x="268" y="1243.7" width="164.6" height="86.7" fill="none" stroke="#FF8000" stroke-width="6.5"/>
<g transform="translate(0,1308.6) scale(1,1.060) translate(0,-1308.6)"><text x="285.5" y="1308.6" font-size="59.5" font-family="Liberation Sans" font-weight="bold">MgO</text></g>
<rect x="180.8" y="1632.4" width="365.7" height="197.1" fill="none" stroke="#FF0000" stroke-width="7"/>
<g transform="translate(0,1706.8) scale(1,1.040) translate(0,-1706.8)"><text x="217.4" y="1706.8" font-size="58.5" font-family="Liberation Sans" font-weight="bold">MgO +</text></g>
<text x="0" y="0" font-size="60" font-family="Liberation Serif" transform="translate(217.3,1783.7) scale(1.14,0.93)">α</text>
<g transform="translate(0,1783.9) scale(1,1.045) translate(0,-1783.9)"><text y="1783.9" font-size="60" font-family="Liberation Sans" font-weight="bold"><tspan x="253.8">-</tspan><tspan x="272.5">Mg</tspan><tspan x="358" y="1802.5" font-size="41">2</tspan><tspan x="379.4" y="1783.9">V</tspan><tspan x="418.8" y="1802.5" font-size="41">2</tspan><tspan x="441" y="1783.9">O</tspan><tspan x="486" y="1802.5" font-size="41">7</tspan></text></g>
<text x="987.3" y="557.0" font-size="55.1" font-family="Liberation Sans" font-weight="bold">AV18c</text>
<text x="1002.2" y="894.4" font-size="55.4" font-family="Liberation Sans" font-weight="bold">AV8c</text>
<text x="988.9" y="1096.5" font-size="53.2" font-family="Liberation Sans" font-weight="bold">DV13c</text>
<text x="1003.9" y="1434.3" font-size="53.6" font-family="Liberation Sans" font-weight="bold">CV3c</text>
<text x="988.9" y="1568.5" font-size="53.2" font-family="Liberation Sans" font-weight="bold">NV12c</text>
<text x="989.4" y="1839.0" font-size="53.3" font-family="Liberation Sans" font-weight="bold">CV25c</text>
<text x="457.4" y="910.3" font-size="64" font-family="Liberation Sans" font-weight="bold">v</text>
<text x="679.0" y="922.0" font-size="64" font-family="Liberation Sans" font-weight="bold">v</text>
<text x="776.5" y="880.1" font-size="64" font-family="Liberation Sans" font-weight="bold">v</text>
<text x="1161.2" y="932.7" font-size="64" font-family="Liberation Sans" font-weight="bold">v</text>
<text x="466.6" y="1108.0" font-size="64" font-family="Liberation Sans" font-weight="bold">v</text>
<text x="610.9" y="1101.2" font-size="64" font-family="Liberation Sans" font-weight="bold">v</text>
<text x="672.9" y="1095.3" font-size="64" font-family="Liberation Sans" font-weight="bold">v</text>
<text x="481.7" y="1573.7" font-size="64" font-family="Liberation Sans" font-weight="bold">v</text>
<text x="630.2" y="1556.6" font-size="64" font-family="Liberation Sans" font-weight="bold">v</text>
<text x="677.1" y="1532.6" font-size="64" font-family="Liberation Sans" font-weight="bold">v</text>
<text x="901.3" y="988.0" font-size="65" font-family="Liberation Sans" font-weight="bold">o</text>
<text x="1264.9" y="986.9" font-size="65" font-family="Liberation Sans" font-weight="bold">o</text>
<text x="905.6" y="1406.7" font-size="65" font-family="Liberation Sans" font-weight="bold">o</text>
<text x="1261.6" y="1431.2" font-size="65" font-family="Liberation Sans" font-weight="bold">o</text>

<line x1="472.2" y1="792.2" x2="472.0" y2="712.0" stroke="#0000AA" stroke-width="7"/><polygon points="472.3,841.2 484.7,790.2 459.7,790.2" fill="#0000AA"/>
<line x1="690.6" y1="802.6" x2="690.3" y2="723.0" stroke="#0000AA" stroke-width="7"/><polygon points="690.8,852.2 703.3,800.6 677.9,800.6" fill="#0000AA"/>
<line x1="1174.5" y1="800.3" x2="1174.5" y2="720.1" stroke="#0000AA" stroke-width="7"/><polygon points="1174.5,849.3 1186.9,798.3 1162.1,798.3" fill="#0000AA"/>
<line x1="504.2" y1="1418.4" x2="505.6" y2="1497.2" stroke="#FF0000" stroke-width="6.8"/><polygon points="503.4,1369.4 491.9,1420.6 516.7,1420.2" fill="#FF0000"/>
<line x1="633.8" y1="1292.7" x2="635.4" y2="1372.7" stroke="#FF0000" stroke-width="6.8"/><polygon points="632.9,1244.0 621.5,1294.9 646.3,1294.4" fill="#FF0000"/>
<line x1="690.3" y1="1284.9" x2="691.5" y2="1365.3" stroke="#FF0000" stroke-width="6.8"/><polygon points="689.5,1236.3 677.8,1287.1 702.8,1286.7" fill="#FF0000"/>
<line x1="821.0" y1="1650.9" x2="822.7" y2="1731.3" stroke="#FF0000" stroke-width="6.8"/><polygon points="820.0,1601.9 808.6,1653.1 833.6,1652.6" fill="#FF0000"/>
</svg></body></html>
